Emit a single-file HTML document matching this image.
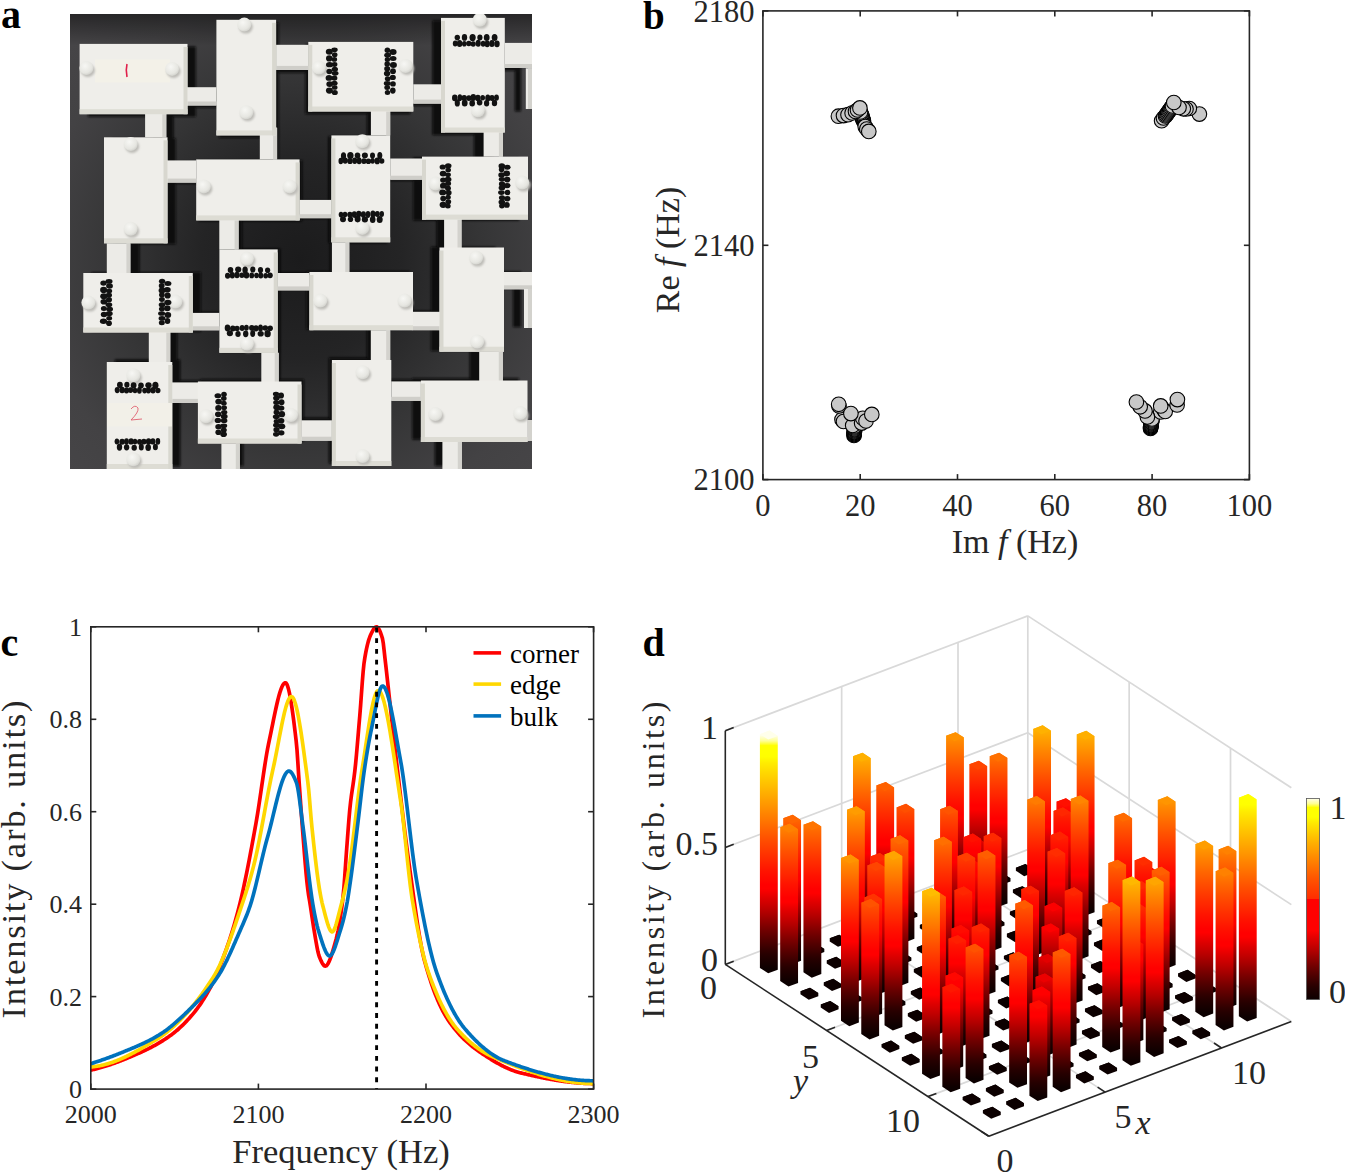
<!DOCTYPE html>
<html><head><meta charset="utf-8"><title>Figure</title>
<style>html,body{margin:0;padding:0;background:#fff;} body{width:1345px;height:1173px;overflow:hidden;font-family:"Liberation Serif",serif;} svg{display:block;}</style>
</head><body>
<svg width="1345" height="1173" viewBox="0 0 1345 1173" font-family="Liberation Serif"><defs><linearGradient id="bgg" x1="0" y1="0" x2="1" y2="1"><stop offset="0" stop-color="#2c2b2d"/><stop offset="0.3" stop-color="#3d3c3e"/><stop offset="1" stop-color="#4a494b"/></linearGradient><filter id="blur3" x="-20%" y="-20%" width="140%" height="140%"><feGaussianBlur stdDeviation="0.9"/></filter><filter id="blur1" x="-20%" y="-20%" width="140%" height="140%"><feGaussianBlur stdDeviation="0.8"/></filter><radialGradient id="knob" cx="0.4" cy="0.35" r="0.7"><stop offset="0" stop-color="#f7f7f4"/><stop offset="0.7" stop-color="#e6e6e1"/><stop offset="1" stop-color="#cfcfca"/></radialGradient><clipPath id="pclip"><rect x="70" y="14" width="462" height="455"/></clipPath></defs>
<g clip-path="url(#pclip)">
<defs><radialGradient id="bgr" gradientUnits="userSpaceOnUse" cx="300" cy="260" r="330"><stop offset="0" stop-color="#1b1b1c"/><stop offset="0.3" stop-color="#242425"/><stop offset="0.55" stop-color="#353536"/><stop offset="0.8" stop-color="#434244"/><stop offset="1" stop-color="#474648"/></radialGradient><linearGradient id="topdark" x1="0" y1="0" x2="0" y2="1"><stop offset="0" stop-color="#000" stop-opacity="0.45"/><stop offset="1" stop-color="#000" stop-opacity="0"/></linearGradient></defs>
<rect x="70" y="14" width="462" height="455" fill="url(#bgr)"/>
<rect x="70" y="14" width="462" height="32" fill="url(#topdark)"/>
<g filter="url(#blur3)" fill="#0b0b0b" opacity="0.97">
<rect x="87.9" y="46.5" width="107.9" height="70.3"/>
<rect x="219.1" y="22.4" width="59.7" height="115.6"/>
<rect x="112.2" y="138.2" width="63.5" height="106.0"/>
<rect x="198.8" y="160.3" width="103.4" height="61.0"/>
<rect x="305.3" y="44.5" width="105.0" height="69.6"/>
<rect x="432.4" y="20.5" width="63.8" height="114.6"/>
<rect x="328.4" y="136.3" width="58.8" height="106.9"/>
<rect x="413.2" y="157.5" width="106.0" height="63.0"/>
<rect x="91.4" y="272.2" width="109.5" height="59.5"/>
<rect x="222.0" y="248.6" width="58.3" height="103.4"/>
<rect x="114.8" y="359.5" width="65.5" height="107.0"/>
<rect x="200.4" y="379.1" width="103.6" height="62.0"/>
<rect x="306.3" y="271.2" width="103.6" height="58.2"/>
<rect x="430.9" y="246.8" width="64.5" height="104.2"/>
<rect x="328.8" y="357.6" width="59.4" height="106.0"/>
<rect x="412.2" y="378.1" width="106.6" height="61.5"/>
<rect x="191.4" y="89.5" width="29.9" height="18.3"/>
<rect x="276.5" y="47.7" width="32.2" height="25.1"/>
<rect x="152.3" y="107.4" width="21.2" height="31.8"/>
<rect x="261.4" y="129.3" width="17.3" height="31.7"/>
<rect x="171.4" y="161.6" width="30.8" height="22.2"/>
<rect x="406.9" y="86.6" width="29.9" height="19.3"/>
<rect x="366.9" y="105.6" width="19.3" height="31.8"/>
<rect x="493.9" y="45.8" width="27.2" height="25.1"/>
<rect x="473.9" y="126.4" width="19.3" height="31.8"/>
<rect x="384.9" y="159.7" width="31.8" height="21.2"/>
<rect x="298.8" y="200.5" width="31.8" height="18.3"/>
<rect x="222.9" y="219.4" width="19.3" height="30.2"/>
<rect x="436.5" y="218.5" width="17.4" height="30.2"/>
<rect x="514.8" y="70.7" width="6.2" height="40.7"/>
<rect x="115.9" y="243.2" width="23.6" height="29.7"/>
<rect x="193.5" y="311.8" width="30.7" height="17.4"/>
<rect x="155.8" y="329.9" width="21.5" height="30.7"/>
<rect x="278.0" y="272.5" width="31.7" height="17.4"/>
<rect x="262.8" y="351.0" width="17.4" height="30.7"/>
<rect x="174.0" y="380.3" width="30.7" height="20.5"/>
<rect x="224.9" y="440.5" width="18.4" height="25.5"/>
<rect x="329.9" y="242.2" width="17.4" height="29.7"/>
<rect x="406.3" y="310.7" width="30.7" height="18.4"/>
<rect x="366.8" y="328.8" width="19.4" height="30.8"/>
<rect x="492.9" y="271.5" width="28.2" height="17.3"/>
<rect x="469.6" y="349.9" width="23.6" height="30.7"/>
<rect x="300.5" y="417.6" width="30.6" height="20.4"/>
<rect x="386.0" y="379.3" width="29.6" height="19.4"/>
<rect x="434.8" y="438.7" width="19.4" height="27.3"/>
<rect x="516.3" y="417.3" width="4.7" height="21.0"/>
<rect x="513.0" y="288.1" width="8.0" height="39.0"/>
</g>
<rect x="186.5" y="87.2" width="29.9" height="18.3" fill="#ecebe7"/>
<rect x="186.5" y="101.5" width="29.9" height="4" fill="#cfcec9"/>
<rect x="276.1" y="44.8" width="32.2" height="25.1" fill="#ecebe7"/>
<rect x="276.1" y="65.9" width="32.2" height="4" fill="#cfcec9"/>
<rect x="145.1" y="105.5" width="21.2" height="31.8" fill="#ecebe7"/>
<rect x="162.3" y="105.5" width="4" height="31.8" fill="#d3d2cd"/>
<rect x="259.8" y="127.7" width="17.3" height="31.7" fill="#ecebe7"/>
<rect x="273.1" y="127.7" width="4" height="31.7" fill="#d3d2cd"/>
<rect x="165.4" y="160.4" width="30.8" height="22.2" fill="#ecebe7"/>
<rect x="165.4" y="178.6" width="30.8" height="4" fill="#cfcec9"/>
<rect x="413.3" y="84.3" width="29.9" height="19.3" fill="#ecebe7"/>
<rect x="413.3" y="99.6" width="29.9" height="4" fill="#cfcec9"/>
<rect x="370.9" y="103.6" width="19.3" height="31.8" fill="#ecebe7"/>
<rect x="386.2" y="103.6" width="4" height="31.8" fill="#d3d2cd"/>
<rect x="504.8" y="42.9" width="27.2" height="25.1" fill="#ecebe7"/>
<rect x="504.8" y="64.0" width="27.2" height="4" fill="#cfcec9"/>
<rect x="483.6" y="124.8" width="19.3" height="31.8" fill="#ecebe7"/>
<rect x="498.9" y="124.8" width="4" height="31.8" fill="#d3d2cd"/>
<rect x="390.2" y="158.5" width="31.8" height="21.2" fill="#ecebe7"/>
<rect x="390.2" y="175.7" width="31.8" height="4" fill="#cfcec9"/>
<rect x="299.6" y="199.9" width="31.8" height="18.3" fill="#ecebe7"/>
<rect x="299.6" y="214.2" width="31.8" height="4" fill="#cfcec9"/>
<rect x="219.3" y="219.2" width="19.3" height="30.2" fill="#ecebe7"/>
<rect x="234.6" y="219.2" width="4" height="30.2" fill="#d3d2cd"/>
<rect x="444.1" y="218.2" width="17.4" height="30.2" fill="#ecebe7"/>
<rect x="457.5" y="218.2" width="4" height="30.2" fill="#d3d2cd"/>
<rect x="525.8" y="68.3" width="6.2" height="40.7" fill="#ecebe7"/>
<rect x="528.0" y="68.3" width="4" height="40.7" fill="#d3d2cd"/>
<rect x="106.8" y="243.3" width="23.6" height="29.7" fill="#ecebe7"/>
<rect x="126.4" y="243.3" width="4" height="29.7" fill="#d3d2cd"/>
<rect x="188.7" y="312.9" width="30.7" height="17.4" fill="#ecebe7"/>
<rect x="188.7" y="326.3" width="30.7" height="4" fill="#cfcec9"/>
<rect x="148.8" y="331.3" width="21.5" height="30.7" fill="#ecebe7"/>
<rect x="166.3" y="331.3" width="4" height="30.7" fill="#d3d2cd"/>
<rect x="277.7" y="273.0" width="31.7" height="17.4" fill="#ecebe7"/>
<rect x="277.7" y="286.4" width="31.7" height="4" fill="#cfcec9"/>
<rect x="261.3" y="352.8" width="17.4" height="30.7" fill="#ecebe7"/>
<rect x="274.7" y="352.8" width="4" height="30.7" fill="#d3d2cd"/>
<rect x="168.2" y="382.4" width="30.7" height="20.5" fill="#ecebe7"/>
<rect x="168.2" y="398.9" width="30.7" height="4" fill="#cfcec9"/>
<rect x="221.4" y="443.5" width="18.4" height="25.5" fill="#ecebe7"/>
<rect x="235.8" y="443.5" width="4" height="25.5" fill="#d3d2cd"/>
<rect x="331.9" y="242.3" width="17.4" height="29.7" fill="#ecebe7"/>
<rect x="345.3" y="242.3" width="4" height="29.7" fill="#d3d2cd"/>
<rect x="412.7" y="311.8" width="30.7" height="18.4" fill="#ecebe7"/>
<rect x="412.7" y="326.2" width="30.7" height="4" fill="#cfcec9"/>
<rect x="370.8" y="330.2" width="19.4" height="30.8" fill="#ecebe7"/>
<rect x="386.2" y="330.2" width="4" height="30.8" fill="#d3d2cd"/>
<rect x="503.8" y="272.0" width="28.2" height="17.3" fill="#ecebe7"/>
<rect x="503.8" y="285.3" width="28.2" height="4" fill="#cfcec9"/>
<rect x="479.2" y="351.7" width="23.6" height="30.7" fill="#ecebe7"/>
<rect x="498.8" y="351.7" width="4" height="30.7" fill="#d3d2cd"/>
<rect x="301.3" y="420.3" width="30.6" height="20.4" fill="#ecebe7"/>
<rect x="301.3" y="436.7" width="30.6" height="4" fill="#cfcec9"/>
<rect x="391.3" y="381.4" width="29.6" height="19.4" fill="#ecebe7"/>
<rect x="391.3" y="396.8" width="29.6" height="4" fill="#cfcec9"/>
<rect x="442.4" y="441.7" width="19.4" height="27.3" fill="#ecebe7"/>
<rect x="457.8" y="441.7" width="4" height="27.3" fill="#d3d2cd"/>
<rect x="527.3" y="420.0" width="4.7" height="21.0" fill="#ecebe7"/>
<rect x="528.0" y="420.0" width="4" height="21.0" fill="#d3d2cd"/>
<rect x="524.0" y="289.0" width="8.0" height="39.0" fill="#ecebe7"/>
<rect x="528.0" y="289.0" width="4" height="39.0" fill="#d3d2cd"/>
<rect x="79.6" y="43.9" width="107.9" height="70.3" fill="#efeeea"/>
<rect x="79.6" y="109.2" width="107.9" height="5" fill="#dddcd4"/>
<rect x="183.5" y="46.9" width="4" height="67.3" fill="#d8d7cf"/>
<rect x="216.4" y="19.8" width="59.7" height="115.6" fill="#efeeea"/>
<rect x="216.4" y="130.4" width="59.7" height="5" fill="#dddcd4"/>
<rect x="272.1" y="22.8" width="4" height="112.6" fill="#d8d7cf"/>
<rect x="104.0" y="137.3" width="63.5" height="106.0" fill="#efeeea"/>
<rect x="104.0" y="238.3" width="63.5" height="5" fill="#dddcd4"/>
<rect x="163.5" y="140.3" width="4" height="103.0" fill="#d8d7cf"/>
<rect x="196.2" y="159.4" width="103.4" height="61.0" fill="#efeeea"/>
<rect x="196.2" y="215.4" width="103.4" height="5" fill="#dddcd4"/>
<rect x="295.6" y="162.4" width="4" height="58.0" fill="#d8d7cf"/>
<rect x="308.3" y="41.9" width="105.0" height="69.6" fill="#efeeea"/>
<rect x="308.3" y="106.5" width="105.0" height="5" fill="#dddcd4"/>
<rect x="308.3" y="44.9" width="4" height="66.6" fill="#d8d7cf"/>
<rect x="441.0" y="17.9" width="63.8" height="114.6" fill="#efeeea"/>
<rect x="441.0" y="127.5" width="63.8" height="5" fill="#dddcd4"/>
<rect x="441.0" y="20.9" width="4" height="111.6" fill="#d8d7cf"/>
<rect x="331.4" y="135.4" width="58.8" height="106.9" fill="#efeeea"/>
<rect x="331.4" y="237.3" width="58.8" height="5" fill="#dddcd4"/>
<rect x="331.4" y="138.4" width="4" height="103.9" fill="#d8d7cf"/>
<rect x="422.0" y="156.6" width="106.0" height="63.0" fill="#efeeea"/>
<rect x="422.0" y="214.6" width="106.0" height="5" fill="#dddcd4"/>
<rect x="422.0" y="159.6" width="4" height="60.0" fill="#d8d7cf"/>
<rect x="83.3" y="273.0" width="109.5" height="59.5" fill="#efeeea"/>
<rect x="83.3" y="327.5" width="109.5" height="5" fill="#dddcd4"/>
<rect x="188.8" y="276.0" width="4" height="56.5" fill="#d8d7cf"/>
<rect x="219.4" y="249.4" width="58.3" height="103.4" fill="#efeeea"/>
<rect x="219.4" y="347.8" width="58.3" height="5" fill="#dddcd4"/>
<rect x="273.7" y="252.4" width="4" height="100.4" fill="#d8d7cf"/>
<rect x="106.8" y="362.0" width="65.5" height="107.0" fill="#efeeea"/>
<rect x="106.8" y="464.0" width="65.5" height="5" fill="#dddcd4"/>
<rect x="168.3" y="365.0" width="4" height="104.0" fill="#d8d7cf"/>
<rect x="197.9" y="381.5" width="103.6" height="62.0" fill="#efeeea"/>
<rect x="197.9" y="438.5" width="103.6" height="5" fill="#dddcd4"/>
<rect x="297.5" y="384.5" width="4" height="59.0" fill="#d8d7cf"/>
<rect x="309.4" y="272.0" width="103.6" height="58.2" fill="#efeeea"/>
<rect x="309.4" y="325.2" width="103.6" height="5" fill="#dddcd4"/>
<rect x="309.4" y="275.0" width="4" height="55.2" fill="#d8d7cf"/>
<rect x="439.5" y="247.5" width="64.5" height="104.2" fill="#efeeea"/>
<rect x="439.5" y="346.7" width="64.5" height="5" fill="#dddcd4"/>
<rect x="439.5" y="250.5" width="4" height="101.2" fill="#d8d7cf"/>
<rect x="331.9" y="360.0" width="59.4" height="106.0" fill="#efeeea"/>
<rect x="331.9" y="461.0" width="59.4" height="5" fill="#dddcd4"/>
<rect x="331.9" y="363.0" width="4" height="103.0" fill="#d8d7cf"/>
<rect x="420.9" y="380.5" width="106.6" height="61.5" fill="#efeeea"/>
<rect x="420.9" y="437.0" width="106.6" height="5" fill="#dddcd4"/>
<rect x="420.9" y="383.5" width="4" height="58.5" fill="#d8d7cf"/>
<rect x="95" y="59.3" width="75" height="23" fill="#f3f1e8"/>
<path d="M127,64 Q125.5,70 127,77" stroke="#e0204a" stroke-width="1.6" fill="none"/>
<rect x="107" y="403" width="65" height="23.5" fill="#f2f0e8"/>
<path d="M131,409 Q135,404 138,408 Q139,412 131,420 L142,419" stroke="#e06070" stroke-width="0.9" fill="none"/>
<ellipse cx="87.9" cy="70.5" rx="7" ry="6.5" fill="#bdbcb7" filter="url(#blur1)"/>
<circle cx="86.4" cy="68.0" r="7" fill="url(#knob)"/>
<ellipse cx="173.6" cy="71.4" rx="7" ry="6.5" fill="#bdbcb7" filter="url(#blur1)"/>
<circle cx="172.1" cy="68.9" r="7" fill="url(#knob)"/>
<ellipse cx="245.8" cy="27.1" rx="7" ry="6.5" fill="#bdbcb7" filter="url(#blur1)"/>
<circle cx="244.3" cy="24.6" r="7" fill="url(#knob)"/>
<ellipse cx="247.8" cy="114.7" rx="7" ry="6.5" fill="#bdbcb7" filter="url(#blur1)"/>
<circle cx="246.3" cy="112.2" r="7" fill="url(#knob)"/>
<ellipse cx="132.2" cy="146.5" rx="7" ry="6.5" fill="#bdbcb7" filter="url(#blur1)"/>
<circle cx="130.7" cy="144.0" r="7" fill="url(#knob)"/>
<ellipse cx="132.2" cy="231.3" rx="7" ry="6.5" fill="#bdbcb7" filter="url(#blur1)"/>
<circle cx="130.7" cy="228.8" r="7" fill="url(#knob)"/>
<ellipse cx="205.4" cy="188.9" rx="7" ry="6.5" fill="#bdbcb7" filter="url(#blur1)"/>
<circle cx="203.9" cy="186.4" r="7" fill="url(#knob)"/>
<ellipse cx="291.1" cy="188.9" rx="7" ry="6.5" fill="#bdbcb7" filter="url(#blur1)"/>
<circle cx="289.6" cy="186.4" r="7" fill="url(#knob)"/>
<ellipse cx="320.4" cy="70.1" rx="7" ry="6.5" fill="#bdbcb7" filter="url(#blur1)"/>
<circle cx="318.9" cy="67.6" r="7" fill="url(#knob)"/>
<ellipse cx="407.1" cy="68.5" rx="7" ry="6.5" fill="#bdbcb7" filter="url(#blur1)"/>
<circle cx="405.6" cy="66.0" r="7" fill="url(#knob)"/>
<ellipse cx="481.3" cy="22.3" rx="7" ry="6.5" fill="#bdbcb7" filter="url(#blur1)"/>
<circle cx="479.8" cy="19.8" r="7" fill="url(#knob)"/>
<ellipse cx="479.4" cy="112.8" rx="7" ry="6.5" fill="#bdbcb7" filter="url(#blur1)"/>
<circle cx="477.9" cy="110.3" r="7" fill="url(#knob)"/>
<ellipse cx="363.8" cy="143.7" rx="7" ry="6.5" fill="#bdbcb7" filter="url(#blur1)"/>
<circle cx="362.3" cy="141.2" r="7" fill="url(#knob)"/>
<ellipse cx="363.8" cy="230.4" rx="7" ry="6.5" fill="#bdbcb7" filter="url(#blur1)"/>
<circle cx="362.3" cy="227.9" r="7" fill="url(#knob)"/>
<ellipse cx="437.0" cy="186.1" rx="7" ry="6.5" fill="#bdbcb7" filter="url(#blur1)"/>
<circle cx="435.5" cy="183.6" r="7" fill="url(#knob)"/>
<ellipse cx="523.7" cy="185.1" rx="7" ry="6.5" fill="#bdbcb7" filter="url(#blur1)"/>
<circle cx="522.2" cy="182.6" r="7" fill="url(#knob)"/>
<ellipse cx="89.9" cy="305.1" rx="7" ry="6.5" fill="#bdbcb7" filter="url(#blur1)"/>
<circle cx="88.4" cy="302.6" r="7" fill="url(#knob)"/>
<ellipse cx="176.9" cy="304.1" rx="7" ry="6.5" fill="#bdbcb7" filter="url(#blur1)"/>
<circle cx="175.4" cy="301.6" r="7" fill="url(#knob)"/>
<ellipse cx="248.5" cy="261.1" rx="7" ry="6.5" fill="#bdbcb7" filter="url(#blur1)"/>
<circle cx="247.0" cy="258.6" r="7" fill="url(#knob)"/>
<ellipse cx="248.5" cy="346.1" rx="7" ry="6.5" fill="#bdbcb7" filter="url(#blur1)"/>
<circle cx="247.0" cy="343.6" r="7" fill="url(#knob)"/>
<ellipse cx="134.9" cy="377.8" rx="7" ry="6.5" fill="#bdbcb7" filter="url(#blur1)"/>
<circle cx="133.4" cy="375.3" r="7" fill="url(#knob)"/>
<ellipse cx="134.9" cy="461.7" rx="7" ry="6.5" fill="#bdbcb7" filter="url(#blur1)"/>
<circle cx="133.4" cy="459.2" r="7" fill="url(#knob)"/>
<ellipse cx="207.6" cy="418.7" rx="7" ry="6.5" fill="#bdbcb7" filter="url(#blur1)"/>
<circle cx="206.1" cy="416.2" r="7" fill="url(#knob)"/>
<ellipse cx="292.5" cy="417.6" rx="7" ry="6.5" fill="#bdbcb7" filter="url(#blur1)"/>
<circle cx="291.0" cy="415.1" r="7" fill="url(#knob)"/>
<ellipse cx="321.8" cy="303.1" rx="7" ry="6.5" fill="#bdbcb7" filter="url(#blur1)"/>
<circle cx="320.3" cy="300.6" r="7" fill="url(#knob)"/>
<ellipse cx="406.1" cy="303.1" rx="7" ry="6.5" fill="#bdbcb7" filter="url(#blur1)"/>
<circle cx="404.6" cy="300.6" r="7" fill="url(#knob)"/>
<ellipse cx="477.7" cy="260.1" rx="7" ry="6.5" fill="#bdbcb7" filter="url(#blur1)"/>
<circle cx="476.2" cy="257.6" r="7" fill="url(#knob)"/>
<ellipse cx="478.7" cy="344.0" rx="7" ry="6.5" fill="#bdbcb7" filter="url(#blur1)"/>
<circle cx="477.2" cy="341.5" r="7" fill="url(#knob)"/>
<ellipse cx="364.1" cy="374.7" rx="7" ry="6.5" fill="#bdbcb7" filter="url(#blur1)"/>
<circle cx="362.6" cy="372.2" r="7" fill="url(#knob)"/>
<ellipse cx="364.1" cy="458.6" rx="7" ry="6.5" fill="#bdbcb7" filter="url(#blur1)"/>
<circle cx="362.6" cy="456.1" r="7" fill="url(#knob)"/>
<ellipse cx="436.8" cy="416.6" rx="7" ry="6.5" fill="#bdbcb7" filter="url(#blur1)"/>
<circle cx="435.3" cy="414.1" r="7" fill="url(#knob)"/>
<ellipse cx="521.7" cy="415.6" rx="7" ry="6.5" fill="#bdbcb7" filter="url(#blur1)"/>
<circle cx="520.2" cy="413.1" r="7" fill="url(#knob)"/>
<ellipse cx="334.5" cy="49.8" rx="3.2" ry="2.3" fill="#121212"/>
<ellipse cx="334.7" cy="54.7" rx="2.8" ry="2.5" fill="#121212"/>
<ellipse cx="334.3" cy="59.4" rx="2.8" ry="2.3" fill="#121212"/>
<ellipse cx="334.6" cy="64.5" rx="2.8" ry="2.4" fill="#121212"/>
<ellipse cx="334.8" cy="69.3" rx="3.2" ry="2.5" fill="#121212"/>
<ellipse cx="335.1" cy="73.3" rx="3.4" ry="2.4" fill="#121212"/>
<ellipse cx="334.4" cy="78.1" rx="3.0" ry="2.7" fill="#121212"/>
<ellipse cx="334.4" cy="83.2" rx="3.2" ry="2.5" fill="#121212"/>
<ellipse cx="334.7" cy="87.5" rx="2.8" ry="2.3" fill="#121212"/>
<ellipse cx="334.8" cy="92.5" rx="3.0" ry="2.6" fill="#121212"/>
<ellipse cx="329.3" cy="51.8" rx="3.5" ry="3.0" fill="#121212"/>
<ellipse cx="329.2" cy="58.4" rx="3.2" ry="3.1" fill="#121212"/>
<ellipse cx="329.6" cy="64.7" rx="3.6" ry="2.6" fill="#121212"/>
<ellipse cx="329.3" cy="71.5" rx="2.9" ry="2.8" fill="#121212"/>
<ellipse cx="329.0" cy="77.9" rx="3.4" ry="2.9" fill="#121212"/>
<ellipse cx="329.7" cy="84.1" rx="3.4" ry="2.9" fill="#121212"/>
<ellipse cx="329.4" cy="90.6" rx="3.5" ry="3.1" fill="#121212"/>
<ellipse cx="387.4" cy="50.2" rx="2.8" ry="2.7" fill="#121212"/>
<ellipse cx="387.6" cy="55.2" rx="3.4" ry="2.4" fill="#121212"/>
<ellipse cx="387.4" cy="59.6" rx="2.7" ry="2.5" fill="#121212"/>
<ellipse cx="387.2" cy="63.9" rx="2.8" ry="2.7" fill="#121212"/>
<ellipse cx="387.2" cy="68.7" rx="3.0" ry="2.8" fill="#121212"/>
<ellipse cx="387.1" cy="73.6" rx="3.2" ry="2.8" fill="#121212"/>
<ellipse cx="387.7" cy="78.7" rx="2.9" ry="2.5" fill="#121212"/>
<ellipse cx="387.3" cy="83.4" rx="3.5" ry="2.3" fill="#121212"/>
<ellipse cx="387.2" cy="87.6" rx="2.9" ry="2.5" fill="#121212"/>
<ellipse cx="387.5" cy="92.4" rx="2.7" ry="2.5" fill="#121212"/>
<ellipse cx="393.0" cy="52.0" rx="3.6" ry="3.0" fill="#121212"/>
<ellipse cx="393.1" cy="58.5" rx="3.4" ry="2.5" fill="#121212"/>
<ellipse cx="393.4" cy="65.1" rx="3.5" ry="3.0" fill="#121212"/>
<ellipse cx="393.0" cy="71.2" rx="2.9" ry="2.9" fill="#121212"/>
<ellipse cx="392.8" cy="77.4" rx="3.0" ry="2.6" fill="#121212"/>
<ellipse cx="393.0" cy="83.9" rx="2.8" ry="2.6" fill="#121212"/>
<ellipse cx="392.8" cy="90.6" rx="2.8" ry="3.1" fill="#121212"/>
<ellipse cx="455.2" cy="43.4" rx="2.4" ry="3.0" fill="#121212"/>
<ellipse cx="459.6" cy="43.4" rx="2.8" ry="3.5" fill="#121212"/>
<ellipse cx="464.3" cy="43.7" rx="2.3" ry="2.8" fill="#121212"/>
<ellipse cx="468.8" cy="43.5" rx="2.7" ry="2.8" fill="#121212"/>
<ellipse cx="473.2" cy="44.0" rx="2.6" ry="2.8" fill="#121212"/>
<ellipse cx="478.2" cy="43.3" rx="2.6" ry="3.5" fill="#121212"/>
<ellipse cx="483.1" cy="43.8" rx="2.4" ry="3.0" fill="#121212"/>
<ellipse cx="487.2" cy="43.9" rx="2.6" ry="3.3" fill="#121212"/>
<ellipse cx="491.9" cy="43.4" rx="2.7" ry="3.5" fill="#121212"/>
<ellipse cx="497.0" cy="43.9" rx="2.7" ry="3.3" fill="#121212"/>
<ellipse cx="457.3" cy="37.6" rx="2.7" ry="2.8" fill="#121212"/>
<ellipse cx="464.5" cy="37.4" rx="2.7" ry="3.4" fill="#121212"/>
<ellipse cx="472.6" cy="37.6" rx="3.1" ry="3.6" fill="#121212"/>
<ellipse cx="479.9" cy="37.5" rx="2.6" ry="3.0" fill="#121212"/>
<ellipse cx="486.7" cy="37.4" rx="2.9" ry="3.5" fill="#121212"/>
<ellipse cx="494.6" cy="37.6" rx="2.9" ry="3.5" fill="#121212"/>
<ellipse cx="454.8" cy="97.9" rx="2.8" ry="3.3" fill="#121212"/>
<ellipse cx="459.9" cy="97.7" rx="2.3" ry="3.4" fill="#121212"/>
<ellipse cx="464.2" cy="98.0" rx="2.8" ry="3.0" fill="#121212"/>
<ellipse cx="468.9" cy="98.1" rx="2.7" ry="2.9" fill="#121212"/>
<ellipse cx="473.3" cy="97.5" rx="2.8" ry="3.4" fill="#121212"/>
<ellipse cx="477.9" cy="98.0" rx="2.8" ry="3.2" fill="#121212"/>
<ellipse cx="482.7" cy="97.8" rx="2.3" ry="2.7" fill="#121212"/>
<ellipse cx="487.8" cy="97.9" rx="2.6" ry="3.5" fill="#121212"/>
<ellipse cx="492.0" cy="98.0" rx="2.7" ry="2.9" fill="#121212"/>
<ellipse cx="496.5" cy="97.6" rx="2.4" ry="3.2" fill="#121212"/>
<ellipse cx="457.3" cy="102.9" rx="2.6" ry="3.6" fill="#121212"/>
<ellipse cx="464.7" cy="103.0" rx="2.9" ry="3.6" fill="#121212"/>
<ellipse cx="472.2" cy="103.3" rx="2.8" ry="3.2" fill="#121212"/>
<ellipse cx="479.6" cy="102.6" rx="2.8" ry="3.0" fill="#121212"/>
<ellipse cx="486.6" cy="103.2" rx="2.6" ry="3.2" fill="#121212"/>
<ellipse cx="494.5" cy="103.0" rx="2.7" ry="3.2" fill="#121212"/>
<ellipse cx="340.8" cy="161.0" rx="2.3" ry="3.2" fill="#121212"/>
<ellipse cx="345.2" cy="160.6" rx="2.7" ry="3.1" fill="#121212"/>
<ellipse cx="350.0" cy="161.0" rx="2.8" ry="3.1" fill="#121212"/>
<ellipse cx="354.7" cy="160.8" rx="2.5" ry="3.3" fill="#121212"/>
<ellipse cx="359.1" cy="160.8" rx="2.5" ry="3.5" fill="#121212"/>
<ellipse cx="363.9" cy="161.1" rx="2.8" ry="2.9" fill="#121212"/>
<ellipse cx="368.4" cy="161.2" rx="2.8" ry="2.8" fill="#121212"/>
<ellipse cx="372.6" cy="160.8" rx="2.3" ry="2.9" fill="#121212"/>
<ellipse cx="377.2" cy="160.9" rx="2.7" ry="3.4" fill="#121212"/>
<ellipse cx="381.8" cy="161.0" rx="2.6" ry="2.8" fill="#121212"/>
<ellipse cx="343.5" cy="155.9" rx="2.6" ry="3.6" fill="#121212"/>
<ellipse cx="350.4" cy="155.5" rx="3.2" ry="3.5" fill="#121212"/>
<ellipse cx="357.5" cy="155.5" rx="2.8" ry="3.1" fill="#121212"/>
<ellipse cx="364.9" cy="155.4" rx="3.0" ry="2.8" fill="#121212"/>
<ellipse cx="372.5" cy="155.5" rx="2.5" ry="3.1" fill="#121212"/>
<ellipse cx="379.8" cy="155.6" rx="2.5" ry="3.6" fill="#121212"/>
<ellipse cx="341.0" cy="214.6" rx="2.3" ry="2.9" fill="#121212"/>
<ellipse cx="345.0" cy="214.5" rx="2.4" ry="2.8" fill="#121212"/>
<ellipse cx="349.9" cy="214.6" rx="2.7" ry="2.9" fill="#121212"/>
<ellipse cx="354.3" cy="214.6" rx="2.6" ry="3.3" fill="#121212"/>
<ellipse cx="358.8" cy="213.9" rx="2.7" ry="3.1" fill="#121212"/>
<ellipse cx="363.4" cy="214.6" rx="2.6" ry="3.4" fill="#121212"/>
<ellipse cx="368.0" cy="214.5" rx="2.3" ry="3.4" fill="#121212"/>
<ellipse cx="372.9" cy="214.1" rx="2.6" ry="3.5" fill="#121212"/>
<ellipse cx="377.3" cy="214.0" rx="2.6" ry="2.9" fill="#121212"/>
<ellipse cx="381.8" cy="214.0" rx="2.2" ry="2.9" fill="#121212"/>
<ellipse cx="343.0" cy="219.3" rx="3.0" ry="3.0" fill="#121212"/>
<ellipse cx="350.5" cy="219.2" rx="2.7" ry="2.8" fill="#121212"/>
<ellipse cx="357.6" cy="219.1" rx="3.0" ry="3.3" fill="#121212"/>
<ellipse cx="364.9" cy="219.5" rx="3.1" ry="2.9" fill="#121212"/>
<ellipse cx="372.7" cy="219.4" rx="2.8" ry="3.5" fill="#121212"/>
<ellipse cx="379.7" cy="219.5" rx="3.0" ry="3.6" fill="#121212"/>
<ellipse cx="448.2" cy="165.8" rx="3.3" ry="2.6" fill="#121212"/>
<ellipse cx="448.2" cy="170.0" rx="2.8" ry="2.3" fill="#121212"/>
<ellipse cx="448.0" cy="174.8" rx="2.9" ry="2.3" fill="#121212"/>
<ellipse cx="448.0" cy="179.4" rx="3.4" ry="2.6" fill="#121212"/>
<ellipse cx="448.1" cy="183.5" rx="3.0" ry="2.5" fill="#121212"/>
<ellipse cx="448.0" cy="188.2" rx="2.9" ry="2.8" fill="#121212"/>
<ellipse cx="448.7" cy="192.8" rx="2.9" ry="2.8" fill="#121212"/>
<ellipse cx="448.1" cy="197.2" rx="2.7" ry="2.5" fill="#121212"/>
<ellipse cx="448.3" cy="201.8" rx="2.9" ry="2.5" fill="#121212"/>
<ellipse cx="447.9" cy="206.1" rx="2.8" ry="2.5" fill="#121212"/>
<ellipse cx="442.7" cy="167.0" rx="3.1" ry="2.6" fill="#121212"/>
<ellipse cx="443.1" cy="173.6" rx="3.4" ry="2.9" fill="#121212"/>
<ellipse cx="443.2" cy="180.1" rx="3.1" ry="2.7" fill="#121212"/>
<ellipse cx="443.4" cy="185.7" rx="3.4" ry="2.9" fill="#121212"/>
<ellipse cx="442.7" cy="192.4" rx="3.5" ry="2.9" fill="#121212"/>
<ellipse cx="443.2" cy="198.6" rx="2.9" ry="2.8" fill="#121212"/>
<ellipse cx="443.1" cy="204.8" rx="3.5" ry="3.1" fill="#121212"/>
<ellipse cx="501.8" cy="165.9" rx="3.3" ry="2.7" fill="#121212"/>
<ellipse cx="501.6" cy="169.7" rx="2.8" ry="2.4" fill="#121212"/>
<ellipse cx="501.5" cy="174.9" rx="3.2" ry="2.6" fill="#121212"/>
<ellipse cx="501.9" cy="179.3" rx="3.1" ry="2.2" fill="#121212"/>
<ellipse cx="502.0" cy="183.9" rx="3.1" ry="2.6" fill="#121212"/>
<ellipse cx="501.9" cy="187.9" rx="3.3" ry="2.4" fill="#121212"/>
<ellipse cx="501.4" cy="192.6" rx="3.3" ry="2.3" fill="#121212"/>
<ellipse cx="502.0" cy="197.7" rx="3.1" ry="2.5" fill="#121212"/>
<ellipse cx="501.8" cy="202.0" rx="3.3" ry="2.6" fill="#121212"/>
<ellipse cx="501.9" cy="206.0" rx="2.8" ry="2.4" fill="#121212"/>
<ellipse cx="507.3" cy="167.2" rx="3.3" ry="2.5" fill="#121212"/>
<ellipse cx="506.7" cy="173.4" rx="3.4" ry="3.0" fill="#121212"/>
<ellipse cx="507.2" cy="179.6" rx="3.2" ry="2.8" fill="#121212"/>
<ellipse cx="507.0" cy="185.6" rx="3.5" ry="2.6" fill="#121212"/>
<ellipse cx="507.5" cy="192.5" rx="2.8" ry="2.8" fill="#121212"/>
<ellipse cx="507.3" cy="198.7" rx="3.2" ry="2.7" fill="#121212"/>
<ellipse cx="506.8" cy="204.9" rx="3.0" ry="2.9" fill="#121212"/>
<ellipse cx="109.0" cy="281.4" rx="3.5" ry="2.3" fill="#121212"/>
<ellipse cx="109.5" cy="286.0" rx="3.4" ry="2.7" fill="#121212"/>
<ellipse cx="109.1" cy="290.9" rx="3.1" ry="2.2" fill="#121212"/>
<ellipse cx="108.9" cy="295.2" rx="3.1" ry="2.4" fill="#121212"/>
<ellipse cx="109.0" cy="299.7" rx="3.0" ry="2.8" fill="#121212"/>
<ellipse cx="108.9" cy="304.7" rx="3.4" ry="2.3" fill="#121212"/>
<ellipse cx="109.6" cy="309.2" rx="3.4" ry="2.4" fill="#121212"/>
<ellipse cx="109.2" cy="313.6" rx="3.5" ry="2.6" fill="#121212"/>
<ellipse cx="109.2" cy="318.2" rx="2.9" ry="2.2" fill="#121212"/>
<ellipse cx="109.0" cy="323.2" rx="2.9" ry="2.8" fill="#121212"/>
<ellipse cx="103.5" cy="283.1" rx="3.2" ry="2.6" fill="#121212"/>
<ellipse cx="103.6" cy="289.9" rx="3.5" ry="3.1" fill="#121212"/>
<ellipse cx="103.8" cy="296.2" rx="3.6" ry="2.9" fill="#121212"/>
<ellipse cx="103.9" cy="301.8" rx="3.4" ry="2.8" fill="#121212"/>
<ellipse cx="103.9" cy="308.6" rx="3.0" ry="2.5" fill="#121212"/>
<ellipse cx="104.0" cy="314.5" rx="3.2" ry="2.7" fill="#121212"/>
<ellipse cx="103.5" cy="321.2" rx="3.6" ry="2.7" fill="#121212"/>
<ellipse cx="162.1" cy="281.2" rx="3.2" ry="2.5" fill="#121212"/>
<ellipse cx="161.7" cy="285.7" rx="2.9" ry="2.8" fill="#121212"/>
<ellipse cx="162.0" cy="290.4" rx="3.4" ry="2.9" fill="#121212"/>
<ellipse cx="161.9" cy="294.9" rx="2.9" ry="2.3" fill="#121212"/>
<ellipse cx="161.9" cy="299.5" rx="2.9" ry="2.4" fill="#121212"/>
<ellipse cx="162.0" cy="304.8" rx="3.3" ry="2.5" fill="#121212"/>
<ellipse cx="161.9" cy="309.1" rx="3.0" ry="2.4" fill="#121212"/>
<ellipse cx="161.6" cy="313.5" rx="3.5" ry="2.3" fill="#121212"/>
<ellipse cx="162.0" cy="318.4" rx="3.4" ry="2.4" fill="#121212"/>
<ellipse cx="161.8" cy="322.7" rx="3.0" ry="2.5" fill="#121212"/>
<ellipse cx="167.9" cy="283.5" rx="3.5" ry="2.5" fill="#121212"/>
<ellipse cx="167.2" cy="289.7" rx="3.5" ry="2.8" fill="#121212"/>
<ellipse cx="167.6" cy="295.5" rx="3.1" ry="3.1" fill="#121212"/>
<ellipse cx="167.8" cy="302.4" rx="3.6" ry="2.6" fill="#121212"/>
<ellipse cx="167.3" cy="308.2" rx="3.2" ry="3.0" fill="#121212"/>
<ellipse cx="167.9" cy="314.9" rx="3.3" ry="3.0" fill="#121212"/>
<ellipse cx="167.5" cy="321.1" rx="2.8" ry="3.0" fill="#121212"/>
<ellipse cx="227.6" cy="275.7" rx="2.6" ry="3.0" fill="#121212"/>
<ellipse cx="232.3" cy="275.2" rx="2.6" ry="3.3" fill="#121212"/>
<ellipse cx="237.0" cy="275.0" rx="2.6" ry="3.2" fill="#121212"/>
<ellipse cx="241.9" cy="275.2" rx="2.6" ry="2.7" fill="#121212"/>
<ellipse cx="246.5" cy="275.3" rx="2.8" ry="3.2" fill="#121212"/>
<ellipse cx="251.7" cy="275.4" rx="2.4" ry="2.9" fill="#121212"/>
<ellipse cx="256.5" cy="275.5" rx="2.4" ry="2.7" fill="#121212"/>
<ellipse cx="260.8" cy="275.5" rx="2.5" ry="2.9" fill="#121212"/>
<ellipse cx="265.7" cy="275.7" rx="2.4" ry="2.7" fill="#121212"/>
<ellipse cx="270.1" cy="275.3" rx="2.7" ry="2.9" fill="#121212"/>
<ellipse cx="230.5" cy="270.0" rx="2.8" ry="3.0" fill="#121212"/>
<ellipse cx="238.2" cy="269.6" rx="3.1" ry="3.0" fill="#121212"/>
<ellipse cx="245.1" cy="270.0" rx="2.7" ry="3.6" fill="#121212"/>
<ellipse cx="252.8" cy="269.5" rx="2.6" ry="3.1" fill="#121212"/>
<ellipse cx="260.5" cy="270.1" rx="2.6" ry="3.1" fill="#121212"/>
<ellipse cx="267.6" cy="270.2" rx="2.6" ry="2.8" fill="#121212"/>
<ellipse cx="227.5" cy="328.0" rx="2.8" ry="3.4" fill="#121212"/>
<ellipse cx="232.8" cy="328.5" rx="2.8" ry="3.0" fill="#121212"/>
<ellipse cx="237.0" cy="328.4" rx="2.7" ry="2.7" fill="#121212"/>
<ellipse cx="242.1" cy="328.0" rx="2.5" ry="3.0" fill="#121212"/>
<ellipse cx="246.4" cy="327.7" rx="2.4" ry="3.0" fill="#121212"/>
<ellipse cx="251.8" cy="327.8" rx="2.8" ry="2.9" fill="#121212"/>
<ellipse cx="256.0" cy="328.3" rx="2.7" ry="3.1" fill="#121212"/>
<ellipse cx="260.5" cy="328.1" rx="2.5" ry="3.5" fill="#121212"/>
<ellipse cx="265.3" cy="328.0" rx="2.8" ry="2.7" fill="#121212"/>
<ellipse cx="270.2" cy="328.3" rx="2.7" ry="2.8" fill="#121212"/>
<ellipse cx="229.9" cy="333.3" rx="3.1" ry="3.0" fill="#121212"/>
<ellipse cx="238.0" cy="334.0" rx="2.7" ry="3.0" fill="#121212"/>
<ellipse cx="245.7" cy="333.8" rx="2.7" ry="3.4" fill="#121212"/>
<ellipse cx="252.7" cy="333.5" rx="2.5" ry="3.4" fill="#121212"/>
<ellipse cx="260.7" cy="333.8" rx="3.1" ry="2.8" fill="#121212"/>
<ellipse cx="267.6" cy="333.7" rx="3.2" ry="3.6" fill="#121212"/>
<ellipse cx="117.2" cy="390.1" rx="2.5" ry="3.1" fill="#121212"/>
<ellipse cx="122.1" cy="390.0" rx="2.7" ry="3.3" fill="#121212"/>
<ellipse cx="126.5" cy="390.5" rx="2.6" ry="3.0" fill="#121212"/>
<ellipse cx="130.6" cy="390.1" rx="2.7" ry="2.8" fill="#121212"/>
<ellipse cx="135.0" cy="390.5" rx="2.4" ry="2.8" fill="#121212"/>
<ellipse cx="139.4" cy="390.3" rx="2.4" ry="3.5" fill="#121212"/>
<ellipse cx="144.6" cy="390.6" rx="2.4" ry="2.8" fill="#121212"/>
<ellipse cx="148.4" cy="390.3" rx="2.7" ry="3.1" fill="#121212"/>
<ellipse cx="153.0" cy="390.2" rx="2.6" ry="3.3" fill="#121212"/>
<ellipse cx="157.9" cy="390.5" rx="2.6" ry="2.8" fill="#121212"/>
<ellipse cx="119.9" cy="384.9" rx="2.9" ry="3.1" fill="#121212"/>
<ellipse cx="126.9" cy="384.8" rx="2.6" ry="3.0" fill="#121212"/>
<ellipse cx="133.6" cy="385.4" rx="2.9" ry="3.1" fill="#121212"/>
<ellipse cx="141.0" cy="385.5" rx="2.8" ry="3.0" fill="#121212"/>
<ellipse cx="148.5" cy="385.2" rx="3.2" ry="2.9" fill="#121212"/>
<ellipse cx="155.4" cy="385.3" rx="3.1" ry="3.6" fill="#121212"/>
<ellipse cx="116.9" cy="441.5" rx="2.3" ry="2.9" fill="#121212"/>
<ellipse cx="122.1" cy="441.8" rx="2.8" ry="3.0" fill="#121212"/>
<ellipse cx="126.5" cy="441.6" rx="2.4" ry="3.3" fill="#121212"/>
<ellipse cx="131.1" cy="441.4" rx="2.6" ry="3.2" fill="#121212"/>
<ellipse cx="135.0" cy="441.6" rx="2.3" ry="2.9" fill="#121212"/>
<ellipse cx="139.6" cy="441.8" rx="2.6" ry="2.9" fill="#121212"/>
<ellipse cx="143.9" cy="441.6" rx="2.7" ry="2.9" fill="#121212"/>
<ellipse cx="148.6" cy="441.5" rx="2.7" ry="3.2" fill="#121212"/>
<ellipse cx="152.9" cy="441.4" rx="2.5" ry="3.2" fill="#121212"/>
<ellipse cx="157.9" cy="441.4" rx="2.3" ry="3.3" fill="#121212"/>
<ellipse cx="119.5" cy="447.1" rx="2.7" ry="3.6" fill="#121212"/>
<ellipse cx="126.6" cy="447.3" rx="2.7" ry="3.1" fill="#121212"/>
<ellipse cx="134.2" cy="447.7" rx="2.7" ry="3.0" fill="#121212"/>
<ellipse cx="141.3" cy="447.0" rx="2.5" ry="3.5" fill="#121212"/>
<ellipse cx="148.2" cy="447.5" rx="2.8" ry="3.5" fill="#121212"/>
<ellipse cx="155.4" cy="447.0" rx="2.5" ry="3.3" fill="#121212"/>
<ellipse cx="224.0" cy="394.3" rx="2.8" ry="2.6" fill="#121212"/>
<ellipse cx="223.8" cy="398.5" rx="2.8" ry="2.4" fill="#121212"/>
<ellipse cx="223.9" cy="403.3" rx="2.8" ry="2.5" fill="#121212"/>
<ellipse cx="224.1" cy="407.8" rx="2.9" ry="2.3" fill="#121212"/>
<ellipse cx="224.2" cy="412.3" rx="3.1" ry="2.2" fill="#121212"/>
<ellipse cx="224.2" cy="416.4" rx="3.4" ry="2.6" fill="#121212"/>
<ellipse cx="224.1" cy="420.7" rx="3.3" ry="2.4" fill="#121212"/>
<ellipse cx="223.8" cy="425.7" rx="3.4" ry="2.3" fill="#121212"/>
<ellipse cx="223.7" cy="429.9" rx="3.1" ry="2.5" fill="#121212"/>
<ellipse cx="223.6" cy="434.2" rx="3.3" ry="2.8" fill="#121212"/>
<ellipse cx="217.9" cy="395.8" rx="3.4" ry="2.5" fill="#121212"/>
<ellipse cx="218.6" cy="401.6" rx="3.3" ry="2.9" fill="#121212"/>
<ellipse cx="218.4" cy="407.9" rx="3.2" ry="2.9" fill="#121212"/>
<ellipse cx="218.2" cy="414.3" rx="3.2" ry="2.8" fill="#121212"/>
<ellipse cx="217.9" cy="420.4" rx="3.2" ry="2.6" fill="#121212"/>
<ellipse cx="218.5" cy="426.7" rx="3.2" ry="2.6" fill="#121212"/>
<ellipse cx="218.3" cy="432.3" rx="2.9" ry="2.8" fill="#121212"/>
<ellipse cx="276.0" cy="393.9" rx="3.1" ry="2.2" fill="#121212"/>
<ellipse cx="276.4" cy="398.1" rx="3.3" ry="2.7" fill="#121212"/>
<ellipse cx="276.3" cy="402.6" rx="3.1" ry="2.5" fill="#121212"/>
<ellipse cx="276.7" cy="407.2" rx="3.4" ry="2.9" fill="#121212"/>
<ellipse cx="276.5" cy="412.2" rx="2.9" ry="2.8" fill="#121212"/>
<ellipse cx="276.3" cy="416.8" rx="3.5" ry="2.3" fill="#121212"/>
<ellipse cx="276.5" cy="421.3" rx="2.8" ry="2.4" fill="#121212"/>
<ellipse cx="276.5" cy="425.2" rx="3.4" ry="2.4" fill="#121212"/>
<ellipse cx="276.5" cy="429.7" rx="3.1" ry="2.8" fill="#121212"/>
<ellipse cx="276.1" cy="434.3" rx="3.1" ry="2.4" fill="#121212"/>
<ellipse cx="281.1" cy="395.5" rx="2.9" ry="3.1" fill="#121212"/>
<ellipse cx="281.6" cy="402.2" rx="2.9" ry="3.0" fill="#121212"/>
<ellipse cx="281.1" cy="408.1" rx="3.3" ry="2.7" fill="#121212"/>
<ellipse cx="281.8" cy="414.2" rx="3.3" ry="3.1" fill="#121212"/>
<ellipse cx="281.1" cy="420.7" rx="3.3" ry="2.8" fill="#121212"/>
<ellipse cx="281.7" cy="426.3" rx="3.6" ry="2.9" fill="#121212"/>
<ellipse cx="281.3" cy="432.8" rx="3.2" ry="2.6" fill="#121212"/>
</g>
<text x="1.0" y="28.3" font-size="40" text-anchor="start" font-weight="bold" font-style="normal" fill="#000" >a</text>
<text x="643.0" y="29.0" font-size="39" text-anchor="start" font-weight="bold" font-style="normal" fill="#000" >b</text>
<circle cx="863.5" cy="121.0" r="7.3" fill="#c8c8c8" stroke="#000" stroke-width="1.1"/>
<circle cx="863.1" cy="119.7" r="7.3" fill="#c8c8c8" stroke="#000" stroke-width="1.1"/>
<circle cx="862.6" cy="118.4" r="7.3" fill="#c8c8c8" stroke="#000" stroke-width="1.1"/>
<circle cx="862.2" cy="117.1" r="7.3" fill="#c8c8c8" stroke="#000" stroke-width="1.1"/>
<circle cx="861.8" cy="115.9" r="7.3" fill="#c8c8c8" stroke="#000" stroke-width="1.1"/>
<circle cx="861.4" cy="114.6" r="7.3" fill="#c8c8c8" stroke="#000" stroke-width="1.1"/>
<circle cx="860.9" cy="113.3" r="7.3" fill="#c8c8c8" stroke="#000" stroke-width="1.1"/>
<circle cx="860.5" cy="112.0" r="7.3" fill="#c8c8c8" stroke="#000" stroke-width="1.1"/>
<circle cx="865.2" cy="126.6" r="7.3" fill="#c8c8c8" stroke="#000" stroke-width="1.1"/>
<circle cx="866.8" cy="129.0" r="7.3" fill="#c8c8c8" stroke="#000" stroke-width="1.1"/>
<circle cx="868.8" cy="131.4" r="7.3" fill="#c8c8c8" stroke="#000" stroke-width="1.1"/>
<circle cx="838.4" cy="116.2" r="7.3" fill="#c8c8c8" stroke="#000" stroke-width="1.1"/>
<circle cx="843.5" cy="115.6" r="7.3" fill="#c8c8c8" stroke="#000" stroke-width="1.1"/>
<circle cx="848.0" cy="114.7" r="7.3" fill="#c8c8c8" stroke="#000" stroke-width="1.1"/>
<circle cx="852.1" cy="113.0" r="7.3" fill="#c8c8c8" stroke="#000" stroke-width="1.1"/>
<circle cx="855.5" cy="111.5" r="7.3" fill="#c8c8c8" stroke="#000" stroke-width="1.1"/>
<circle cx="857.5" cy="110.0" r="7.3" fill="#c8c8c8" stroke="#000" stroke-width="1.1"/>
<circle cx="859.9" cy="107.9" r="7.3" fill="#c8c8c8" stroke="#000" stroke-width="1.1"/>
<circle cx="1161.6" cy="120.7" r="7.3" fill="#c8c8c8" stroke="#000" stroke-width="1.1"/>
<circle cx="1163.5" cy="118.0" r="7.3" fill="#c8c8c8" stroke="#000" stroke-width="1.1"/>
<circle cx="1165.5" cy="116.0" r="7.3" fill="#c8c8c8" stroke="#000" stroke-width="1.1"/>
<circle cx="1166.2" cy="115.0" r="7.3" fill="#c8c8c8" stroke="#000" stroke-width="1.1"/>
<circle cx="1166.9" cy="114.0" r="7.3" fill="#c8c8c8" stroke="#000" stroke-width="1.1"/>
<circle cx="1167.6" cy="113.0" r="7.3" fill="#c8c8c8" stroke="#000" stroke-width="1.1"/>
<circle cx="1168.3" cy="112.0" r="7.3" fill="#c8c8c8" stroke="#000" stroke-width="1.1"/>
<circle cx="1169.0" cy="111.0" r="7.3" fill="#c8c8c8" stroke="#000" stroke-width="1.1"/>
<circle cx="1169.7" cy="110.0" r="7.3" fill="#c8c8c8" stroke="#000" stroke-width="1.1"/>
<circle cx="1170.4" cy="109.0" r="7.3" fill="#c8c8c8" stroke="#000" stroke-width="1.1"/>
<circle cx="1171.1" cy="108.0" r="7.3" fill="#c8c8c8" stroke="#000" stroke-width="1.1"/>
<circle cx="1171.8" cy="107.0" r="7.3" fill="#c8c8c8" stroke="#000" stroke-width="1.1"/>
<circle cx="1172.5" cy="106.0" r="7.3" fill="#c8c8c8" stroke="#000" stroke-width="1.1"/>
<circle cx="1199.4" cy="114.1" r="7.3" fill="#c8c8c8" stroke="#000" stroke-width="1.1"/>
<circle cx="1189.3" cy="108.5" r="7.3" fill="#c8c8c8" stroke="#000" stroke-width="1.1"/>
<circle cx="1186.0" cy="109.0" r="7.3" fill="#c8c8c8" stroke="#000" stroke-width="1.1"/>
<circle cx="1183.3" cy="108.8" r="7.3" fill="#c8c8c8" stroke="#000" stroke-width="1.1"/>
<circle cx="1179.0" cy="107.5" r="7.3" fill="#c8c8c8" stroke="#000" stroke-width="1.1"/>
<circle cx="1173.8" cy="102.5" r="7.3" fill="#c8c8c8" stroke="#000" stroke-width="1.1"/>
<circle cx="854.0" cy="435.5" r="7.3" fill="#c8c8c8" stroke="#000" stroke-width="1.1"/>
<circle cx="854.1" cy="434.6" r="7.3" fill="#c8c8c8" stroke="#000" stroke-width="1.1"/>
<circle cx="854.2" cy="433.6" r="7.3" fill="#c8c8c8" stroke="#000" stroke-width="1.1"/>
<circle cx="854.3" cy="432.6" r="7.3" fill="#c8c8c8" stroke="#000" stroke-width="1.1"/>
<circle cx="854.4" cy="431.7" r="7.3" fill="#c8c8c8" stroke="#000" stroke-width="1.1"/>
<circle cx="854.5" cy="430.8" r="7.3" fill="#c8c8c8" stroke="#000" stroke-width="1.1"/>
<circle cx="854.6" cy="429.8" r="7.3" fill="#c8c8c8" stroke="#000" stroke-width="1.1"/>
<circle cx="854.7" cy="428.9" r="7.3" fill="#c8c8c8" stroke="#000" stroke-width="1.1"/>
<circle cx="854.8" cy="427.9" r="7.3" fill="#c8c8c8" stroke="#000" stroke-width="1.1"/>
<circle cx="854.9" cy="426.9" r="7.3" fill="#c8c8c8" stroke="#000" stroke-width="1.1"/>
<circle cx="855.0" cy="426.0" r="7.3" fill="#c8c8c8" stroke="#000" stroke-width="1.1"/>
<circle cx="842.0" cy="419.5" r="7.3" fill="#c8c8c8" stroke="#000" stroke-width="1.1"/>
<circle cx="843.5" cy="421.5" r="7.3" fill="#c8c8c8" stroke="#000" stroke-width="1.1"/>
<circle cx="852.7" cy="425.5" r="7.3" fill="#c8c8c8" stroke="#000" stroke-width="1.1"/>
<circle cx="861.6" cy="423.1" r="7.3" fill="#c8c8c8" stroke="#000" stroke-width="1.1"/>
<circle cx="862.8" cy="418.3" r="7.3" fill="#c8c8c8" stroke="#000" stroke-width="1.1"/>
<circle cx="866.0" cy="421.0" r="7.3" fill="#c8c8c8" stroke="#000" stroke-width="1.1"/>
<circle cx="839.0" cy="406.0" r="7.3" fill="#c8c8c8" stroke="#000" stroke-width="1.1"/>
<circle cx="838.7" cy="404.3" r="7.3" fill="#c8c8c8" stroke="#000" stroke-width="1.1"/>
<circle cx="850.9" cy="413.6" r="7.3" fill="#c8c8c8" stroke="#000" stroke-width="1.1"/>
<circle cx="871.8" cy="414.4" r="7.3" fill="#c8c8c8" stroke="#000" stroke-width="1.1"/>
<circle cx="1150.5" cy="428.5" r="7.3" fill="#c8c8c8" stroke="#000" stroke-width="1.1"/>
<circle cx="1150.7" cy="427.6" r="7.3" fill="#c8c8c8" stroke="#000" stroke-width="1.1"/>
<circle cx="1150.8" cy="426.6" r="7.3" fill="#c8c8c8" stroke="#000" stroke-width="1.1"/>
<circle cx="1151.0" cy="425.6" r="7.3" fill="#c8c8c8" stroke="#000" stroke-width="1.1"/>
<circle cx="1151.1" cy="424.7" r="7.3" fill="#c8c8c8" stroke="#000" stroke-width="1.1"/>
<circle cx="1151.2" cy="423.8" r="7.3" fill="#c8c8c8" stroke="#000" stroke-width="1.1"/>
<circle cx="1151.4" cy="422.8" r="7.3" fill="#c8c8c8" stroke="#000" stroke-width="1.1"/>
<circle cx="1151.5" cy="421.9" r="7.3" fill="#c8c8c8" stroke="#000" stroke-width="1.1"/>
<circle cx="1151.7" cy="420.9" r="7.3" fill="#c8c8c8" stroke="#000" stroke-width="1.1"/>
<circle cx="1151.8" cy="419.9" r="7.3" fill="#c8c8c8" stroke="#000" stroke-width="1.1"/>
<circle cx="1152.0" cy="419.0" r="7.3" fill="#c8c8c8" stroke="#000" stroke-width="1.1"/>
<circle cx="1160.7" cy="412.0" r="7.3" fill="#c8c8c8" stroke="#000" stroke-width="1.1"/>
<circle cx="1164.0" cy="410.0" r="7.3" fill="#c8c8c8" stroke="#000" stroke-width="1.1"/>
<circle cx="1147.4" cy="416.9" r="7.3" fill="#c8c8c8" stroke="#000" stroke-width="1.1"/>
<circle cx="1145.0" cy="410.9" r="7.3" fill="#c8c8c8" stroke="#000" stroke-width="1.1"/>
<circle cx="1140.2" cy="406.8" r="7.3" fill="#c8c8c8" stroke="#000" stroke-width="1.1"/>
<circle cx="1136.4" cy="402.0" r="7.3" fill="#c8c8c8" stroke="#000" stroke-width="1.1"/>
<circle cx="1165.2" cy="411.5" r="7.3" fill="#c8c8c8" stroke="#000" stroke-width="1.1"/>
<circle cx="1160.7" cy="405.9" r="7.3" fill="#c8c8c8" stroke="#000" stroke-width="1.1"/>
<circle cx="1177.1" cy="405.0" r="7.3" fill="#c8c8c8" stroke="#000" stroke-width="1.1"/>
<circle cx="1177.4" cy="399.6" r="7.3" fill="#c8c8c8" stroke="#000" stroke-width="1.1"/>
<rect x="762.9" y="10.9" width="486.5000000000001" height="468.70000000000005" fill="none" stroke="#262626" stroke-width="1.6"/>
<line x1="762.9" y1="479.6" x2="762.9" y2="474.1" stroke="#262626" stroke-width="1.6"/>
<line x1="762.9" y1="10.9" x2="762.9" y2="16.4" stroke="#262626" stroke-width="1.6"/>
<text x="762.9" y="516.0" font-size="30.5" text-anchor="middle" font-weight="normal" font-style="normal" fill="#262626" >0</text>
<line x1="860.2" y1="479.6" x2="860.2" y2="474.1" stroke="#262626" stroke-width="1.6"/>
<line x1="860.2" y1="10.9" x2="860.2" y2="16.4" stroke="#262626" stroke-width="1.6"/>
<text x="860.2" y="516.0" font-size="30.5" text-anchor="middle" font-weight="normal" font-style="normal" fill="#262626" >20</text>
<line x1="957.5" y1="479.6" x2="957.5" y2="474.1" stroke="#262626" stroke-width="1.6"/>
<line x1="957.5" y1="10.9" x2="957.5" y2="16.4" stroke="#262626" stroke-width="1.6"/>
<text x="957.5" y="516.0" font-size="30.5" text-anchor="middle" font-weight="normal" font-style="normal" fill="#262626" >40</text>
<line x1="1054.8" y1="479.6" x2="1054.8" y2="474.1" stroke="#262626" stroke-width="1.6"/>
<line x1="1054.8" y1="10.9" x2="1054.8" y2="16.4" stroke="#262626" stroke-width="1.6"/>
<text x="1054.8" y="516.0" font-size="30.5" text-anchor="middle" font-weight="normal" font-style="normal" fill="#262626" >60</text>
<line x1="1152.1" y1="479.6" x2="1152.1" y2="474.1" stroke="#262626" stroke-width="1.6"/>
<line x1="1152.1" y1="10.9" x2="1152.1" y2="16.4" stroke="#262626" stroke-width="1.6"/>
<text x="1152.1" y="516.0" font-size="30.5" text-anchor="middle" font-weight="normal" font-style="normal" fill="#262626" >80</text>
<line x1="1249.4" y1="479.6" x2="1249.4" y2="474.1" stroke="#262626" stroke-width="1.6"/>
<line x1="1249.4" y1="10.9" x2="1249.4" y2="16.4" stroke="#262626" stroke-width="1.6"/>
<text x="1249.4" y="516.0" font-size="30.5" text-anchor="middle" font-weight="normal" font-style="normal" fill="#262626" >100</text>
<line x1="762.9" y1="479.6" x2="768.4" y2="479.6" stroke="#262626" stroke-width="1.6"/>
<line x1="1249.4" y1="479.6" x2="1243.9" y2="479.6" stroke="#262626" stroke-width="1.6"/>
<text x="754.5" y="490.2" font-size="30.5" text-anchor="end" font-weight="normal" font-style="normal" fill="#262626" >2100</text>
<line x1="762.9" y1="245.3" x2="768.4" y2="245.3" stroke="#262626" stroke-width="1.6"/>
<line x1="1249.4" y1="245.3" x2="1243.9" y2="245.3" stroke="#262626" stroke-width="1.6"/>
<text x="754.5" y="255.9" font-size="30.5" text-anchor="end" font-weight="normal" font-style="normal" fill="#262626" >2140</text>
<line x1="762.9" y1="10.9" x2="768.4" y2="10.9" stroke="#262626" stroke-width="1.6"/>
<line x1="1249.4" y1="10.9" x2="1243.9" y2="10.9" stroke="#262626" stroke-width="1.6"/>
<text x="754.5" y="21.5" font-size="30.5" text-anchor="end" font-weight="normal" font-style="normal" fill="#262626" >2180</text>
<text x="1015" y="553" font-size="34" text-anchor="middle" fill="#262626">Im<tspan font-style="italic"> f</tspan> (Hz)</text>
<text transform="translate(679,250) rotate(-90)" x="0" y="0" font-size="34" text-anchor="middle" fill="#262626">Re<tspan font-style="italic"> f</tspan> (Hz)</text>
<text x="0.5" y="655.8" font-size="40" text-anchor="start" font-weight="bold" font-style="normal" fill="#000" >c</text>
<polyline points="90.80,1070.15 91.64,1069.96 92.48,1069.76 93.31,1069.57 94.15,1069.36 94.99,1069.16 95.83,1068.94 96.67,1068.73 97.50,1068.50 98.34,1068.28 99.18,1068.05 100.02,1067.81 100.86,1067.57 101.69,1067.33 102.53,1067.08 103.37,1066.83 104.21,1066.58 105.05,1066.32 105.88,1066.05 106.72,1065.78 107.56,1065.51 108.40,1065.24 109.24,1064.96 110.07,1064.67 110.91,1064.39 111.75,1064.10 112.59,1063.80 113.43,1063.51 114.26,1063.21 115.10,1062.90 115.94,1062.60 116.78,1062.29 117.62,1061.97 118.45,1061.66 119.29,1061.34 120.13,1061.02 120.97,1060.69 121.81,1060.36 122.64,1060.03 123.48,1059.70 124.32,1059.36 125.16,1059.03 126.00,1058.69 126.83,1058.34 127.67,1058.00 128.51,1057.65 129.35,1057.30 130.19,1056.95 131.02,1056.59 131.86,1056.23 132.70,1055.88 133.54,1055.52 134.38,1055.15 135.21,1054.79 136.05,1054.42 136.89,1054.05 137.73,1053.68 138.57,1053.31 139.40,1052.94 140.24,1052.57 141.08,1052.19 141.92,1051.81 142.76,1051.43 143.59,1051.04 144.43,1050.65 145.27,1050.26 146.11,1049.85 146.95,1049.45 147.78,1049.03 148.62,1048.62 149.46,1048.19 150.30,1047.77 151.14,1047.33 151.97,1046.89 152.81,1046.44 153.65,1045.99 154.49,1045.53 155.33,1045.07 156.16,1044.60 157.00,1044.12 157.84,1043.64 158.68,1043.15 159.52,1042.65 160.35,1042.14 161.19,1041.63 162.03,1041.11 162.87,1040.58 163.71,1040.05 164.54,1039.51 165.38,1038.96 166.22,1038.40 167.06,1037.84 167.90,1037.26 168.73,1036.68 169.57,1036.09 170.41,1035.50 171.25,1034.89 172.09,1034.27 172.92,1033.63 173.76,1032.98 174.60,1032.31 175.44,1031.63 176.28,1030.93 177.11,1030.22 177.95,1029.49 178.79,1028.75 179.63,1027.99 180.47,1027.22 181.30,1026.43 182.14,1025.62 182.98,1024.81 183.82,1023.97 184.66,1023.13 185.49,1022.26 186.33,1021.39 187.17,1020.50 188.01,1019.60 188.85,1018.68 189.68,1017.75 190.52,1016.80 191.36,1015.84 192.20,1014.87 193.04,1013.88 193.87,1012.86 194.71,1011.82 195.55,1010.76 196.39,1009.67 197.23,1008.56 198.06,1007.43 198.90,1006.26 199.74,1005.07 200.58,1003.86 201.42,1002.61 202.25,1001.34 203.09,1000.04 203.93,998.72 204.77,997.36 205.61,995.98 206.44,994.57 207.28,993.13 208.12,991.66 208.96,990.16 209.80,988.63 210.63,987.04 211.47,985.41 212.31,983.72 213.15,981.98 213.99,980.19 214.82,978.35 215.66,976.47 216.50,974.55 217.34,972.58 218.18,970.57 219.01,968.52 219.85,966.44 220.69,964.31 221.53,962.16 222.37,959.97 223.20,957.74 224.04,955.49 224.88,953.21 225.72,950.90 226.56,948.56 227.39,946.19 228.23,943.76 229.07,941.28 229.91,938.75 230.75,936.16 231.58,933.50 232.42,930.79 233.26,928.02 234.10,925.18 234.94,922.27 235.77,919.30 236.61,916.26 237.45,913.14 238.29,909.95 239.13,906.69 239.96,903.34 240.80,899.87 241.64,896.30 242.48,892.62 243.32,888.84 244.15,884.96 244.99,881.00 245.83,876.95 246.67,872.83 247.51,868.63 248.34,864.36 249.18,860.03 250.02,855.65 250.86,851.21 251.70,846.72 252.53,842.19 253.37,837.62 254.21,833.02 255.05,828.39 255.89,823.74 256.72,818.93 257.56,813.83 258.40,808.51 259.24,803.01 260.08,797.37 260.91,791.65 261.75,785.89 262.59,780.15 263.43,774.46 264.27,768.88 265.10,763.46 265.94,758.24 266.78,753.28 267.62,748.62 268.46,744.31 269.29,740.35 270.13,736.38 270.97,732.31 271.81,728.20 272.65,724.06 273.48,719.94 274.32,715.87 275.16,711.88 276.00,708.00 276.84,704.28 277.67,700.74 278.51,697.42 279.35,694.35 280.19,691.56 281.03,689.10 281.86,686.99 282.70,685.26 283.54,683.96 284.38,683.11 285.22,682.75 286.05,683.05 286.89,684.28 287.73,686.39 288.57,689.29 289.41,692.94 290.24,697.25 291.08,702.16 291.92,707.61 292.76,713.52 293.60,719.83 294.43,726.47 295.27,733.38 296.11,740.48 296.95,749.22 297.79,761.39 298.62,774.66 299.46,786.87 300.30,798.87 301.14,810.77 301.98,822.18 302.81,832.94 303.65,843.71 304.49,854.35 305.33,864.56 306.17,874.06 307.00,882.59 307.84,889.85 308.68,895.64 309.52,900.56 310.36,905.57 311.19,911.12 312.03,916.88 312.87,922.59 313.71,928.00 314.55,932.93 315.38,937.88 316.22,942.79 317.06,947.42 317.90,951.54 318.74,954.90 319.57,957.29 320.41,959.28 321.25,961.15 322.09,962.82 322.93,964.24 323.76,965.31 324.60,965.96 325.44,966.12 326.28,965.78 327.12,964.99 327.95,963.80 328.79,962.24 329.63,960.36 330.47,958.19 331.31,955.78 332.14,953.17 332.98,950.41 333.82,947.52 334.66,944.56 335.50,941.57 336.33,938.54 337.17,935.05 338.01,931.04 338.85,926.53 339.69,921.57 340.52,916.19 341.36,910.43 342.20,904.29 343.04,896.84 343.88,887.95 344.71,877.08 345.55,864.90 346.39,852.77 347.23,841.57 348.07,830.34 348.90,819.58 349.74,809.99 350.58,802.12 351.42,795.56 352.26,789.74 353.09,784.16 353.93,778.28 354.77,771.59 355.61,763.73 356.45,754.91 357.28,745.41 358.12,735.51 358.96,725.47 359.80,715.56 360.64,704.98 361.47,693.43 362.31,681.95 363.15,671.60 363.99,663.43 364.83,657.89 365.66,653.12 366.50,648.86 367.34,645.11 368.18,641.85 369.02,639.07 369.85,636.75 370.69,634.86 371.53,633.07 372.37,631.37 373.21,629.84 374.04,628.55 374.88,627.56 375.72,626.96 376.56,626.81 377.40,627.19 378.23,628.07 379.07,629.41 379.91,631.16 380.75,633.27 381.59,635.68 382.42,638.36 383.26,643.01 384.10,650.19 384.94,658.07 385.78,665.29 386.61,672.64 387.45,680.20 388.29,687.89 389.13,695.65 389.97,703.39 390.80,711.04 391.64,718.55 392.48,726.03 393.32,733.50 394.16,740.94 394.99,748.34 395.83,755.68 396.67,762.94 397.51,770.11 398.35,777.24 399.18,784.40 400.02,791.55 400.86,798.69 401.70,805.79 402.54,812.83 403.37,819.80 404.21,826.68 405.05,833.45 405.89,840.10 406.73,846.59 407.56,852.92 408.40,859.06 409.24,865.09 410.08,871.17 410.92,877.29 411.75,883.42 412.59,889.53 413.43,895.61 414.27,901.62 415.11,907.55 415.94,913.36 416.78,919.04 417.62,924.56 418.46,929.89 419.30,935.01 420.13,939.90 420.97,944.53 421.81,948.87 422.65,952.91 423.49,956.61 424.32,959.96 425.16,963.02 426.00,966.00 426.84,968.91 427.68,971.74 428.51,974.50 429.35,977.18 430.19,979.79 431.03,982.33 431.87,984.79 432.70,987.19 433.54,989.52 434.38,991.78 435.22,993.97 436.06,996.10 436.89,998.16 437.73,1000.16 438.57,1002.09 439.41,1003.97 440.25,1005.77 441.08,1007.52 441.92,1009.21 442.76,1010.84 443.60,1012.41 444.44,1013.93 445.27,1015.39 446.11,1016.79 446.95,1018.14 447.79,1019.44 448.63,1020.68 449.46,1021.88 450.30,1023.06 451.14,1024.22 451.98,1025.34 452.82,1026.45 453.65,1027.53 454.49,1028.59 455.33,1029.62 456.17,1030.64 457.01,1031.63 457.84,1032.60 458.68,1033.54 459.52,1034.47 460.36,1035.38 461.20,1036.27 462.03,1037.14 462.87,1037.99 463.71,1038.83 464.55,1039.64 465.39,1040.44 466.22,1041.22 467.06,1041.99 467.90,1042.74 468.74,1043.48 469.58,1044.20 470.41,1044.91 471.25,1045.60 472.09,1046.28 472.93,1046.95 473.77,1047.60 474.60,1048.25 475.44,1048.88 476.28,1049.50 477.12,1050.11 477.96,1050.71 478.79,1051.31 479.63,1051.89 480.47,1052.46 481.31,1053.03 482.15,1053.60 482.98,1054.16 483.82,1054.72 484.66,1055.27 485.50,1055.83 486.34,1056.37 487.17,1056.92 488.01,1057.46 488.85,1057.99 489.69,1058.52 490.53,1059.04 491.36,1059.56 492.20,1060.08 493.04,1060.58 493.88,1061.09 494.72,1061.58 495.55,1062.07 496.39,1062.56 497.23,1063.03 498.07,1063.50 498.91,1063.97 499.74,1064.42 500.58,1064.87 501.42,1065.31 502.26,1065.75 503.10,1066.17 503.93,1066.59 504.77,1067.00 505.61,1067.40 506.45,1067.79 507.29,1068.17 508.12,1068.54 508.96,1068.90 509.80,1069.26 510.64,1069.60 511.48,1069.93 512.31,1070.26 513.15,1070.57 513.99,1070.87 514.83,1071.16 515.67,1071.44 516.50,1071.71 517.34,1071.97 518.18,1072.21 519.02,1072.45 519.86,1072.67 520.69,1072.88 521.53,1073.08 522.37,1073.28 523.21,1073.48 524.05,1073.68 524.88,1073.87 525.72,1074.07 526.56,1074.26 527.40,1074.46 528.24,1074.65 529.07,1074.84 529.91,1075.03 530.75,1075.22 531.59,1075.41 532.43,1075.60 533.26,1075.79 534.10,1075.97 534.94,1076.15 535.78,1076.33 536.62,1076.52 537.45,1076.69 538.29,1076.87 539.13,1077.05 539.97,1077.22 540.81,1077.40 541.64,1077.57 542.48,1077.74 543.32,1077.90 544.16,1078.07 545.00,1078.23 545.83,1078.40 546.67,1078.56 547.51,1078.72 548.35,1078.87 549.19,1079.03 550.02,1079.18 550.86,1079.33 551.70,1079.48 552.54,1079.63 553.38,1079.77 554.21,1079.92 555.05,1080.06 555.89,1080.20 556.73,1080.33 557.57,1080.47 558.40,1080.60 559.24,1080.73 560.08,1080.85 560.92,1080.98 561.76,1081.10 562.59,1081.22 563.43,1081.34 564.27,1081.45 565.11,1081.56 565.95,1081.67 566.78,1081.78 567.62,1081.88 568.46,1081.98 569.30,1082.08 570.14,1082.17 570.97,1082.27 571.81,1082.36 572.65,1082.44 573.49,1082.53 574.33,1082.61 575.16,1082.68 576.00,1082.76 576.84,1082.83 577.68,1082.90 578.52,1082.96 579.35,1083.03 580.19,1083.08 581.03,1083.14 581.87,1083.19 582.71,1083.24 583.54,1083.29 584.38,1083.33 585.22,1083.37 586.06,1083.40 586.90,1083.43 587.73,1083.46 588.57,1083.48 589.41,1083.51 590.25,1083.52 591.09,1083.54 591.92,1083.54 592.76,1083.55 593.60,1083.55" fill="none" stroke="#ff0000" stroke-width="3.7" stroke-linejoin="round"/>
<polyline points="90.80,1066.91 91.64,1066.85 92.48,1066.79 93.31,1066.71 94.15,1066.62 94.99,1066.52 95.83,1066.41 96.67,1066.29 97.50,1066.16 98.34,1066.02 99.18,1065.87 100.02,1065.71 100.86,1065.54 101.69,1065.36 102.53,1065.17 103.37,1064.98 104.21,1064.77 105.05,1064.55 105.88,1064.32 106.72,1064.09 107.56,1063.85 108.40,1063.59 109.24,1063.33 110.07,1063.07 110.91,1062.79 111.75,1062.51 112.59,1062.21 113.43,1061.91 114.26,1061.61 115.10,1061.29 115.94,1060.97 116.78,1060.64 117.62,1060.30 118.45,1059.96 119.29,1059.61 120.13,1059.26 120.97,1058.89 121.81,1058.52 122.64,1058.15 123.48,1057.77 124.32,1057.38 125.16,1056.99 126.00,1056.59 126.83,1056.19 127.67,1055.78 128.51,1055.37 129.35,1054.95 130.19,1054.52 131.02,1054.09 131.86,1053.66 132.70,1053.22 133.54,1052.78 134.38,1052.34 135.21,1051.89 136.05,1051.43 136.89,1050.98 137.73,1050.52 138.57,1050.05 139.40,1049.58 140.24,1049.11 141.08,1048.64 141.92,1048.16 142.76,1047.68 143.59,1047.20 144.43,1046.72 145.27,1046.23 146.11,1045.74 146.95,1045.25 147.78,1044.76 148.62,1044.26 149.46,1043.76 150.30,1043.27 151.14,1042.77 151.97,1042.27 152.81,1041.77 153.65,1041.26 154.49,1040.76 155.33,1040.25 156.16,1039.74 157.00,1039.21 157.84,1038.67 158.68,1038.12 159.52,1037.56 160.35,1036.99 161.19,1036.41 162.03,1035.82 162.87,1035.21 163.71,1034.59 164.54,1033.97 165.38,1033.33 166.22,1032.68 167.06,1032.01 167.90,1031.34 168.73,1030.66 169.57,1029.96 170.41,1029.25 171.25,1028.53 172.09,1027.80 172.92,1027.06 173.76,1026.31 174.60,1025.54 175.44,1024.76 176.28,1023.97 177.11,1023.17 177.95,1022.36 178.79,1021.54 179.63,1020.70 180.47,1019.86 181.30,1019.00 182.14,1018.13 182.98,1017.24 183.82,1016.35 184.66,1015.44 185.49,1014.52 186.33,1013.59 187.17,1012.65 188.01,1011.70 188.85,1010.73 189.68,1009.75 190.52,1008.76 191.36,1007.76 192.20,1006.74 193.04,1005.72 193.87,1004.68 194.71,1003.63 195.55,1002.56 196.39,1001.49 197.23,1000.40 198.06,999.30 198.90,998.19 199.74,997.06 200.58,995.92 201.42,994.78 202.25,993.61 203.09,992.44 203.93,991.25 204.77,990.05 205.61,988.84 206.44,987.62 207.28,986.38 208.12,985.13 208.96,983.87 209.80,982.59 210.63,981.31 211.47,980.01 212.31,978.69 213.15,977.37 213.99,976.03 214.82,974.64 215.66,973.18 216.50,971.65 217.34,970.06 218.18,968.40 219.01,966.69 219.85,964.92 220.69,963.09 221.53,961.20 222.37,959.27 223.20,957.29 224.04,955.26 224.88,953.18 225.72,951.06 226.56,948.90 227.39,946.71 228.23,944.47 229.07,942.21 229.91,939.91 230.75,937.58 231.58,935.22 232.42,932.84 233.26,930.43 234.10,928.01 234.94,925.56 235.77,923.10 236.61,920.62 237.45,918.14 238.29,915.64 239.13,913.13 239.96,910.62 240.80,908.11 241.64,905.59 242.48,903.07 243.32,900.56 244.15,898.05 244.99,895.50 245.83,892.92 246.67,890.28 247.51,887.60 248.34,884.86 249.18,882.06 250.02,879.18 250.86,876.23 251.70,873.20 252.53,870.08 253.37,866.86 254.21,863.54 255.05,860.04 255.89,856.37 256.72,852.54 257.56,848.57 258.40,844.47 259.24,840.26 260.08,835.95 260.91,831.56 261.75,827.11 262.59,822.61 263.43,818.08 264.27,813.54 265.10,808.99 265.94,804.46 266.78,799.96 267.62,795.50 268.46,791.12 269.29,786.81 270.13,782.59 270.97,778.49 271.81,774.51 272.65,770.68 273.48,766.93 274.32,763.01 275.16,758.92 276.00,754.70 276.84,750.37 277.67,745.99 278.51,741.57 279.35,737.17 280.19,732.81 281.03,728.53 281.86,724.37 282.70,720.36 283.54,716.54 284.38,712.95 285.22,709.62 286.05,706.59 286.89,703.89 287.73,701.56 288.57,699.63 289.41,698.15 290.24,697.14 291.08,696.65 291.92,696.73 292.76,697.46 293.60,698.81 294.43,700.75 295.27,703.25 296.11,706.26 296.95,709.75 297.79,713.68 298.62,718.02 299.46,722.73 300.30,727.77 301.14,733.11 301.98,738.71 302.81,744.53 303.65,750.54 304.49,756.70 305.33,762.98 306.17,769.33 307.00,775.73 307.84,782.13 308.68,789.79 309.52,799.28 310.36,809.53 311.19,819.48 312.03,828.11 312.87,836.06 313.71,843.86 314.55,851.45 315.38,858.80 316.22,865.84 317.06,872.52 317.90,878.78 318.74,884.57 319.57,889.85 320.41,894.64 321.25,899.00 322.09,902.87 322.93,906.20 323.76,909.41 324.60,912.68 325.44,915.92 326.28,919.06 327.12,922.02 327.95,924.73 328.79,927.12 329.63,929.11 330.47,930.62 331.31,931.58 332.14,931.92 332.98,931.51 333.82,930.36 334.66,928.58 335.50,926.28 336.33,923.55 337.17,920.51 338.01,917.27 338.85,913.93 339.69,910.60 340.52,907.39 341.36,904.37 342.20,901.28 343.04,898.04 343.88,894.63 344.71,891.04 345.55,887.26 346.39,883.26 347.23,879.04 348.07,874.32 348.90,869.14 349.74,863.68 350.58,858.00 351.42,851.94 352.26,845.57 353.09,838.96 353.93,832.15 354.77,825.23 355.61,818.25 356.45,811.27 357.28,804.38 358.12,797.61 358.96,791.06 359.80,784.76 360.64,778.80 361.47,773.24 362.31,768.07 363.15,762.83 363.99,757.44 364.83,751.94 365.66,746.39 366.50,740.83 367.34,735.32 368.18,729.91 369.02,724.64 369.85,719.56 370.69,714.74 371.53,710.20 372.37,706.02 373.21,702.23 374.04,698.88 374.88,696.03 375.72,693.73 376.56,692.02 377.40,690.96 378.23,690.60 379.07,690.86 379.91,691.62 380.75,692.86 381.59,694.55 382.42,696.68 383.26,699.20 384.10,702.11 384.94,705.37 385.78,708.97 386.61,712.87 387.45,717.05 388.29,721.49 389.13,726.16 389.97,731.04 390.80,736.10 391.64,741.33 392.48,746.69 393.32,752.15 394.16,757.71 394.99,763.33 395.83,768.98 396.67,774.64 397.51,780.29 398.35,785.91 399.18,791.46 400.02,796.93 400.86,802.36 401.70,808.36 402.54,814.97 403.37,822.09 404.21,829.61 405.05,837.40 405.89,845.36 406.73,853.37 407.56,861.33 408.40,869.11 409.24,876.60 410.08,883.70 410.92,890.28 411.75,896.24 412.59,901.48 413.43,906.38 414.27,911.16 415.11,915.83 415.94,920.38 416.78,924.80 417.62,929.10 418.46,933.27 419.30,937.32 420.13,941.23 420.97,945.01 421.81,948.65 422.65,952.15 423.49,955.51 424.32,958.73 425.16,961.81 426.00,964.73 426.84,967.51 427.68,970.13 428.51,972.60 429.35,974.97 430.19,977.29 431.03,979.57 431.87,981.81 432.70,984.00 433.54,986.15 434.38,988.26 435.22,990.32 436.06,992.33 436.89,994.31 437.73,996.24 438.57,998.13 439.41,999.97 440.25,1001.77 441.08,1003.53 441.92,1005.25 442.76,1006.92 443.60,1008.55 444.44,1010.14 445.27,1011.68 446.11,1013.19 446.95,1014.65 447.79,1016.06 448.63,1017.44 449.46,1018.78 450.30,1020.07 451.14,1021.32 451.98,1022.53 452.82,1023.70 453.65,1024.82 454.49,1025.91 455.33,1026.95 456.17,1027.96 457.01,1028.92 457.84,1029.87 458.68,1030.80 459.52,1031.71 460.36,1032.62 461.20,1033.50 462.03,1034.38 462.87,1035.24 463.71,1036.08 464.55,1036.91 465.39,1037.73 466.22,1038.53 467.06,1039.32 467.90,1040.09 468.74,1040.85 469.58,1041.60 470.41,1042.33 471.25,1043.05 472.09,1043.76 472.93,1044.45 473.77,1045.12 474.60,1045.78 475.44,1046.43 476.28,1047.07 477.12,1047.69 477.96,1048.30 478.79,1048.89 479.63,1049.47 480.47,1050.03 481.31,1050.59 482.15,1051.12 482.98,1051.65 483.82,1052.16 484.66,1052.66 485.50,1053.14 486.34,1053.61 487.17,1054.07 488.01,1054.51 488.85,1054.94 489.69,1055.35 490.53,1055.76 491.36,1056.14 492.20,1056.52 493.04,1056.88 493.88,1057.24 494.72,1057.60 495.55,1057.96 496.39,1058.32 497.23,1058.67 498.07,1059.03 498.91,1059.38 499.74,1059.73 500.58,1060.08 501.42,1060.43 502.26,1060.78 503.10,1061.13 503.93,1061.48 504.77,1061.82 505.61,1062.17 506.45,1062.51 507.29,1062.85 508.12,1063.19 508.96,1063.53 509.80,1063.86 510.64,1064.20 511.48,1064.53 512.31,1064.86 513.15,1065.19 513.99,1065.52 514.83,1065.84 515.67,1066.17 516.50,1066.49 517.34,1066.81 518.18,1067.13 519.02,1067.45 519.86,1067.76 520.69,1068.07 521.53,1068.38 522.37,1068.69 523.21,1069.00 524.05,1069.30 524.88,1069.60 525.72,1069.90 526.56,1070.20 527.40,1070.50 528.24,1070.79 529.07,1071.08 529.91,1071.37 530.75,1071.65 531.59,1071.94 532.43,1072.22 533.26,1072.50 534.10,1072.77 534.94,1073.04 535.78,1073.31 536.62,1073.58 537.45,1073.85 538.29,1074.11 539.13,1074.37 539.97,1074.62 540.81,1074.88 541.64,1075.13 542.48,1075.38 543.32,1075.62 544.16,1075.86 545.00,1076.10 545.83,1076.34 546.67,1076.57 547.51,1076.80 548.35,1077.03 549.19,1077.25 550.02,1077.47 550.86,1077.68 551.70,1077.90 552.54,1078.11 553.38,1078.31 554.21,1078.52 555.05,1078.72 555.89,1078.91 556.73,1079.11 557.57,1079.29 558.40,1079.48 559.24,1079.66 560.08,1079.84 560.92,1080.01 561.76,1080.19 562.59,1080.35 563.43,1080.52 564.27,1080.67 565.11,1080.83 565.95,1080.98 566.78,1081.13 567.62,1081.27 568.46,1081.41 569.30,1081.55 570.14,1081.68 570.97,1081.81 571.81,1081.93 572.65,1082.05 573.49,1082.16 574.33,1082.27 575.16,1082.38 576.00,1082.48 576.84,1082.58 577.68,1082.67 578.52,1082.76 579.35,1082.84 580.19,1082.92 581.03,1083.00 581.87,1083.07 582.71,1083.13 583.54,1083.19 584.38,1083.25 585.22,1083.30 586.06,1083.35 586.90,1083.39 587.73,1083.43 588.57,1083.46 589.41,1083.49 590.25,1083.51 591.09,1083.53 591.92,1083.54 592.76,1083.55 593.60,1083.55" fill="none" stroke="#ffd700" stroke-width="3.7" stroke-linejoin="round"/>
<polyline points="90.80,1063.67 91.64,1063.41 92.48,1063.15 93.31,1062.89 94.15,1062.62 94.99,1062.35 95.83,1062.08 96.67,1061.80 97.50,1061.52 98.34,1061.25 99.18,1060.96 100.02,1060.68 100.86,1060.39 101.69,1060.10 102.53,1059.81 103.37,1059.52 104.21,1059.22 105.05,1058.93 105.88,1058.63 106.72,1058.32 107.56,1058.02 108.40,1057.71 109.24,1057.40 110.07,1057.09 110.91,1056.78 111.75,1056.46 112.59,1056.15 113.43,1055.83 114.26,1055.51 115.10,1055.18 115.94,1054.86 116.78,1054.53 117.62,1054.20 118.45,1053.87 119.29,1053.54 120.13,1053.20 120.97,1052.86 121.81,1052.53 122.64,1052.18 123.48,1051.84 124.32,1051.50 125.16,1051.16 126.00,1050.82 126.83,1050.47 127.67,1050.13 128.51,1049.79 129.35,1049.44 130.19,1049.10 131.02,1048.75 131.86,1048.40 132.70,1048.05 133.54,1047.69 134.38,1047.34 135.21,1046.98 136.05,1046.62 136.89,1046.26 137.73,1045.89 138.57,1045.52 139.40,1045.15 140.24,1044.78 141.08,1044.40 141.92,1044.01 142.76,1043.62 143.59,1043.23 144.43,1042.84 145.27,1042.43 146.11,1042.03 146.95,1041.62 147.78,1041.20 148.62,1040.78 149.46,1040.35 150.30,1039.92 151.14,1039.48 151.97,1039.03 152.81,1038.58 153.65,1038.12 154.49,1037.65 155.33,1037.18 156.16,1036.70 157.00,1036.21 157.84,1035.72 158.68,1035.21 159.52,1034.70 160.35,1034.18 161.19,1033.64 162.03,1033.08 162.87,1032.52 163.71,1031.94 164.54,1031.35 165.38,1030.74 166.22,1030.13 167.06,1029.50 167.90,1028.86 168.73,1028.21 169.57,1027.55 170.41,1026.88 171.25,1026.20 172.09,1025.52 172.92,1024.82 173.76,1024.11 174.60,1023.39 175.44,1022.67 176.28,1021.93 177.11,1021.19 177.95,1020.44 178.79,1019.69 179.63,1018.92 180.47,1018.16 181.30,1017.38 182.14,1016.60 182.98,1015.81 183.82,1015.02 184.66,1014.22 185.49,1013.42 186.33,1012.61 187.17,1011.80 188.01,1010.99 188.85,1010.17 189.68,1009.35 190.52,1008.53 191.36,1007.70 192.20,1006.87 193.04,1006.04 193.87,1005.21 194.71,1004.37 195.55,1003.52 196.39,1002.67 197.23,1001.81 198.06,1000.94 198.90,1000.07 199.74,999.18 200.58,998.29 201.42,997.39 202.25,996.47 203.09,995.55 203.93,994.61 204.77,993.66 205.61,992.69 206.44,991.71 207.28,990.71 208.12,989.70 208.96,988.67 209.80,987.63 210.63,986.56 211.47,985.48 212.31,984.38 213.15,983.25 213.99,982.11 214.82,980.94 215.66,979.75 216.50,978.54 217.34,977.31 218.18,976.04 219.01,974.74 219.85,973.38 220.69,971.96 221.53,970.50 222.37,968.99 223.20,967.44 224.04,965.84 224.88,964.21 225.72,962.54 226.56,960.84 227.39,959.10 228.23,957.33 229.07,955.54 229.91,953.72 230.75,951.88 231.58,950.02 232.42,948.15 233.26,946.26 234.10,944.36 234.94,942.44 235.77,940.53 236.61,938.60 237.45,936.68 238.29,934.75 239.13,932.83 239.96,930.91 240.80,929.01 241.64,927.10 242.48,925.20 243.32,923.28 244.15,921.33 244.99,919.34 245.83,917.31 246.67,915.21 247.51,913.05 248.34,910.80 249.18,908.47 250.02,906.03 250.86,903.44 251.70,900.69 252.53,897.77 253.37,894.72 254.21,891.54 255.05,888.25 255.89,884.87 256.72,881.42 257.56,877.90 258.40,874.35 259.24,870.77 260.08,867.17 260.91,863.58 261.75,860.02 262.59,856.49 263.43,853.02 264.27,849.61 265.10,846.30 265.94,843.08 266.78,839.99 267.62,837.02 268.46,834.00 269.29,830.86 270.13,827.60 270.97,824.26 271.81,820.85 272.65,817.40 273.48,813.93 274.32,810.45 275.16,806.98 276.00,803.56 276.84,800.20 277.67,796.91 278.51,793.73 279.35,790.67 280.19,787.76 281.03,785.00 281.86,782.44 282.70,780.07 283.54,777.94 284.38,776.05 285.22,774.43 286.05,773.11 286.89,772.09 287.73,771.40 288.57,771.07 289.41,771.11 290.24,771.51 291.08,772.25 291.92,773.28 292.76,774.58 293.60,776.11 294.43,777.83 295.27,779.71 296.11,781.72 296.95,784.28 297.79,788.18 298.62,793.19 299.46,799.03 300.30,805.43 301.14,812.11 301.98,818.82 302.81,825.28 303.65,831.57 304.49,838.25 305.33,845.25 306.17,852.43 307.00,859.70 307.84,866.94 308.68,874.04 309.52,880.89 310.36,887.38 311.19,893.48 312.03,899.33 312.87,904.61 313.71,909.27 314.55,913.73 315.38,917.96 316.22,921.91 317.06,925.51 317.90,928.73 318.74,931.52 319.57,934.19 320.41,936.87 321.25,939.53 322.09,942.12 322.93,944.60 323.76,946.94 324.60,949.10 325.44,951.03 326.28,952.70 327.12,954.06 327.95,955.09 328.79,955.73 329.63,955.96 330.47,955.70 331.31,954.95 332.14,953.77 332.98,952.21 333.82,950.33 334.66,948.17 335.50,945.80 336.33,943.26 337.17,940.61 338.01,937.91 338.85,935.20 339.69,932.54 340.52,929.96 341.36,927.24 342.20,924.30 343.04,921.16 343.88,917.80 344.71,914.23 345.55,910.43 346.39,906.40 347.23,901.99 348.07,896.96 348.90,891.49 349.74,885.75 350.58,879.91 351.42,873.95 352.26,867.74 353.09,861.33 353.93,854.76 354.77,848.08 355.61,841.32 356.45,834.54 357.28,827.77 358.12,821.03 358.96,814.03 359.80,806.84 360.64,799.57 361.47,792.36 362.31,785.35 363.15,778.66 363.99,772.44 364.83,766.73 365.66,761.24 366.50,755.95 367.34,750.85 368.18,745.96 369.02,741.27 369.85,736.80 370.69,732.54 371.53,728.51 372.37,724.46 373.21,720.22 374.04,715.89 374.88,711.53 375.72,707.25 376.56,703.13 377.40,699.25 378.23,695.70 379.07,692.58 379.91,689.96 380.75,687.93 381.59,686.58 382.42,685.99 383.26,686.15 384.10,686.84 384.94,688.03 385.78,689.69 386.61,691.77 387.45,694.26 388.29,697.12 389.13,700.31 389.97,703.80 390.80,707.57 391.64,711.58 392.48,715.79 393.32,720.18 394.16,724.70 394.99,729.34 395.83,734.06 396.67,738.82 397.51,743.60 398.35,748.36 399.18,753.06 400.02,757.68 400.86,762.24 401.70,767.18 402.54,772.57 403.37,778.35 404.21,784.47 405.05,790.88 405.89,797.53 406.73,804.36 407.56,811.32 408.40,818.36 409.24,825.43 410.08,832.47 410.92,839.44 411.75,846.27 412.59,852.91 413.43,859.32 414.27,865.45 415.11,871.23 415.94,876.61 416.78,881.56 417.62,886.33 418.46,891.05 419.30,895.72 420.13,900.34 420.97,904.89 421.81,909.38 422.65,913.80 423.49,918.14 424.32,922.40 425.16,926.57 426.00,930.65 426.84,934.64 427.68,938.52 428.51,942.30 429.35,945.96 430.19,949.51 431.03,952.93 431.87,956.23 432.70,959.40 433.54,962.43 434.38,965.32 435.22,968.06 436.06,970.64 436.89,973.08 437.73,975.43 438.57,977.74 439.41,980.00 440.25,982.22 441.08,984.40 441.92,986.54 442.76,988.63 443.60,990.68 444.44,992.68 445.27,994.65 446.11,996.57 446.95,998.45 447.79,1000.29 448.63,1002.08 449.46,1003.83 450.30,1005.55 451.14,1007.21 451.98,1008.84 452.82,1010.43 453.65,1011.97 454.49,1013.48 455.33,1014.94 456.17,1016.36 457.01,1017.74 457.84,1019.08 458.68,1020.38 459.52,1021.64 460.36,1022.86 461.20,1024.03 462.03,1025.17 462.87,1026.27 463.71,1027.32 464.55,1028.34 465.39,1029.33 466.22,1030.30 467.06,1031.26 467.90,1032.22 468.74,1033.16 469.58,1034.09 470.41,1035.00 471.25,1035.91 472.09,1036.80 472.93,1037.68 473.77,1038.55 474.60,1039.41 475.44,1040.25 476.28,1041.08 477.12,1041.90 477.96,1042.71 478.79,1043.50 479.63,1044.28 480.47,1045.04 481.31,1045.80 482.15,1046.54 482.98,1047.26 483.82,1047.97 484.66,1048.67 485.50,1049.35 486.34,1050.02 487.17,1050.68 488.01,1051.32 488.85,1051.94 489.69,1052.56 490.53,1053.15 491.36,1053.73 492.20,1054.30 493.04,1054.85 493.88,1055.39 494.72,1055.91 495.55,1056.41 496.39,1056.90 497.23,1057.37 498.07,1057.83 498.91,1058.27 499.74,1058.70 500.58,1059.11 501.42,1059.50 502.26,1059.87 503.10,1060.23 503.93,1060.57 504.77,1060.90 505.61,1061.22 506.45,1061.53 507.29,1061.84 508.12,1062.15 508.96,1062.46 509.80,1062.77 510.64,1063.08 511.48,1063.39 512.31,1063.69 513.15,1063.99 513.99,1064.29 514.83,1064.59 515.67,1064.89 516.50,1065.18 517.34,1065.48 518.18,1065.77 519.02,1066.06 519.86,1066.35 520.69,1066.64 521.53,1066.92 522.37,1067.20 523.21,1067.48 524.05,1067.76 524.88,1068.04 525.72,1068.31 526.56,1068.59 527.40,1068.86 528.24,1069.12 529.07,1069.39 529.91,1069.65 530.75,1069.91 531.59,1070.17 532.43,1070.43 533.26,1070.69 534.10,1070.94 534.94,1071.19 535.78,1071.43 536.62,1071.68 537.45,1071.92 538.29,1072.16 539.13,1072.40 539.97,1072.63 540.81,1072.86 541.64,1073.09 542.48,1073.32 543.32,1073.54 544.16,1073.76 545.00,1073.98 545.83,1074.20 546.67,1074.41 547.51,1074.62 548.35,1074.83 549.19,1075.03 550.02,1075.23 550.86,1075.43 551.70,1075.62 552.54,1075.81 553.38,1076.00 554.21,1076.19 555.05,1076.37 555.89,1076.55 556.73,1076.73 557.57,1076.90 558.40,1077.07 559.24,1077.23 560.08,1077.40 560.92,1077.55 561.76,1077.71 562.59,1077.86 563.43,1078.01 564.27,1078.16 565.11,1078.30 565.95,1078.44 566.78,1078.57 567.62,1078.70 568.46,1078.83 569.30,1078.95 570.14,1079.07 570.97,1079.19 571.81,1079.30 572.65,1079.41 573.49,1079.51 574.33,1079.61 575.16,1079.71 576.00,1079.80 576.84,1079.89 577.68,1079.98 578.52,1080.06 579.35,1080.13 580.19,1080.21 581.03,1080.27 581.87,1080.34 582.71,1080.40 583.54,1080.45 584.38,1080.50 585.22,1080.55 586.06,1080.59 586.90,1080.63 587.73,1080.67 588.57,1080.70 589.41,1080.72 590.25,1080.74 591.09,1080.76 591.92,1080.77 592.76,1080.78 593.60,1080.78" fill="none" stroke="#0072bd" stroke-width="3.7" stroke-linejoin="round"/>
<line x1="376.6" y1="626.8" x2="376.6" y2="1089.1" stroke="#000" stroke-width="2.9" stroke-dasharray="4.9,5.81" stroke-dashoffset="10.01"/>
<rect x="90.8" y="626.8" width="502.8" height="462.29999999999995" fill="none" stroke="#262626" stroke-width="1.6"/>
<line x1="90.8" y1="1089.1" x2="90.8" y2="1083.6" stroke="#262626" stroke-width="1.6"/>
<line x1="90.8" y1="626.8" x2="90.8" y2="632.3" stroke="#262626" stroke-width="1.6"/>
<text x="90.8" y="1123.3" font-size="26" text-anchor="middle" font-weight="normal" font-style="normal" fill="#262626" >2000</text>
<line x1="258.4" y1="1089.1" x2="258.4" y2="1083.6" stroke="#262626" stroke-width="1.6"/>
<line x1="258.4" y1="626.8" x2="258.4" y2="632.3" stroke="#262626" stroke-width="1.6"/>
<text x="258.4" y="1123.3" font-size="26" text-anchor="middle" font-weight="normal" font-style="normal" fill="#262626" >2100</text>
<line x1="426.0" y1="1089.1" x2="426.0" y2="1083.6" stroke="#262626" stroke-width="1.6"/>
<line x1="426.0" y1="626.8" x2="426.0" y2="632.3" stroke="#262626" stroke-width="1.6"/>
<text x="426.0" y="1123.3" font-size="26" text-anchor="middle" font-weight="normal" font-style="normal" fill="#262626" >2200</text>
<line x1="593.6" y1="1089.1" x2="593.6" y2="1083.6" stroke="#262626" stroke-width="1.6"/>
<line x1="593.6" y1="626.8" x2="593.6" y2="632.3" stroke="#262626" stroke-width="1.6"/>
<text x="593.6" y="1123.3" font-size="26" text-anchor="middle" font-weight="normal" font-style="normal" fill="#262626" >2300</text>
<line x1="90.8" y1="1089.1" x2="96.3" y2="1089.1" stroke="#262626" stroke-width="1.6"/>
<line x1="593.6" y1="1089.1" x2="588.1" y2="1089.1" stroke="#262626" stroke-width="1.6"/>
<text x="82.0" y="1098.1" font-size="26" text-anchor="end" font-weight="normal" font-style="normal" fill="#262626" >0</text>
<line x1="90.8" y1="996.6" x2="96.3" y2="996.6" stroke="#262626" stroke-width="1.6"/>
<line x1="593.6" y1="996.6" x2="588.1" y2="996.6" stroke="#262626" stroke-width="1.6"/>
<text x="82.0" y="1005.6" font-size="26" text-anchor="end" font-weight="normal" font-style="normal" fill="#262626" >0.2</text>
<line x1="90.8" y1="904.2" x2="96.3" y2="904.2" stroke="#262626" stroke-width="1.6"/>
<line x1="593.6" y1="904.2" x2="588.1" y2="904.2" stroke="#262626" stroke-width="1.6"/>
<text x="82.0" y="913.2" font-size="26" text-anchor="end" font-weight="normal" font-style="normal" fill="#262626" >0.4</text>
<line x1="90.8" y1="811.7" x2="96.3" y2="811.7" stroke="#262626" stroke-width="1.6"/>
<line x1="593.6" y1="811.7" x2="588.1" y2="811.7" stroke="#262626" stroke-width="1.6"/>
<text x="82.0" y="820.7" font-size="26" text-anchor="end" font-weight="normal" font-style="normal" fill="#262626" >0.6</text>
<line x1="90.8" y1="719.3" x2="96.3" y2="719.3" stroke="#262626" stroke-width="1.6"/>
<line x1="593.6" y1="719.3" x2="588.1" y2="719.3" stroke="#262626" stroke-width="1.6"/>
<text x="82.0" y="728.3" font-size="26" text-anchor="end" font-weight="normal" font-style="normal" fill="#262626" >0.8</text>
<line x1="90.8" y1="626.8" x2="96.3" y2="626.8" stroke="#262626" stroke-width="1.6"/>
<line x1="593.6" y1="626.8" x2="588.1" y2="626.8" stroke="#262626" stroke-width="1.6"/>
<text x="82.0" y="635.8" font-size="26" text-anchor="end" font-weight="normal" font-style="normal" fill="#262626" >1</text>
<text x="341.0" y="1163.0" font-size="34.5" text-anchor="middle" font-weight="normal" font-style="normal" fill="#262626" >Frequency (Hz)</text>
<text transform="translate(24.8,1018.5) rotate(-90)" x="0" y="0" font-size="34.5" textLength="318" lengthAdjust="spacing" fill="#262626">Intensity (arb. units)</text>
<line x1="473.5" y1="652.9" x2="501.1" y2="652.9" stroke="#ff0000" stroke-width="3.6"/>
<text x="510.0" y="663.2" font-size="27" text-anchor="start" font-weight="normal" font-style="normal" fill="#000" >corner</text>
<line x1="473.5" y1="684.1" x2="501.1" y2="684.1" stroke="#ffd700" stroke-width="3.6"/>
<text x="510.0" y="694.4" font-size="27" text-anchor="start" font-weight="normal" font-style="normal" fill="#000" >edge</text>
<line x1="473.5" y1="715.9" x2="501.1" y2="715.9" stroke="#0072bd" stroke-width="3.6"/>
<text x="510.0" y="726.2" font-size="27" text-anchor="start" font-weight="normal" font-style="normal" fill="#000" >bulk</text>
<line x1="725.30" y1="847.55" x2="1027.81" y2="732.76" stroke="#d9d9d9" stroke-width="1.7"/>
<line x1="1027.81" y1="732.76" x2="1291.32" y2="904.62" stroke="#d9d9d9" stroke-width="1.7"/>
<line x1="725.30" y1="730.70" x2="1027.81" y2="615.91" stroke="#d9d9d9" stroke-width="1.7"/>
<line x1="1027.81" y1="615.91" x2="1291.32" y2="787.77" stroke="#d9d9d9" stroke-width="1.7"/>
<line x1="725.30" y1="964.40" x2="1027.81" y2="849.61" stroke="#d9d9d9" stroke-width="1.7"/>
<line x1="1027.81" y1="849.61" x2="1291.32" y2="1021.47" stroke="#d9d9d9" stroke-width="1.7"/>
<line x1="1027.81" y1="849.61" x2="1027.81" y2="615.91" stroke="#d9d9d9" stroke-width="1.7"/>
<line x1="841.65" y1="920.25" x2="841.65" y2="686.55" stroke="#d9d9d9" stroke-width="1.7"/>
<line x1="1129.16" y1="915.71" x2="1129.16" y2="682.01" stroke="#d9d9d9" stroke-width="1.7"/>
<line x1="841.65" y1="920.25" x2="1105.16" y2="1092.11" stroke="#d9d9d9" stroke-width="1.7"/>
<line x1="826.65" y1="1030.50" x2="1129.16" y2="915.71" stroke="#d9d9d9" stroke-width="1.7"/>
<line x1="958.00" y1="876.10" x2="958.00" y2="642.40" stroke="#d9d9d9" stroke-width="1.7"/>
<line x1="1230.51" y1="981.81" x2="1230.51" y2="748.11" stroke="#d9d9d9" stroke-width="1.7"/>
<line x1="958.00" y1="876.10" x2="1221.51" y2="1047.96" stroke="#d9d9d9" stroke-width="1.7"/>
<line x1="928.00" y1="1096.60" x2="1230.51" y2="981.81" stroke="#d9d9d9" stroke-width="1.7"/>
<defs>
<linearGradient id="g10_1" gradientUnits="userSpaceOnUse" x1="0" y1="889.32" x2="0" y2="655.62"><stop offset="0.0000" stop-color="#0c0000"/><stop offset="0.0200" stop-color="#150000"/><stop offset="0.0400" stop-color="#1d0000"/><stop offset="0.0600" stop-color="#260000"/><stop offset="0.0800" stop-color="#320000"/><stop offset="0.1000" stop-color="#410000"/><stop offset="0.1200" stop-color="#4f0000"/><stop offset="0.1400" stop-color="#5e0000"/><stop offset="0.1600" stop-color="#6d0000"/><stop offset="0.1800" stop-color="#7d0000"/><stop offset="0.2000" stop-color="#8e0000"/><stop offset="0.2200" stop-color="#9f0000"/><stop offset="0.2400" stop-color="#b00000"/><stop offset="0.2600" stop-color="#c00000"/><stop offset="0.2800" stop-color="#cf0000"/><stop offset="0.3000" stop-color="#dd0000"/><stop offset="0.3200" stop-color="#ed0000"/><stop offset="0.3400" stop-color="#fd0000"/><stop offset="0.3430" stop-color="#ff0000"/><stop offset="0.3600" stop-color="#ff0000"/><stop offset="0.3800" stop-color="#ff0700"/><stop offset="0.4000" stop-color="#ff0d00"/><stop offset="0.4200" stop-color="#ff1400"/><stop offset="0.4400" stop-color="#ff1d00"/><stop offset="0.4600" stop-color="#ff2600"/><stop offset="0.4800" stop-color="#ff2e00"/><stop offset="0.4999" stop-color="#ff3700"/><stop offset="0.5000" stop-color="#ff3700"/><stop offset="0.5001" stop-color="#ff3700"/><stop offset="0.5200" stop-color="#ff4000"/><stop offset="0.5400" stop-color="#ff4900"/><stop offset="0.5600" stop-color="#ff5200"/><stop offset="0.5800" stop-color="#ff5c00"/><stop offset="0.6000" stop-color="#ff6500"/><stop offset="0.6200" stop-color="#ff6f00"/><stop offset="0.6400" stop-color="#ff7900"/><stop offset="0.6600" stop-color="#ff8200"/><stop offset="0.6800" stop-color="#ff8c00"/><stop offset="0.7000" stop-color="#ff9600"/><stop offset="0.7200" stop-color="#ff9f00"/><stop offset="0.7400" stop-color="#ffa900"/><stop offset="0.7600" stop-color="#ffb200"/><stop offset="0.7800" stop-color="#ffbc00"/><stop offset="0.8000" stop-color="#ffc500"/><stop offset="0.8200" stop-color="#ffcf00"/><stop offset="0.8400" stop-color="#ffd800"/><stop offset="0.8600" stop-color="#ffe200"/><stop offset="0.8800" stop-color="#ffec00"/><stop offset="0.9000" stop-color="#fff900"/><stop offset="0.9080" stop-color="#fffe00"/><stop offset="0.9200" stop-color="#ffff00"/><stop offset="0.9400" stop-color="#ffff00"/><stop offset="0.9550" stop-color="#ffff00"/><stop offset="0.9600" stop-color="#ffff26"/><stop offset="0.9750" stop-color="#ffff96"/><stop offset="0.9800" stop-color="#ffffa7"/><stop offset="1.0000" stop-color="#ffffeb"/></linearGradient>
<linearGradient id="g12_3" gradientUnits="userSpaceOnUse" x1="0" y1="898.10" x2="0" y2="664.40"><stop offset="0.0000" stop-color="#0c0000"/><stop offset="0.0200" stop-color="#150000"/><stop offset="0.0400" stop-color="#1d0000"/><stop offset="0.0600" stop-color="#260000"/><stop offset="0.0800" stop-color="#320000"/><stop offset="0.1000" stop-color="#410000"/><stop offset="0.1200" stop-color="#4f0000"/><stop offset="0.1400" stop-color="#5e0000"/><stop offset="0.1600" stop-color="#6d0000"/><stop offset="0.1800" stop-color="#7d0000"/><stop offset="0.2000" stop-color="#8e0000"/><stop offset="0.2200" stop-color="#9f0000"/><stop offset="0.2400" stop-color="#b00000"/><stop offset="0.2600" stop-color="#c00000"/><stop offset="0.2800" stop-color="#cf0000"/><stop offset="0.3000" stop-color="#dd0000"/><stop offset="0.3200" stop-color="#ed0000"/><stop offset="0.3400" stop-color="#fd0000"/><stop offset="0.3430" stop-color="#ff0000"/><stop offset="0.3600" stop-color="#ff0000"/><stop offset="0.3800" stop-color="#ff0700"/><stop offset="0.4000" stop-color="#ff0d00"/><stop offset="0.4200" stop-color="#ff1400"/><stop offset="0.4400" stop-color="#ff1d00"/><stop offset="0.4600" stop-color="#ff2600"/><stop offset="0.4800" stop-color="#ff2e00"/><stop offset="0.4999" stop-color="#ff3700"/><stop offset="0.5000" stop-color="#ff3700"/><stop offset="0.5001" stop-color="#ff3700"/><stop offset="0.5200" stop-color="#ff4000"/><stop offset="0.5400" stop-color="#ff4900"/><stop offset="0.5600" stop-color="#ff5200"/><stop offset="0.5800" stop-color="#ff5c00"/><stop offset="0.6000" stop-color="#ff6500"/><stop offset="0.6200" stop-color="#ff6f00"/><stop offset="0.6400" stop-color="#ff7900"/><stop offset="0.6600" stop-color="#ff8200"/><stop offset="0.6800" stop-color="#ff8c00"/><stop offset="0.7000" stop-color="#ff9600"/><stop offset="0.7200" stop-color="#ff9f00"/><stop offset="0.7400" stop-color="#ffa900"/><stop offset="0.7600" stop-color="#ffb200"/><stop offset="0.7800" stop-color="#ffbc00"/><stop offset="0.8000" stop-color="#ffc500"/><stop offset="0.8200" stop-color="#ffcf00"/><stop offset="0.8400" stop-color="#ffd800"/><stop offset="0.8600" stop-color="#ffe200"/><stop offset="0.8800" stop-color="#ffec00"/><stop offset="0.9000" stop-color="#fff900"/><stop offset="0.9080" stop-color="#fffe00"/><stop offset="0.9200" stop-color="#ffff00"/><stop offset="0.9400" stop-color="#ffff00"/><stop offset="0.9550" stop-color="#ffff00"/><stop offset="0.9600" stop-color="#ffff26"/><stop offset="0.9750" stop-color="#ffff96"/><stop offset="0.9800" stop-color="#ffffa7"/><stop offset="1.0000" stop-color="#ffffeb"/></linearGradient>
<linearGradient id="g9_1" gradientUnits="userSpaceOnUse" x1="0" y1="898.15" x2="0" y2="664.45"><stop offset="0.0000" stop-color="#0c0000"/><stop offset="0.0200" stop-color="#150000"/><stop offset="0.0400" stop-color="#1d0000"/><stop offset="0.0600" stop-color="#260000"/><stop offset="0.0800" stop-color="#320000"/><stop offset="0.1000" stop-color="#410000"/><stop offset="0.1200" stop-color="#4f0000"/><stop offset="0.1400" stop-color="#5e0000"/><stop offset="0.1600" stop-color="#6d0000"/><stop offset="0.1800" stop-color="#7d0000"/><stop offset="0.2000" stop-color="#8e0000"/><stop offset="0.2200" stop-color="#9f0000"/><stop offset="0.2400" stop-color="#b00000"/><stop offset="0.2600" stop-color="#c00000"/><stop offset="0.2800" stop-color="#cf0000"/><stop offset="0.3000" stop-color="#dd0000"/><stop offset="0.3200" stop-color="#ed0000"/><stop offset="0.3400" stop-color="#fd0000"/><stop offset="0.3430" stop-color="#ff0000"/><stop offset="0.3600" stop-color="#ff0000"/><stop offset="0.3800" stop-color="#ff0700"/><stop offset="0.4000" stop-color="#ff0d00"/><stop offset="0.4200" stop-color="#ff1400"/><stop offset="0.4400" stop-color="#ff1d00"/><stop offset="0.4600" stop-color="#ff2600"/><stop offset="0.4800" stop-color="#ff2e00"/><stop offset="0.4999" stop-color="#ff3700"/><stop offset="0.5000" stop-color="#ff3700"/><stop offset="0.5001" stop-color="#ff3700"/><stop offset="0.5200" stop-color="#ff4000"/><stop offset="0.5400" stop-color="#ff4900"/><stop offset="0.5600" stop-color="#ff5200"/><stop offset="0.5800" stop-color="#ff5c00"/><stop offset="0.6000" stop-color="#ff6500"/><stop offset="0.6200" stop-color="#ff6f00"/><stop offset="0.6400" stop-color="#ff7900"/><stop offset="0.6600" stop-color="#ff8200"/><stop offset="0.6800" stop-color="#ff8c00"/><stop offset="0.7000" stop-color="#ff9600"/><stop offset="0.7200" stop-color="#ff9f00"/><stop offset="0.7400" stop-color="#ffa900"/><stop offset="0.7600" stop-color="#ffb200"/><stop offset="0.7800" stop-color="#ffbc00"/><stop offset="0.8000" stop-color="#ffc500"/><stop offset="0.8200" stop-color="#ffcf00"/><stop offset="0.8400" stop-color="#ffd800"/><stop offset="0.8600" stop-color="#ffe200"/><stop offset="0.8800" stop-color="#ffec00"/><stop offset="0.9000" stop-color="#fff900"/><stop offset="0.9080" stop-color="#fffe00"/><stop offset="0.9200" stop-color="#ffff00"/><stop offset="0.9400" stop-color="#ffff00"/><stop offset="0.9550" stop-color="#ffff00"/><stop offset="0.9600" stop-color="#ffff26"/><stop offset="0.9750" stop-color="#ffff96"/><stop offset="0.9800" stop-color="#ffffa7"/><stop offset="1.0000" stop-color="#ffffeb"/></linearGradient>
<linearGradient id="g10_2" gradientUnits="userSpaceOnUse" x1="0" y1="902.54" x2="0" y2="668.84"><stop offset="0.0000" stop-color="#0c0000"/><stop offset="0.0200" stop-color="#150000"/><stop offset="0.0400" stop-color="#1d0000"/><stop offset="0.0600" stop-color="#260000"/><stop offset="0.0800" stop-color="#320000"/><stop offset="0.1000" stop-color="#410000"/><stop offset="0.1200" stop-color="#4f0000"/><stop offset="0.1400" stop-color="#5e0000"/><stop offset="0.1600" stop-color="#6d0000"/><stop offset="0.1800" stop-color="#7d0000"/><stop offset="0.2000" stop-color="#8e0000"/><stop offset="0.2200" stop-color="#9f0000"/><stop offset="0.2400" stop-color="#b00000"/><stop offset="0.2600" stop-color="#c00000"/><stop offset="0.2800" stop-color="#cf0000"/><stop offset="0.3000" stop-color="#dd0000"/><stop offset="0.3200" stop-color="#ed0000"/><stop offset="0.3400" stop-color="#fd0000"/><stop offset="0.3430" stop-color="#ff0000"/><stop offset="0.3600" stop-color="#ff0000"/><stop offset="0.3800" stop-color="#ff0700"/><stop offset="0.4000" stop-color="#ff0d00"/><stop offset="0.4200" stop-color="#ff1400"/><stop offset="0.4400" stop-color="#ff1d00"/><stop offset="0.4600" stop-color="#ff2600"/><stop offset="0.4800" stop-color="#ff2e00"/><stop offset="0.4999" stop-color="#ff3700"/><stop offset="0.5000" stop-color="#ff3700"/><stop offset="0.5001" stop-color="#ff3700"/><stop offset="0.5200" stop-color="#ff4000"/><stop offset="0.5400" stop-color="#ff4900"/><stop offset="0.5600" stop-color="#ff5200"/><stop offset="0.5800" stop-color="#ff5c00"/><stop offset="0.6000" stop-color="#ff6500"/><stop offset="0.6200" stop-color="#ff6f00"/><stop offset="0.6400" stop-color="#ff7900"/><stop offset="0.6600" stop-color="#ff8200"/><stop offset="0.6800" stop-color="#ff8c00"/><stop offset="0.7000" stop-color="#ff9600"/><stop offset="0.7200" stop-color="#ff9f00"/><stop offset="0.7400" stop-color="#ffa900"/><stop offset="0.7600" stop-color="#ffb200"/><stop offset="0.7800" stop-color="#ffbc00"/><stop offset="0.8000" stop-color="#ffc500"/><stop offset="0.8200" stop-color="#ffcf00"/><stop offset="0.8400" stop-color="#ffd800"/><stop offset="0.8600" stop-color="#ffe200"/><stop offset="0.8800" stop-color="#ffec00"/><stop offset="0.9000" stop-color="#fff900"/><stop offset="0.9080" stop-color="#fffe00"/><stop offset="0.9200" stop-color="#ffff00"/><stop offset="0.9400" stop-color="#ffff00"/><stop offset="0.9550" stop-color="#ffff00"/><stop offset="0.9600" stop-color="#ffff26"/><stop offset="0.9750" stop-color="#ffff96"/><stop offset="0.9800" stop-color="#ffffa7"/><stop offset="1.0000" stop-color="#ffffeb"/></linearGradient>
<linearGradient id="g11_3" gradientUnits="userSpaceOnUse" x1="0" y1="906.93" x2="0" y2="673.23"><stop offset="0.0000" stop-color="#0c0000"/><stop offset="0.0200" stop-color="#150000"/><stop offset="0.0400" stop-color="#1d0000"/><stop offset="0.0600" stop-color="#260000"/><stop offset="0.0800" stop-color="#320000"/><stop offset="0.1000" stop-color="#410000"/><stop offset="0.1200" stop-color="#4f0000"/><stop offset="0.1400" stop-color="#5e0000"/><stop offset="0.1600" stop-color="#6d0000"/><stop offset="0.1800" stop-color="#7d0000"/><stop offset="0.2000" stop-color="#8e0000"/><stop offset="0.2200" stop-color="#9f0000"/><stop offset="0.2400" stop-color="#b00000"/><stop offset="0.2600" stop-color="#c00000"/><stop offset="0.2800" stop-color="#cf0000"/><stop offset="0.3000" stop-color="#dd0000"/><stop offset="0.3200" stop-color="#ed0000"/><stop offset="0.3400" stop-color="#fd0000"/><stop offset="0.3430" stop-color="#ff0000"/><stop offset="0.3600" stop-color="#ff0000"/><stop offset="0.3800" stop-color="#ff0700"/><stop offset="0.4000" stop-color="#ff0d00"/><stop offset="0.4200" stop-color="#ff1400"/><stop offset="0.4400" stop-color="#ff1d00"/><stop offset="0.4600" stop-color="#ff2600"/><stop offset="0.4800" stop-color="#ff2e00"/><stop offset="0.4999" stop-color="#ff3700"/><stop offset="0.5000" stop-color="#ff3700"/><stop offset="0.5001" stop-color="#ff3700"/><stop offset="0.5200" stop-color="#ff4000"/><stop offset="0.5400" stop-color="#ff4900"/><stop offset="0.5600" stop-color="#ff5200"/><stop offset="0.5800" stop-color="#ff5c00"/><stop offset="0.6000" stop-color="#ff6500"/><stop offset="0.6200" stop-color="#ff6f00"/><stop offset="0.6400" stop-color="#ff7900"/><stop offset="0.6600" stop-color="#ff8200"/><stop offset="0.6800" stop-color="#ff8c00"/><stop offset="0.7000" stop-color="#ff9600"/><stop offset="0.7200" stop-color="#ff9f00"/><stop offset="0.7400" stop-color="#ffa900"/><stop offset="0.7600" stop-color="#ffb200"/><stop offset="0.7800" stop-color="#ffbc00"/><stop offset="0.8000" stop-color="#ffc500"/><stop offset="0.8200" stop-color="#ffcf00"/><stop offset="0.8400" stop-color="#ffd800"/><stop offset="0.8600" stop-color="#ffe200"/><stop offset="0.8800" stop-color="#ffec00"/><stop offset="0.9000" stop-color="#fff900"/><stop offset="0.9080" stop-color="#fffe00"/><stop offset="0.9200" stop-color="#ffff00"/><stop offset="0.9400" stop-color="#ffff00"/><stop offset="0.9550" stop-color="#ffff00"/><stop offset="0.9600" stop-color="#ffff26"/><stop offset="0.9750" stop-color="#ffff96"/><stop offset="0.9800" stop-color="#ffffa7"/><stop offset="1.0000" stop-color="#ffffeb"/></linearGradient>
<linearGradient id="g12_4" gradientUnits="userSpaceOnUse" x1="0" y1="911.32" x2="0" y2="677.62"><stop offset="0.0000" stop-color="#0c0000"/><stop offset="0.0200" stop-color="#150000"/><stop offset="0.0400" stop-color="#1d0000"/><stop offset="0.0600" stop-color="#260000"/><stop offset="0.0800" stop-color="#320000"/><stop offset="0.1000" stop-color="#410000"/><stop offset="0.1200" stop-color="#4f0000"/><stop offset="0.1400" stop-color="#5e0000"/><stop offset="0.1600" stop-color="#6d0000"/><stop offset="0.1800" stop-color="#7d0000"/><stop offset="0.2000" stop-color="#8e0000"/><stop offset="0.2200" stop-color="#9f0000"/><stop offset="0.2400" stop-color="#b00000"/><stop offset="0.2600" stop-color="#c00000"/><stop offset="0.2800" stop-color="#cf0000"/><stop offset="0.3000" stop-color="#dd0000"/><stop offset="0.3200" stop-color="#ed0000"/><stop offset="0.3400" stop-color="#fd0000"/><stop offset="0.3430" stop-color="#ff0000"/><stop offset="0.3600" stop-color="#ff0000"/><stop offset="0.3800" stop-color="#ff0700"/><stop offset="0.4000" stop-color="#ff0d00"/><stop offset="0.4200" stop-color="#ff1400"/><stop offset="0.4400" stop-color="#ff1d00"/><stop offset="0.4600" stop-color="#ff2600"/><stop offset="0.4800" stop-color="#ff2e00"/><stop offset="0.4999" stop-color="#ff3700"/><stop offset="0.5000" stop-color="#ff3700"/><stop offset="0.5001" stop-color="#ff3700"/><stop offset="0.5200" stop-color="#ff4000"/><stop offset="0.5400" stop-color="#ff4900"/><stop offset="0.5600" stop-color="#ff5200"/><stop offset="0.5800" stop-color="#ff5c00"/><stop offset="0.6000" stop-color="#ff6500"/><stop offset="0.6200" stop-color="#ff6f00"/><stop offset="0.6400" stop-color="#ff7900"/><stop offset="0.6600" stop-color="#ff8200"/><stop offset="0.6800" stop-color="#ff8c00"/><stop offset="0.7000" stop-color="#ff9600"/><stop offset="0.7200" stop-color="#ff9f00"/><stop offset="0.7400" stop-color="#ffa900"/><stop offset="0.7600" stop-color="#ffb200"/><stop offset="0.7800" stop-color="#ffbc00"/><stop offset="0.8000" stop-color="#ffc500"/><stop offset="0.8200" stop-color="#ffcf00"/><stop offset="0.8400" stop-color="#ffd800"/><stop offset="0.8600" stop-color="#ffe200"/><stop offset="0.8800" stop-color="#ffec00"/><stop offset="0.9000" stop-color="#fff900"/><stop offset="0.9080" stop-color="#fffe00"/><stop offset="0.9200" stop-color="#ffff00"/><stop offset="0.9400" stop-color="#ffff00"/><stop offset="0.9550" stop-color="#ffff00"/><stop offset="0.9600" stop-color="#ffff26"/><stop offset="0.9750" stop-color="#ffff96"/><stop offset="0.9800" stop-color="#ffffa7"/><stop offset="1.0000" stop-color="#ffffeb"/></linearGradient>
<linearGradient id="g9_2" gradientUnits="userSpaceOnUse" x1="0" y1="911.37" x2="0" y2="677.67"><stop offset="0.0000" stop-color="#0c0000"/><stop offset="0.0200" stop-color="#150000"/><stop offset="0.0400" stop-color="#1d0000"/><stop offset="0.0600" stop-color="#260000"/><stop offset="0.0800" stop-color="#320000"/><stop offset="0.1000" stop-color="#410000"/><stop offset="0.1200" stop-color="#4f0000"/><stop offset="0.1400" stop-color="#5e0000"/><stop offset="0.1600" stop-color="#6d0000"/><stop offset="0.1800" stop-color="#7d0000"/><stop offset="0.2000" stop-color="#8e0000"/><stop offset="0.2200" stop-color="#9f0000"/><stop offset="0.2400" stop-color="#b00000"/><stop offset="0.2600" stop-color="#c00000"/><stop offset="0.2800" stop-color="#cf0000"/><stop offset="0.3000" stop-color="#dd0000"/><stop offset="0.3200" stop-color="#ed0000"/><stop offset="0.3400" stop-color="#fd0000"/><stop offset="0.3430" stop-color="#ff0000"/><stop offset="0.3600" stop-color="#ff0000"/><stop offset="0.3800" stop-color="#ff0700"/><stop offset="0.4000" stop-color="#ff0d00"/><stop offset="0.4200" stop-color="#ff1400"/><stop offset="0.4400" stop-color="#ff1d00"/><stop offset="0.4600" stop-color="#ff2600"/><stop offset="0.4800" stop-color="#ff2e00"/><stop offset="0.4999" stop-color="#ff3700"/><stop offset="0.5000" stop-color="#ff3700"/><stop offset="0.5001" stop-color="#ff3700"/><stop offset="0.5200" stop-color="#ff4000"/><stop offset="0.5400" stop-color="#ff4900"/><stop offset="0.5600" stop-color="#ff5200"/><stop offset="0.5800" stop-color="#ff5c00"/><stop offset="0.6000" stop-color="#ff6500"/><stop offset="0.6200" stop-color="#ff6f00"/><stop offset="0.6400" stop-color="#ff7900"/><stop offset="0.6600" stop-color="#ff8200"/><stop offset="0.6800" stop-color="#ff8c00"/><stop offset="0.7000" stop-color="#ff9600"/><stop offset="0.7200" stop-color="#ff9f00"/><stop offset="0.7400" stop-color="#ffa900"/><stop offset="0.7600" stop-color="#ffb200"/><stop offset="0.7800" stop-color="#ffbc00"/><stop offset="0.8000" stop-color="#ffc500"/><stop offset="0.8200" stop-color="#ffcf00"/><stop offset="0.8400" stop-color="#ffd800"/><stop offset="0.8600" stop-color="#ffe200"/><stop offset="0.8800" stop-color="#ffec00"/><stop offset="0.9000" stop-color="#fff900"/><stop offset="0.9080" stop-color="#fffe00"/><stop offset="0.9200" stop-color="#ffff00"/><stop offset="0.9400" stop-color="#ffff00"/><stop offset="0.9550" stop-color="#ffff00"/><stop offset="0.9600" stop-color="#ffff26"/><stop offset="0.9750" stop-color="#ffff96"/><stop offset="0.9800" stop-color="#ffffa7"/><stop offset="1.0000" stop-color="#ffffeb"/></linearGradient>
<linearGradient id="g11_4" gradientUnits="userSpaceOnUse" x1="0" y1="920.15" x2="0" y2="686.45"><stop offset="0.0000" stop-color="#0c0000"/><stop offset="0.0200" stop-color="#150000"/><stop offset="0.0400" stop-color="#1d0000"/><stop offset="0.0600" stop-color="#260000"/><stop offset="0.0800" stop-color="#320000"/><stop offset="0.1000" stop-color="#410000"/><stop offset="0.1200" stop-color="#4f0000"/><stop offset="0.1400" stop-color="#5e0000"/><stop offset="0.1600" stop-color="#6d0000"/><stop offset="0.1800" stop-color="#7d0000"/><stop offset="0.2000" stop-color="#8e0000"/><stop offset="0.2200" stop-color="#9f0000"/><stop offset="0.2400" stop-color="#b00000"/><stop offset="0.2600" stop-color="#c00000"/><stop offset="0.2800" stop-color="#cf0000"/><stop offset="0.3000" stop-color="#dd0000"/><stop offset="0.3200" stop-color="#ed0000"/><stop offset="0.3400" stop-color="#fd0000"/><stop offset="0.3430" stop-color="#ff0000"/><stop offset="0.3600" stop-color="#ff0000"/><stop offset="0.3800" stop-color="#ff0700"/><stop offset="0.4000" stop-color="#ff0d00"/><stop offset="0.4200" stop-color="#ff1400"/><stop offset="0.4400" stop-color="#ff1d00"/><stop offset="0.4600" stop-color="#ff2600"/><stop offset="0.4800" stop-color="#ff2e00"/><stop offset="0.4999" stop-color="#ff3700"/><stop offset="0.5000" stop-color="#ff3700"/><stop offset="0.5001" stop-color="#ff3700"/><stop offset="0.5200" stop-color="#ff4000"/><stop offset="0.5400" stop-color="#ff4900"/><stop offset="0.5600" stop-color="#ff5200"/><stop offset="0.5800" stop-color="#ff5c00"/><stop offset="0.6000" stop-color="#ff6500"/><stop offset="0.6200" stop-color="#ff6f00"/><stop offset="0.6400" stop-color="#ff7900"/><stop offset="0.6600" stop-color="#ff8200"/><stop offset="0.6800" stop-color="#ff8c00"/><stop offset="0.7000" stop-color="#ff9600"/><stop offset="0.7200" stop-color="#ff9f00"/><stop offset="0.7400" stop-color="#ffa900"/><stop offset="0.7600" stop-color="#ffb200"/><stop offset="0.7800" stop-color="#ffbc00"/><stop offset="0.8000" stop-color="#ffc500"/><stop offset="0.8200" stop-color="#ffcf00"/><stop offset="0.8400" stop-color="#ffd800"/><stop offset="0.8600" stop-color="#ffe200"/><stop offset="0.8800" stop-color="#ffec00"/><stop offset="0.9000" stop-color="#fff900"/><stop offset="0.9080" stop-color="#fffe00"/><stop offset="0.9200" stop-color="#ffff00"/><stop offset="0.9400" stop-color="#ffff00"/><stop offset="0.9550" stop-color="#ffff00"/><stop offset="0.9600" stop-color="#ffff26"/><stop offset="0.9750" stop-color="#ffff96"/><stop offset="0.9800" stop-color="#ffffa7"/><stop offset="1.0000" stop-color="#ffffeb"/></linearGradient>
<linearGradient id="g6_1" gradientUnits="userSpaceOnUse" x1="0" y1="924.64" x2="0" y2="690.94"><stop offset="0.0000" stop-color="#0c0000"/><stop offset="0.0200" stop-color="#150000"/><stop offset="0.0400" stop-color="#1d0000"/><stop offset="0.0600" stop-color="#260000"/><stop offset="0.0800" stop-color="#320000"/><stop offset="0.1000" stop-color="#410000"/><stop offset="0.1200" stop-color="#4f0000"/><stop offset="0.1400" stop-color="#5e0000"/><stop offset="0.1600" stop-color="#6d0000"/><stop offset="0.1800" stop-color="#7d0000"/><stop offset="0.2000" stop-color="#8e0000"/><stop offset="0.2200" stop-color="#9f0000"/><stop offset="0.2400" stop-color="#b00000"/><stop offset="0.2600" stop-color="#c00000"/><stop offset="0.2800" stop-color="#cf0000"/><stop offset="0.3000" stop-color="#dd0000"/><stop offset="0.3200" stop-color="#ed0000"/><stop offset="0.3400" stop-color="#fd0000"/><stop offset="0.3430" stop-color="#ff0000"/><stop offset="0.3600" stop-color="#ff0000"/><stop offset="0.3800" stop-color="#ff0700"/><stop offset="0.4000" stop-color="#ff0d00"/><stop offset="0.4200" stop-color="#ff1400"/><stop offset="0.4400" stop-color="#ff1d00"/><stop offset="0.4600" stop-color="#ff2600"/><stop offset="0.4800" stop-color="#ff2e00"/><stop offset="0.4999" stop-color="#ff3700"/><stop offset="0.5000" stop-color="#ff3700"/><stop offset="0.5001" stop-color="#ff3700"/><stop offset="0.5200" stop-color="#ff4000"/><stop offset="0.5400" stop-color="#ff4900"/><stop offset="0.5600" stop-color="#ff5200"/><stop offset="0.5800" stop-color="#ff5c00"/><stop offset="0.6000" stop-color="#ff6500"/><stop offset="0.6200" stop-color="#ff6f00"/><stop offset="0.6400" stop-color="#ff7900"/><stop offset="0.6600" stop-color="#ff8200"/><stop offset="0.6800" stop-color="#ff8c00"/><stop offset="0.7000" stop-color="#ff9600"/><stop offset="0.7200" stop-color="#ff9f00"/><stop offset="0.7400" stop-color="#ffa900"/><stop offset="0.7600" stop-color="#ffb200"/><stop offset="0.7800" stop-color="#ffbc00"/><stop offset="0.8000" stop-color="#ffc500"/><stop offset="0.8200" stop-color="#ffcf00"/><stop offset="0.8400" stop-color="#ffd800"/><stop offset="0.8600" stop-color="#ffe200"/><stop offset="0.8800" stop-color="#ffec00"/><stop offset="0.9000" stop-color="#fff900"/><stop offset="0.9080" stop-color="#fffe00"/><stop offset="0.9200" stop-color="#ffff00"/><stop offset="0.9400" stop-color="#ffff00"/><stop offset="0.9550" stop-color="#ffff00"/><stop offset="0.9600" stop-color="#ffff26"/><stop offset="0.9750" stop-color="#ffff96"/><stop offset="0.9800" stop-color="#ffffa7"/><stop offset="1.0000" stop-color="#ffffeb"/></linearGradient>
<linearGradient id="g8_3" gradientUnits="userSpaceOnUse" x1="0" y1="933.42" x2="0" y2="699.72"><stop offset="0.0000" stop-color="#0c0000"/><stop offset="0.0200" stop-color="#150000"/><stop offset="0.0400" stop-color="#1d0000"/><stop offset="0.0600" stop-color="#260000"/><stop offset="0.0800" stop-color="#320000"/><stop offset="0.1000" stop-color="#410000"/><stop offset="0.1200" stop-color="#4f0000"/><stop offset="0.1400" stop-color="#5e0000"/><stop offset="0.1600" stop-color="#6d0000"/><stop offset="0.1800" stop-color="#7d0000"/><stop offset="0.2000" stop-color="#8e0000"/><stop offset="0.2200" stop-color="#9f0000"/><stop offset="0.2400" stop-color="#b00000"/><stop offset="0.2600" stop-color="#c00000"/><stop offset="0.2800" stop-color="#cf0000"/><stop offset="0.3000" stop-color="#dd0000"/><stop offset="0.3200" stop-color="#ed0000"/><stop offset="0.3400" stop-color="#fd0000"/><stop offset="0.3430" stop-color="#ff0000"/><stop offset="0.3600" stop-color="#ff0000"/><stop offset="0.3800" stop-color="#ff0700"/><stop offset="0.4000" stop-color="#ff0d00"/><stop offset="0.4200" stop-color="#ff1400"/><stop offset="0.4400" stop-color="#ff1d00"/><stop offset="0.4600" stop-color="#ff2600"/><stop offset="0.4800" stop-color="#ff2e00"/><stop offset="0.4999" stop-color="#ff3700"/><stop offset="0.5000" stop-color="#ff3700"/><stop offset="0.5001" stop-color="#ff3700"/><stop offset="0.5200" stop-color="#ff4000"/><stop offset="0.5400" stop-color="#ff4900"/><stop offset="0.5600" stop-color="#ff5200"/><stop offset="0.5800" stop-color="#ff5c00"/><stop offset="0.6000" stop-color="#ff6500"/><stop offset="0.6200" stop-color="#ff6f00"/><stop offset="0.6400" stop-color="#ff7900"/><stop offset="0.6600" stop-color="#ff8200"/><stop offset="0.6800" stop-color="#ff8c00"/><stop offset="0.7000" stop-color="#ff9600"/><stop offset="0.7200" stop-color="#ff9f00"/><stop offset="0.7400" stop-color="#ffa900"/><stop offset="0.7600" stop-color="#ffb200"/><stop offset="0.7800" stop-color="#ffbc00"/><stop offset="0.8000" stop-color="#ffc500"/><stop offset="0.8200" stop-color="#ffcf00"/><stop offset="0.8400" stop-color="#ffd800"/><stop offset="0.8600" stop-color="#ffe200"/><stop offset="0.8800" stop-color="#ffec00"/><stop offset="0.9000" stop-color="#fff900"/><stop offset="0.9080" stop-color="#fffe00"/><stop offset="0.9200" stop-color="#ffff00"/><stop offset="0.9400" stop-color="#ffff00"/><stop offset="0.9550" stop-color="#ffff00"/><stop offset="0.9600" stop-color="#ffff26"/><stop offset="0.9750" stop-color="#ffff96"/><stop offset="0.9800" stop-color="#ffffa7"/><stop offset="1.0000" stop-color="#ffffeb"/></linearGradient>
<linearGradient id="g5_1" gradientUnits="userSpaceOnUse" x1="0" y1="933.47" x2="0" y2="699.77"><stop offset="0.0000" stop-color="#0c0000"/><stop offset="0.0200" stop-color="#150000"/><stop offset="0.0400" stop-color="#1d0000"/><stop offset="0.0600" stop-color="#260000"/><stop offset="0.0800" stop-color="#320000"/><stop offset="0.1000" stop-color="#410000"/><stop offset="0.1200" stop-color="#4f0000"/><stop offset="0.1400" stop-color="#5e0000"/><stop offset="0.1600" stop-color="#6d0000"/><stop offset="0.1800" stop-color="#7d0000"/><stop offset="0.2000" stop-color="#8e0000"/><stop offset="0.2200" stop-color="#9f0000"/><stop offset="0.2400" stop-color="#b00000"/><stop offset="0.2600" stop-color="#c00000"/><stop offset="0.2800" stop-color="#cf0000"/><stop offset="0.3000" stop-color="#dd0000"/><stop offset="0.3200" stop-color="#ed0000"/><stop offset="0.3400" stop-color="#fd0000"/><stop offset="0.3430" stop-color="#ff0000"/><stop offset="0.3600" stop-color="#ff0000"/><stop offset="0.3800" stop-color="#ff0700"/><stop offset="0.4000" stop-color="#ff0d00"/><stop offset="0.4200" stop-color="#ff1400"/><stop offset="0.4400" stop-color="#ff1d00"/><stop offset="0.4600" stop-color="#ff2600"/><stop offset="0.4800" stop-color="#ff2e00"/><stop offset="0.4999" stop-color="#ff3700"/><stop offset="0.5000" stop-color="#ff3700"/><stop offset="0.5001" stop-color="#ff3700"/><stop offset="0.5200" stop-color="#ff4000"/><stop offset="0.5400" stop-color="#ff4900"/><stop offset="0.5600" stop-color="#ff5200"/><stop offset="0.5800" stop-color="#ff5c00"/><stop offset="0.6000" stop-color="#ff6500"/><stop offset="0.6200" stop-color="#ff6f00"/><stop offset="0.6400" stop-color="#ff7900"/><stop offset="0.6600" stop-color="#ff8200"/><stop offset="0.6800" stop-color="#ff8c00"/><stop offset="0.7000" stop-color="#ff9600"/><stop offset="0.7200" stop-color="#ff9f00"/><stop offset="0.7400" stop-color="#ffa900"/><stop offset="0.7600" stop-color="#ffb200"/><stop offset="0.7800" stop-color="#ffbc00"/><stop offset="0.8000" stop-color="#ffc500"/><stop offset="0.8200" stop-color="#ffcf00"/><stop offset="0.8400" stop-color="#ffd800"/><stop offset="0.8600" stop-color="#ffe200"/><stop offset="0.8800" stop-color="#ffec00"/><stop offset="0.9000" stop-color="#fff900"/><stop offset="0.9080" stop-color="#fffe00"/><stop offset="0.9200" stop-color="#ffff00"/><stop offset="0.9400" stop-color="#ffff00"/><stop offset="0.9550" stop-color="#ffff00"/><stop offset="0.9600" stop-color="#ffff26"/><stop offset="0.9750" stop-color="#ffff96"/><stop offset="0.9800" stop-color="#ffffa7"/><stop offset="1.0000" stop-color="#ffffeb"/></linearGradient>
<linearGradient id="g6_2" gradientUnits="userSpaceOnUse" x1="0" y1="937.86" x2="0" y2="704.16"><stop offset="0.0000" stop-color="#0c0000"/><stop offset="0.0200" stop-color="#150000"/><stop offset="0.0400" stop-color="#1d0000"/><stop offset="0.0600" stop-color="#260000"/><stop offset="0.0800" stop-color="#320000"/><stop offset="0.1000" stop-color="#410000"/><stop offset="0.1200" stop-color="#4f0000"/><stop offset="0.1400" stop-color="#5e0000"/><stop offset="0.1600" stop-color="#6d0000"/><stop offset="0.1800" stop-color="#7d0000"/><stop offset="0.2000" stop-color="#8e0000"/><stop offset="0.2200" stop-color="#9f0000"/><stop offset="0.2400" stop-color="#b00000"/><stop offset="0.2600" stop-color="#c00000"/><stop offset="0.2800" stop-color="#cf0000"/><stop offset="0.3000" stop-color="#dd0000"/><stop offset="0.3200" stop-color="#ed0000"/><stop offset="0.3400" stop-color="#fd0000"/><stop offset="0.3430" stop-color="#ff0000"/><stop offset="0.3600" stop-color="#ff0000"/><stop offset="0.3800" stop-color="#ff0700"/><stop offset="0.4000" stop-color="#ff0d00"/><stop offset="0.4200" stop-color="#ff1400"/><stop offset="0.4400" stop-color="#ff1d00"/><stop offset="0.4600" stop-color="#ff2600"/><stop offset="0.4800" stop-color="#ff2e00"/><stop offset="0.4999" stop-color="#ff3700"/><stop offset="0.5000" stop-color="#ff3700"/><stop offset="0.5001" stop-color="#ff3700"/><stop offset="0.5200" stop-color="#ff4000"/><stop offset="0.5400" stop-color="#ff4900"/><stop offset="0.5600" stop-color="#ff5200"/><stop offset="0.5800" stop-color="#ff5c00"/><stop offset="0.6000" stop-color="#ff6500"/><stop offset="0.6200" stop-color="#ff6f00"/><stop offset="0.6400" stop-color="#ff7900"/><stop offset="0.6600" stop-color="#ff8200"/><stop offset="0.6800" stop-color="#ff8c00"/><stop offset="0.7000" stop-color="#ff9600"/><stop offset="0.7200" stop-color="#ff9f00"/><stop offset="0.7400" stop-color="#ffa900"/><stop offset="0.7600" stop-color="#ffb200"/><stop offset="0.7800" stop-color="#ffbc00"/><stop offset="0.8000" stop-color="#ffc500"/><stop offset="0.8200" stop-color="#ffcf00"/><stop offset="0.8400" stop-color="#ffd800"/><stop offset="0.8600" stop-color="#ffe200"/><stop offset="0.8800" stop-color="#ffec00"/><stop offset="0.9000" stop-color="#fff900"/><stop offset="0.9080" stop-color="#fffe00"/><stop offset="0.9200" stop-color="#ffff00"/><stop offset="0.9400" stop-color="#ffff00"/><stop offset="0.9550" stop-color="#ffff00"/><stop offset="0.9600" stop-color="#ffff26"/><stop offset="0.9750" stop-color="#ffff96"/><stop offset="0.9800" stop-color="#ffffa7"/><stop offset="1.0000" stop-color="#ffffeb"/></linearGradient>
<linearGradient id="g10_5" gradientUnits="userSpaceOnUse" x1="0" y1="942.20" x2="0" y2="708.50"><stop offset="0.0000" stop-color="#0c0000"/><stop offset="0.0200" stop-color="#150000"/><stop offset="0.0400" stop-color="#1d0000"/><stop offset="0.0600" stop-color="#260000"/><stop offset="0.0800" stop-color="#320000"/><stop offset="0.1000" stop-color="#410000"/><stop offset="0.1200" stop-color="#4f0000"/><stop offset="0.1400" stop-color="#5e0000"/><stop offset="0.1600" stop-color="#6d0000"/><stop offset="0.1800" stop-color="#7d0000"/><stop offset="0.2000" stop-color="#8e0000"/><stop offset="0.2200" stop-color="#9f0000"/><stop offset="0.2400" stop-color="#b00000"/><stop offset="0.2600" stop-color="#c00000"/><stop offset="0.2800" stop-color="#cf0000"/><stop offset="0.3000" stop-color="#dd0000"/><stop offset="0.3200" stop-color="#ed0000"/><stop offset="0.3400" stop-color="#fd0000"/><stop offset="0.3430" stop-color="#ff0000"/><stop offset="0.3600" stop-color="#ff0000"/><stop offset="0.3800" stop-color="#ff0700"/><stop offset="0.4000" stop-color="#ff0d00"/><stop offset="0.4200" stop-color="#ff1400"/><stop offset="0.4400" stop-color="#ff1d00"/><stop offset="0.4600" stop-color="#ff2600"/><stop offset="0.4800" stop-color="#ff2e00"/><stop offset="0.4999" stop-color="#ff3700"/><stop offset="0.5000" stop-color="#ff3700"/><stop offset="0.5001" stop-color="#ff3700"/><stop offset="0.5200" stop-color="#ff4000"/><stop offset="0.5400" stop-color="#ff4900"/><stop offset="0.5600" stop-color="#ff5200"/><stop offset="0.5800" stop-color="#ff5c00"/><stop offset="0.6000" stop-color="#ff6500"/><stop offset="0.6200" stop-color="#ff6f00"/><stop offset="0.6400" stop-color="#ff7900"/><stop offset="0.6600" stop-color="#ff8200"/><stop offset="0.6800" stop-color="#ff8c00"/><stop offset="0.7000" stop-color="#ff9600"/><stop offset="0.7200" stop-color="#ff9f00"/><stop offset="0.7400" stop-color="#ffa900"/><stop offset="0.7600" stop-color="#ffb200"/><stop offset="0.7800" stop-color="#ffbc00"/><stop offset="0.8000" stop-color="#ffc500"/><stop offset="0.8200" stop-color="#ffcf00"/><stop offset="0.8400" stop-color="#ffd800"/><stop offset="0.8600" stop-color="#ffe200"/><stop offset="0.8800" stop-color="#ffec00"/><stop offset="0.9000" stop-color="#fff900"/><stop offset="0.9080" stop-color="#fffe00"/><stop offset="0.9200" stop-color="#ffff00"/><stop offset="0.9400" stop-color="#ffff00"/><stop offset="0.9550" stop-color="#ffff00"/><stop offset="0.9600" stop-color="#ffff26"/><stop offset="0.9750" stop-color="#ffff96"/><stop offset="0.9800" stop-color="#ffffa7"/><stop offset="1.0000" stop-color="#ffffeb"/></linearGradient>
<linearGradient id="g7_3" gradientUnits="userSpaceOnUse" x1="0" y1="942.25" x2="0" y2="708.55"><stop offset="0.0000" stop-color="#0c0000"/><stop offset="0.0200" stop-color="#150000"/><stop offset="0.0400" stop-color="#1d0000"/><stop offset="0.0600" stop-color="#260000"/><stop offset="0.0800" stop-color="#320000"/><stop offset="0.1000" stop-color="#410000"/><stop offset="0.1200" stop-color="#4f0000"/><stop offset="0.1400" stop-color="#5e0000"/><stop offset="0.1600" stop-color="#6d0000"/><stop offset="0.1800" stop-color="#7d0000"/><stop offset="0.2000" stop-color="#8e0000"/><stop offset="0.2200" stop-color="#9f0000"/><stop offset="0.2400" stop-color="#b00000"/><stop offset="0.2600" stop-color="#c00000"/><stop offset="0.2800" stop-color="#cf0000"/><stop offset="0.3000" stop-color="#dd0000"/><stop offset="0.3200" stop-color="#ed0000"/><stop offset="0.3400" stop-color="#fd0000"/><stop offset="0.3430" stop-color="#ff0000"/><stop offset="0.3600" stop-color="#ff0000"/><stop offset="0.3800" stop-color="#ff0700"/><stop offset="0.4000" stop-color="#ff0d00"/><stop offset="0.4200" stop-color="#ff1400"/><stop offset="0.4400" stop-color="#ff1d00"/><stop offset="0.4600" stop-color="#ff2600"/><stop offset="0.4800" stop-color="#ff2e00"/><stop offset="0.4999" stop-color="#ff3700"/><stop offset="0.5000" stop-color="#ff3700"/><stop offset="0.5001" stop-color="#ff3700"/><stop offset="0.5200" stop-color="#ff4000"/><stop offset="0.5400" stop-color="#ff4900"/><stop offset="0.5600" stop-color="#ff5200"/><stop offset="0.5800" stop-color="#ff5c00"/><stop offset="0.6000" stop-color="#ff6500"/><stop offset="0.6200" stop-color="#ff6f00"/><stop offset="0.6400" stop-color="#ff7900"/><stop offset="0.6600" stop-color="#ff8200"/><stop offset="0.6800" stop-color="#ff8c00"/><stop offset="0.7000" stop-color="#ff9600"/><stop offset="0.7200" stop-color="#ff9f00"/><stop offset="0.7400" stop-color="#ffa900"/><stop offset="0.7600" stop-color="#ffb200"/><stop offset="0.7800" stop-color="#ffbc00"/><stop offset="0.8000" stop-color="#ffc500"/><stop offset="0.8200" stop-color="#ffcf00"/><stop offset="0.8400" stop-color="#ffd800"/><stop offset="0.8600" stop-color="#ffe200"/><stop offset="0.8800" stop-color="#ffec00"/><stop offset="0.9000" stop-color="#fff900"/><stop offset="0.9080" stop-color="#fffe00"/><stop offset="0.9200" stop-color="#ffff00"/><stop offset="0.9400" stop-color="#ffff00"/><stop offset="0.9550" stop-color="#ffff00"/><stop offset="0.9600" stop-color="#ffff26"/><stop offset="0.9750" stop-color="#ffff96"/><stop offset="0.9800" stop-color="#ffffa7"/><stop offset="1.0000" stop-color="#ffffeb"/></linearGradient>
<linearGradient id="g8_4" gradientUnits="userSpaceOnUse" x1="0" y1="946.64" x2="0" y2="712.94"><stop offset="0.0000" stop-color="#0c0000"/><stop offset="0.0200" stop-color="#150000"/><stop offset="0.0400" stop-color="#1d0000"/><stop offset="0.0600" stop-color="#260000"/><stop offset="0.0800" stop-color="#320000"/><stop offset="0.1000" stop-color="#410000"/><stop offset="0.1200" stop-color="#4f0000"/><stop offset="0.1400" stop-color="#5e0000"/><stop offset="0.1600" stop-color="#6d0000"/><stop offset="0.1800" stop-color="#7d0000"/><stop offset="0.2000" stop-color="#8e0000"/><stop offset="0.2200" stop-color="#9f0000"/><stop offset="0.2400" stop-color="#b00000"/><stop offset="0.2600" stop-color="#c00000"/><stop offset="0.2800" stop-color="#cf0000"/><stop offset="0.3000" stop-color="#dd0000"/><stop offset="0.3200" stop-color="#ed0000"/><stop offset="0.3400" stop-color="#fd0000"/><stop offset="0.3430" stop-color="#ff0000"/><stop offset="0.3600" stop-color="#ff0000"/><stop offset="0.3800" stop-color="#ff0700"/><stop offset="0.4000" stop-color="#ff0d00"/><stop offset="0.4200" stop-color="#ff1400"/><stop offset="0.4400" stop-color="#ff1d00"/><stop offset="0.4600" stop-color="#ff2600"/><stop offset="0.4800" stop-color="#ff2e00"/><stop offset="0.4999" stop-color="#ff3700"/><stop offset="0.5000" stop-color="#ff3700"/><stop offset="0.5001" stop-color="#ff3700"/><stop offset="0.5200" stop-color="#ff4000"/><stop offset="0.5400" stop-color="#ff4900"/><stop offset="0.5600" stop-color="#ff5200"/><stop offset="0.5800" stop-color="#ff5c00"/><stop offset="0.6000" stop-color="#ff6500"/><stop offset="0.6200" stop-color="#ff6f00"/><stop offset="0.6400" stop-color="#ff7900"/><stop offset="0.6600" stop-color="#ff8200"/><stop offset="0.6800" stop-color="#ff8c00"/><stop offset="0.7000" stop-color="#ff9600"/><stop offset="0.7200" stop-color="#ff9f00"/><stop offset="0.7400" stop-color="#ffa900"/><stop offset="0.7600" stop-color="#ffb200"/><stop offset="0.7800" stop-color="#ffbc00"/><stop offset="0.8000" stop-color="#ffc500"/><stop offset="0.8200" stop-color="#ffcf00"/><stop offset="0.8400" stop-color="#ffd800"/><stop offset="0.8600" stop-color="#ffe200"/><stop offset="0.8800" stop-color="#ffec00"/><stop offset="0.9000" stop-color="#fff900"/><stop offset="0.9080" stop-color="#fffe00"/><stop offset="0.9200" stop-color="#ffff00"/><stop offset="0.9400" stop-color="#ffff00"/><stop offset="0.9550" stop-color="#ffff00"/><stop offset="0.9600" stop-color="#ffff26"/><stop offset="0.9750" stop-color="#ffff96"/><stop offset="0.9800" stop-color="#ffffa7"/><stop offset="1.0000" stop-color="#ffffeb"/></linearGradient>
<linearGradient id="g5_2" gradientUnits="userSpaceOnUse" x1="0" y1="946.69" x2="0" y2="712.99"><stop offset="0.0000" stop-color="#0c0000"/><stop offset="0.0200" stop-color="#150000"/><stop offset="0.0400" stop-color="#1d0000"/><stop offset="0.0600" stop-color="#260000"/><stop offset="0.0800" stop-color="#320000"/><stop offset="0.1000" stop-color="#410000"/><stop offset="0.1200" stop-color="#4f0000"/><stop offset="0.1400" stop-color="#5e0000"/><stop offset="0.1600" stop-color="#6d0000"/><stop offset="0.1800" stop-color="#7d0000"/><stop offset="0.2000" stop-color="#8e0000"/><stop offset="0.2200" stop-color="#9f0000"/><stop offset="0.2400" stop-color="#b00000"/><stop offset="0.2600" stop-color="#c00000"/><stop offset="0.2800" stop-color="#cf0000"/><stop offset="0.3000" stop-color="#dd0000"/><stop offset="0.3200" stop-color="#ed0000"/><stop offset="0.3400" stop-color="#fd0000"/><stop offset="0.3430" stop-color="#ff0000"/><stop offset="0.3600" stop-color="#ff0000"/><stop offset="0.3800" stop-color="#ff0700"/><stop offset="0.4000" stop-color="#ff0d00"/><stop offset="0.4200" stop-color="#ff1400"/><stop offset="0.4400" stop-color="#ff1d00"/><stop offset="0.4600" stop-color="#ff2600"/><stop offset="0.4800" stop-color="#ff2e00"/><stop offset="0.4999" stop-color="#ff3700"/><stop offset="0.5000" stop-color="#ff3700"/><stop offset="0.5001" stop-color="#ff3700"/><stop offset="0.5200" stop-color="#ff4000"/><stop offset="0.5400" stop-color="#ff4900"/><stop offset="0.5600" stop-color="#ff5200"/><stop offset="0.5800" stop-color="#ff5c00"/><stop offset="0.6000" stop-color="#ff6500"/><stop offset="0.6200" stop-color="#ff6f00"/><stop offset="0.6400" stop-color="#ff7900"/><stop offset="0.6600" stop-color="#ff8200"/><stop offset="0.6800" stop-color="#ff8c00"/><stop offset="0.7000" stop-color="#ff9600"/><stop offset="0.7200" stop-color="#ff9f00"/><stop offset="0.7400" stop-color="#ffa900"/><stop offset="0.7600" stop-color="#ffb200"/><stop offset="0.7800" stop-color="#ffbc00"/><stop offset="0.8000" stop-color="#ffc500"/><stop offset="0.8200" stop-color="#ffcf00"/><stop offset="0.8400" stop-color="#ffd800"/><stop offset="0.8600" stop-color="#ffe200"/><stop offset="0.8800" stop-color="#ffec00"/><stop offset="0.9000" stop-color="#fff900"/><stop offset="0.9080" stop-color="#fffe00"/><stop offset="0.9200" stop-color="#ffff00"/><stop offset="0.9400" stop-color="#ffff00"/><stop offset="0.9550" stop-color="#ffff00"/><stop offset="0.9600" stop-color="#ffff26"/><stop offset="0.9750" stop-color="#ffff96"/><stop offset="0.9800" stop-color="#ffffa7"/><stop offset="1.0000" stop-color="#ffffeb"/></linearGradient>
<linearGradient id="g12_7" gradientUnits="userSpaceOnUse" x1="0" y1="950.98" x2="0" y2="717.28"><stop offset="0.0000" stop-color="#0c0000"/><stop offset="0.0200" stop-color="#150000"/><stop offset="0.0400" stop-color="#1d0000"/><stop offset="0.0600" stop-color="#260000"/><stop offset="0.0800" stop-color="#320000"/><stop offset="0.1000" stop-color="#410000"/><stop offset="0.1200" stop-color="#4f0000"/><stop offset="0.1400" stop-color="#5e0000"/><stop offset="0.1600" stop-color="#6d0000"/><stop offset="0.1800" stop-color="#7d0000"/><stop offset="0.2000" stop-color="#8e0000"/><stop offset="0.2200" stop-color="#9f0000"/><stop offset="0.2400" stop-color="#b00000"/><stop offset="0.2600" stop-color="#c00000"/><stop offset="0.2800" stop-color="#cf0000"/><stop offset="0.3000" stop-color="#dd0000"/><stop offset="0.3200" stop-color="#ed0000"/><stop offset="0.3400" stop-color="#fd0000"/><stop offset="0.3430" stop-color="#ff0000"/><stop offset="0.3600" stop-color="#ff0000"/><stop offset="0.3800" stop-color="#ff0700"/><stop offset="0.4000" stop-color="#ff0d00"/><stop offset="0.4200" stop-color="#ff1400"/><stop offset="0.4400" stop-color="#ff1d00"/><stop offset="0.4600" stop-color="#ff2600"/><stop offset="0.4800" stop-color="#ff2e00"/><stop offset="0.4999" stop-color="#ff3700"/><stop offset="0.5000" stop-color="#ff3700"/><stop offset="0.5001" stop-color="#ff3700"/><stop offset="0.5200" stop-color="#ff4000"/><stop offset="0.5400" stop-color="#ff4900"/><stop offset="0.5600" stop-color="#ff5200"/><stop offset="0.5800" stop-color="#ff5c00"/><stop offset="0.6000" stop-color="#ff6500"/><stop offset="0.6200" stop-color="#ff6f00"/><stop offset="0.6400" stop-color="#ff7900"/><stop offset="0.6600" stop-color="#ff8200"/><stop offset="0.6800" stop-color="#ff8c00"/><stop offset="0.7000" stop-color="#ff9600"/><stop offset="0.7200" stop-color="#ff9f00"/><stop offset="0.7400" stop-color="#ffa900"/><stop offset="0.7600" stop-color="#ffb200"/><stop offset="0.7800" stop-color="#ffbc00"/><stop offset="0.8000" stop-color="#ffc500"/><stop offset="0.8200" stop-color="#ffcf00"/><stop offset="0.8400" stop-color="#ffd800"/><stop offset="0.8600" stop-color="#ffe200"/><stop offset="0.8800" stop-color="#ffec00"/><stop offset="0.9000" stop-color="#fff900"/><stop offset="0.9080" stop-color="#fffe00"/><stop offset="0.9200" stop-color="#ffff00"/><stop offset="0.9400" stop-color="#ffff00"/><stop offset="0.9550" stop-color="#ffff00"/><stop offset="0.9600" stop-color="#ffff26"/><stop offset="0.9750" stop-color="#ffff96"/><stop offset="0.9800" stop-color="#ffffa7"/><stop offset="1.0000" stop-color="#ffffeb"/></linearGradient>
<linearGradient id="g9_5" gradientUnits="userSpaceOnUse" x1="0" y1="951.03" x2="0" y2="717.33"><stop offset="0.0000" stop-color="#0c0000"/><stop offset="0.0200" stop-color="#150000"/><stop offset="0.0400" stop-color="#1d0000"/><stop offset="0.0600" stop-color="#260000"/><stop offset="0.0800" stop-color="#320000"/><stop offset="0.1000" stop-color="#410000"/><stop offset="0.1200" stop-color="#4f0000"/><stop offset="0.1400" stop-color="#5e0000"/><stop offset="0.1600" stop-color="#6d0000"/><stop offset="0.1800" stop-color="#7d0000"/><stop offset="0.2000" stop-color="#8e0000"/><stop offset="0.2200" stop-color="#9f0000"/><stop offset="0.2400" stop-color="#b00000"/><stop offset="0.2600" stop-color="#c00000"/><stop offset="0.2800" stop-color="#cf0000"/><stop offset="0.3000" stop-color="#dd0000"/><stop offset="0.3200" stop-color="#ed0000"/><stop offset="0.3400" stop-color="#fd0000"/><stop offset="0.3430" stop-color="#ff0000"/><stop offset="0.3600" stop-color="#ff0000"/><stop offset="0.3800" stop-color="#ff0700"/><stop offset="0.4000" stop-color="#ff0d00"/><stop offset="0.4200" stop-color="#ff1400"/><stop offset="0.4400" stop-color="#ff1d00"/><stop offset="0.4600" stop-color="#ff2600"/><stop offset="0.4800" stop-color="#ff2e00"/><stop offset="0.4999" stop-color="#ff3700"/><stop offset="0.5000" stop-color="#ff3700"/><stop offset="0.5001" stop-color="#ff3700"/><stop offset="0.5200" stop-color="#ff4000"/><stop offset="0.5400" stop-color="#ff4900"/><stop offset="0.5600" stop-color="#ff5200"/><stop offset="0.5800" stop-color="#ff5c00"/><stop offset="0.6000" stop-color="#ff6500"/><stop offset="0.6200" stop-color="#ff6f00"/><stop offset="0.6400" stop-color="#ff7900"/><stop offset="0.6600" stop-color="#ff8200"/><stop offset="0.6800" stop-color="#ff8c00"/><stop offset="0.7000" stop-color="#ff9600"/><stop offset="0.7200" stop-color="#ff9f00"/><stop offset="0.7400" stop-color="#ffa900"/><stop offset="0.7600" stop-color="#ffb200"/><stop offset="0.7800" stop-color="#ffbc00"/><stop offset="0.8000" stop-color="#ffc500"/><stop offset="0.8200" stop-color="#ffcf00"/><stop offset="0.8400" stop-color="#ffd800"/><stop offset="0.8600" stop-color="#ffe200"/><stop offset="0.8800" stop-color="#ffec00"/><stop offset="0.9000" stop-color="#fff900"/><stop offset="0.9080" stop-color="#fffe00"/><stop offset="0.9200" stop-color="#ffff00"/><stop offset="0.9400" stop-color="#ffff00"/><stop offset="0.9550" stop-color="#ffff00"/><stop offset="0.9600" stop-color="#ffff26"/><stop offset="0.9750" stop-color="#ffff96"/><stop offset="0.9800" stop-color="#ffffa7"/><stop offset="1.0000" stop-color="#ffffeb"/></linearGradient>
<linearGradient id="g10_6" gradientUnits="userSpaceOnUse" x1="0" y1="955.42" x2="0" y2="721.72"><stop offset="0.0000" stop-color="#0c0000"/><stop offset="0.0200" stop-color="#150000"/><stop offset="0.0400" stop-color="#1d0000"/><stop offset="0.0600" stop-color="#260000"/><stop offset="0.0800" stop-color="#320000"/><stop offset="0.1000" stop-color="#410000"/><stop offset="0.1200" stop-color="#4f0000"/><stop offset="0.1400" stop-color="#5e0000"/><stop offset="0.1600" stop-color="#6d0000"/><stop offset="0.1800" stop-color="#7d0000"/><stop offset="0.2000" stop-color="#8e0000"/><stop offset="0.2200" stop-color="#9f0000"/><stop offset="0.2400" stop-color="#b00000"/><stop offset="0.2600" stop-color="#c00000"/><stop offset="0.2800" stop-color="#cf0000"/><stop offset="0.3000" stop-color="#dd0000"/><stop offset="0.3200" stop-color="#ed0000"/><stop offset="0.3400" stop-color="#fd0000"/><stop offset="0.3430" stop-color="#ff0000"/><stop offset="0.3600" stop-color="#ff0000"/><stop offset="0.3800" stop-color="#ff0700"/><stop offset="0.4000" stop-color="#ff0d00"/><stop offset="0.4200" stop-color="#ff1400"/><stop offset="0.4400" stop-color="#ff1d00"/><stop offset="0.4600" stop-color="#ff2600"/><stop offset="0.4800" stop-color="#ff2e00"/><stop offset="0.4999" stop-color="#ff3700"/><stop offset="0.5000" stop-color="#ff3700"/><stop offset="0.5001" stop-color="#ff3700"/><stop offset="0.5200" stop-color="#ff4000"/><stop offset="0.5400" stop-color="#ff4900"/><stop offset="0.5600" stop-color="#ff5200"/><stop offset="0.5800" stop-color="#ff5c00"/><stop offset="0.6000" stop-color="#ff6500"/><stop offset="0.6200" stop-color="#ff6f00"/><stop offset="0.6400" stop-color="#ff7900"/><stop offset="0.6600" stop-color="#ff8200"/><stop offset="0.6800" stop-color="#ff8c00"/><stop offset="0.7000" stop-color="#ff9600"/><stop offset="0.7200" stop-color="#ff9f00"/><stop offset="0.7400" stop-color="#ffa900"/><stop offset="0.7600" stop-color="#ffb200"/><stop offset="0.7800" stop-color="#ffbc00"/><stop offset="0.8000" stop-color="#ffc500"/><stop offset="0.8200" stop-color="#ffcf00"/><stop offset="0.8400" stop-color="#ffd800"/><stop offset="0.8600" stop-color="#ffe200"/><stop offset="0.8800" stop-color="#ffec00"/><stop offset="0.9000" stop-color="#fff900"/><stop offset="0.9080" stop-color="#fffe00"/><stop offset="0.9200" stop-color="#ffff00"/><stop offset="0.9400" stop-color="#ffff00"/><stop offset="0.9550" stop-color="#ffff00"/><stop offset="0.9600" stop-color="#ffff26"/><stop offset="0.9750" stop-color="#ffff96"/><stop offset="0.9800" stop-color="#ffffa7"/><stop offset="1.0000" stop-color="#ffffeb"/></linearGradient>
<linearGradient id="g7_4" gradientUnits="userSpaceOnUse" x1="0" y1="955.47" x2="0" y2="721.77"><stop offset="0.0000" stop-color="#0c0000"/><stop offset="0.0200" stop-color="#150000"/><stop offset="0.0400" stop-color="#1d0000"/><stop offset="0.0600" stop-color="#260000"/><stop offset="0.0800" stop-color="#320000"/><stop offset="0.1000" stop-color="#410000"/><stop offset="0.1200" stop-color="#4f0000"/><stop offset="0.1400" stop-color="#5e0000"/><stop offset="0.1600" stop-color="#6d0000"/><stop offset="0.1800" stop-color="#7d0000"/><stop offset="0.2000" stop-color="#8e0000"/><stop offset="0.2200" stop-color="#9f0000"/><stop offset="0.2400" stop-color="#b00000"/><stop offset="0.2600" stop-color="#c00000"/><stop offset="0.2800" stop-color="#cf0000"/><stop offset="0.3000" stop-color="#dd0000"/><stop offset="0.3200" stop-color="#ed0000"/><stop offset="0.3400" stop-color="#fd0000"/><stop offset="0.3430" stop-color="#ff0000"/><stop offset="0.3600" stop-color="#ff0000"/><stop offset="0.3800" stop-color="#ff0700"/><stop offset="0.4000" stop-color="#ff0d00"/><stop offset="0.4200" stop-color="#ff1400"/><stop offset="0.4400" stop-color="#ff1d00"/><stop offset="0.4600" stop-color="#ff2600"/><stop offset="0.4800" stop-color="#ff2e00"/><stop offset="0.4999" stop-color="#ff3700"/><stop offset="0.5000" stop-color="#ff3700"/><stop offset="0.5001" stop-color="#ff3700"/><stop offset="0.5200" stop-color="#ff4000"/><stop offset="0.5400" stop-color="#ff4900"/><stop offset="0.5600" stop-color="#ff5200"/><stop offset="0.5800" stop-color="#ff5c00"/><stop offset="0.6000" stop-color="#ff6500"/><stop offset="0.6200" stop-color="#ff6f00"/><stop offset="0.6400" stop-color="#ff7900"/><stop offset="0.6600" stop-color="#ff8200"/><stop offset="0.6800" stop-color="#ff8c00"/><stop offset="0.7000" stop-color="#ff9600"/><stop offset="0.7200" stop-color="#ff9f00"/><stop offset="0.7400" stop-color="#ffa900"/><stop offset="0.7600" stop-color="#ffb200"/><stop offset="0.7800" stop-color="#ffbc00"/><stop offset="0.8000" stop-color="#ffc500"/><stop offset="0.8200" stop-color="#ffcf00"/><stop offset="0.8400" stop-color="#ffd800"/><stop offset="0.8600" stop-color="#ffe200"/><stop offset="0.8800" stop-color="#ffec00"/><stop offset="0.9000" stop-color="#fff900"/><stop offset="0.9080" stop-color="#fffe00"/><stop offset="0.9200" stop-color="#ffff00"/><stop offset="0.9400" stop-color="#ffff00"/><stop offset="0.9550" stop-color="#ffff00"/><stop offset="0.9600" stop-color="#ffff26"/><stop offset="0.9750" stop-color="#ffff96"/><stop offset="0.9800" stop-color="#ffffa7"/><stop offset="1.0000" stop-color="#ffffeb"/></linearGradient>
<linearGradient id="g11_7" gradientUnits="userSpaceOnUse" x1="0" y1="959.81" x2="0" y2="726.11"><stop offset="0.0000" stop-color="#0c0000"/><stop offset="0.0200" stop-color="#150000"/><stop offset="0.0400" stop-color="#1d0000"/><stop offset="0.0600" stop-color="#260000"/><stop offset="0.0800" stop-color="#320000"/><stop offset="0.1000" stop-color="#410000"/><stop offset="0.1200" stop-color="#4f0000"/><stop offset="0.1400" stop-color="#5e0000"/><stop offset="0.1600" stop-color="#6d0000"/><stop offset="0.1800" stop-color="#7d0000"/><stop offset="0.2000" stop-color="#8e0000"/><stop offset="0.2200" stop-color="#9f0000"/><stop offset="0.2400" stop-color="#b00000"/><stop offset="0.2600" stop-color="#c00000"/><stop offset="0.2800" stop-color="#cf0000"/><stop offset="0.3000" stop-color="#dd0000"/><stop offset="0.3200" stop-color="#ed0000"/><stop offset="0.3400" stop-color="#fd0000"/><stop offset="0.3430" stop-color="#ff0000"/><stop offset="0.3600" stop-color="#ff0000"/><stop offset="0.3800" stop-color="#ff0700"/><stop offset="0.4000" stop-color="#ff0d00"/><stop offset="0.4200" stop-color="#ff1400"/><stop offset="0.4400" stop-color="#ff1d00"/><stop offset="0.4600" stop-color="#ff2600"/><stop offset="0.4800" stop-color="#ff2e00"/><stop offset="0.4999" stop-color="#ff3700"/><stop offset="0.5000" stop-color="#ff3700"/><stop offset="0.5001" stop-color="#ff3700"/><stop offset="0.5200" stop-color="#ff4000"/><stop offset="0.5400" stop-color="#ff4900"/><stop offset="0.5600" stop-color="#ff5200"/><stop offset="0.5800" stop-color="#ff5c00"/><stop offset="0.6000" stop-color="#ff6500"/><stop offset="0.6200" stop-color="#ff6f00"/><stop offset="0.6400" stop-color="#ff7900"/><stop offset="0.6600" stop-color="#ff8200"/><stop offset="0.6800" stop-color="#ff8c00"/><stop offset="0.7000" stop-color="#ff9600"/><stop offset="0.7200" stop-color="#ff9f00"/><stop offset="0.7400" stop-color="#ffa900"/><stop offset="0.7600" stop-color="#ffb200"/><stop offset="0.7800" stop-color="#ffbc00"/><stop offset="0.8000" stop-color="#ffc500"/><stop offset="0.8200" stop-color="#ffcf00"/><stop offset="0.8400" stop-color="#ffd800"/><stop offset="0.8600" stop-color="#ffe200"/><stop offset="0.8800" stop-color="#ffec00"/><stop offset="0.9000" stop-color="#fff900"/><stop offset="0.9080" stop-color="#fffe00"/><stop offset="0.9200" stop-color="#ffff00"/><stop offset="0.9400" stop-color="#ffff00"/><stop offset="0.9550" stop-color="#ffff00"/><stop offset="0.9600" stop-color="#ffff26"/><stop offset="0.9750" stop-color="#ffff96"/><stop offset="0.9800" stop-color="#ffffa7"/><stop offset="1.0000" stop-color="#ffffeb"/></linearGradient>
<linearGradient id="g2_1" gradientUnits="userSpaceOnUse" x1="0" y1="959.96" x2="0" y2="726.26"><stop offset="0.0000" stop-color="#0c0000"/><stop offset="0.0200" stop-color="#150000"/><stop offset="0.0400" stop-color="#1d0000"/><stop offset="0.0600" stop-color="#260000"/><stop offset="0.0800" stop-color="#320000"/><stop offset="0.1000" stop-color="#410000"/><stop offset="0.1200" stop-color="#4f0000"/><stop offset="0.1400" stop-color="#5e0000"/><stop offset="0.1600" stop-color="#6d0000"/><stop offset="0.1800" stop-color="#7d0000"/><stop offset="0.2000" stop-color="#8e0000"/><stop offset="0.2200" stop-color="#9f0000"/><stop offset="0.2400" stop-color="#b00000"/><stop offset="0.2600" stop-color="#c00000"/><stop offset="0.2800" stop-color="#cf0000"/><stop offset="0.3000" stop-color="#dd0000"/><stop offset="0.3200" stop-color="#ed0000"/><stop offset="0.3400" stop-color="#fd0000"/><stop offset="0.3430" stop-color="#ff0000"/><stop offset="0.3600" stop-color="#ff0000"/><stop offset="0.3800" stop-color="#ff0700"/><stop offset="0.4000" stop-color="#ff0d00"/><stop offset="0.4200" stop-color="#ff1400"/><stop offset="0.4400" stop-color="#ff1d00"/><stop offset="0.4600" stop-color="#ff2600"/><stop offset="0.4800" stop-color="#ff2e00"/><stop offset="0.4999" stop-color="#ff3700"/><stop offset="0.5000" stop-color="#ff3700"/><stop offset="0.5001" stop-color="#ff3700"/><stop offset="0.5200" stop-color="#ff4000"/><stop offset="0.5400" stop-color="#ff4900"/><stop offset="0.5600" stop-color="#ff5200"/><stop offset="0.5800" stop-color="#ff5c00"/><stop offset="0.6000" stop-color="#ff6500"/><stop offset="0.6200" stop-color="#ff6f00"/><stop offset="0.6400" stop-color="#ff7900"/><stop offset="0.6600" stop-color="#ff8200"/><stop offset="0.6800" stop-color="#ff8c00"/><stop offset="0.7000" stop-color="#ff9600"/><stop offset="0.7200" stop-color="#ff9f00"/><stop offset="0.7400" stop-color="#ffa900"/><stop offset="0.7600" stop-color="#ffb200"/><stop offset="0.7800" stop-color="#ffbc00"/><stop offset="0.8000" stop-color="#ffc500"/><stop offset="0.8200" stop-color="#ffcf00"/><stop offset="0.8400" stop-color="#ffd800"/><stop offset="0.8600" stop-color="#ffe200"/><stop offset="0.8800" stop-color="#ffec00"/><stop offset="0.9000" stop-color="#fff900"/><stop offset="0.9080" stop-color="#fffe00"/><stop offset="0.9200" stop-color="#ffff00"/><stop offset="0.9400" stop-color="#ffff00"/><stop offset="0.9550" stop-color="#ffff00"/><stop offset="0.9600" stop-color="#ffff26"/><stop offset="0.9750" stop-color="#ffff96"/><stop offset="0.9800" stop-color="#ffffa7"/><stop offset="1.0000" stop-color="#ffffeb"/></linearGradient>
<linearGradient id="g12_8" gradientUnits="userSpaceOnUse" x1="0" y1="964.20" x2="0" y2="730.50"><stop offset="0.0000" stop-color="#0c0000"/><stop offset="0.0200" stop-color="#150000"/><stop offset="0.0400" stop-color="#1d0000"/><stop offset="0.0600" stop-color="#260000"/><stop offset="0.0800" stop-color="#320000"/><stop offset="0.1000" stop-color="#410000"/><stop offset="0.1200" stop-color="#4f0000"/><stop offset="0.1400" stop-color="#5e0000"/><stop offset="0.1600" stop-color="#6d0000"/><stop offset="0.1800" stop-color="#7d0000"/><stop offset="0.2000" stop-color="#8e0000"/><stop offset="0.2200" stop-color="#9f0000"/><stop offset="0.2400" stop-color="#b00000"/><stop offset="0.2600" stop-color="#c00000"/><stop offset="0.2800" stop-color="#cf0000"/><stop offset="0.3000" stop-color="#dd0000"/><stop offset="0.3200" stop-color="#ed0000"/><stop offset="0.3400" stop-color="#fd0000"/><stop offset="0.3430" stop-color="#ff0000"/><stop offset="0.3600" stop-color="#ff0000"/><stop offset="0.3800" stop-color="#ff0700"/><stop offset="0.4000" stop-color="#ff0d00"/><stop offset="0.4200" stop-color="#ff1400"/><stop offset="0.4400" stop-color="#ff1d00"/><stop offset="0.4600" stop-color="#ff2600"/><stop offset="0.4800" stop-color="#ff2e00"/><stop offset="0.4999" stop-color="#ff3700"/><stop offset="0.5000" stop-color="#ff3700"/><stop offset="0.5001" stop-color="#ff3700"/><stop offset="0.5200" stop-color="#ff4000"/><stop offset="0.5400" stop-color="#ff4900"/><stop offset="0.5600" stop-color="#ff5200"/><stop offset="0.5800" stop-color="#ff5c00"/><stop offset="0.6000" stop-color="#ff6500"/><stop offset="0.6200" stop-color="#ff6f00"/><stop offset="0.6400" stop-color="#ff7900"/><stop offset="0.6600" stop-color="#ff8200"/><stop offset="0.6800" stop-color="#ff8c00"/><stop offset="0.7000" stop-color="#ff9600"/><stop offset="0.7200" stop-color="#ff9f00"/><stop offset="0.7400" stop-color="#ffa900"/><stop offset="0.7600" stop-color="#ffb200"/><stop offset="0.7800" stop-color="#ffbc00"/><stop offset="0.8000" stop-color="#ffc500"/><stop offset="0.8200" stop-color="#ffcf00"/><stop offset="0.8400" stop-color="#ffd800"/><stop offset="0.8600" stop-color="#ffe200"/><stop offset="0.8800" stop-color="#ffec00"/><stop offset="0.9000" stop-color="#fff900"/><stop offset="0.9080" stop-color="#fffe00"/><stop offset="0.9200" stop-color="#ffff00"/><stop offset="0.9400" stop-color="#ffff00"/><stop offset="0.9550" stop-color="#ffff00"/><stop offset="0.9600" stop-color="#ffff26"/><stop offset="0.9750" stop-color="#ffff96"/><stop offset="0.9800" stop-color="#ffffa7"/><stop offset="1.0000" stop-color="#ffffeb"/></linearGradient>
<linearGradient id="g9_6" gradientUnits="userSpaceOnUse" x1="0" y1="964.25" x2="0" y2="730.55"><stop offset="0.0000" stop-color="#0c0000"/><stop offset="0.0200" stop-color="#150000"/><stop offset="0.0400" stop-color="#1d0000"/><stop offset="0.0600" stop-color="#260000"/><stop offset="0.0800" stop-color="#320000"/><stop offset="0.1000" stop-color="#410000"/><stop offset="0.1200" stop-color="#4f0000"/><stop offset="0.1400" stop-color="#5e0000"/><stop offset="0.1600" stop-color="#6d0000"/><stop offset="0.1800" stop-color="#7d0000"/><stop offset="0.2000" stop-color="#8e0000"/><stop offset="0.2200" stop-color="#9f0000"/><stop offset="0.2400" stop-color="#b00000"/><stop offset="0.2600" stop-color="#c00000"/><stop offset="0.2800" stop-color="#cf0000"/><stop offset="0.3000" stop-color="#dd0000"/><stop offset="0.3200" stop-color="#ed0000"/><stop offset="0.3400" stop-color="#fd0000"/><stop offset="0.3430" stop-color="#ff0000"/><stop offset="0.3600" stop-color="#ff0000"/><stop offset="0.3800" stop-color="#ff0700"/><stop offset="0.4000" stop-color="#ff0d00"/><stop offset="0.4200" stop-color="#ff1400"/><stop offset="0.4400" stop-color="#ff1d00"/><stop offset="0.4600" stop-color="#ff2600"/><stop offset="0.4800" stop-color="#ff2e00"/><stop offset="0.4999" stop-color="#ff3700"/><stop offset="0.5000" stop-color="#ff3700"/><stop offset="0.5001" stop-color="#ff3700"/><stop offset="0.5200" stop-color="#ff4000"/><stop offset="0.5400" stop-color="#ff4900"/><stop offset="0.5600" stop-color="#ff5200"/><stop offset="0.5800" stop-color="#ff5c00"/><stop offset="0.6000" stop-color="#ff6500"/><stop offset="0.6200" stop-color="#ff6f00"/><stop offset="0.6400" stop-color="#ff7900"/><stop offset="0.6600" stop-color="#ff8200"/><stop offset="0.6800" stop-color="#ff8c00"/><stop offset="0.7000" stop-color="#ff9600"/><stop offset="0.7200" stop-color="#ff9f00"/><stop offset="0.7400" stop-color="#ffa900"/><stop offset="0.7600" stop-color="#ffb200"/><stop offset="0.7800" stop-color="#ffbc00"/><stop offset="0.8000" stop-color="#ffc500"/><stop offset="0.8200" stop-color="#ffcf00"/><stop offset="0.8400" stop-color="#ffd800"/><stop offset="0.8600" stop-color="#ffe200"/><stop offset="0.8800" stop-color="#ffec00"/><stop offset="0.9000" stop-color="#fff900"/><stop offset="0.9080" stop-color="#fffe00"/><stop offset="0.9200" stop-color="#ffff00"/><stop offset="0.9400" stop-color="#ffff00"/><stop offset="0.9550" stop-color="#ffff00"/><stop offset="0.9600" stop-color="#ffff26"/><stop offset="0.9750" stop-color="#ffff96"/><stop offset="0.9800" stop-color="#ffffa7"/><stop offset="1.0000" stop-color="#ffffeb"/></linearGradient>
<linearGradient id="g4_3" gradientUnits="userSpaceOnUse" x1="0" y1="968.74" x2="0" y2="735.04"><stop offset="0.0000" stop-color="#0c0000"/><stop offset="0.0200" stop-color="#150000"/><stop offset="0.0400" stop-color="#1d0000"/><stop offset="0.0600" stop-color="#260000"/><stop offset="0.0800" stop-color="#320000"/><stop offset="0.1000" stop-color="#410000"/><stop offset="0.1200" stop-color="#4f0000"/><stop offset="0.1400" stop-color="#5e0000"/><stop offset="0.1600" stop-color="#6d0000"/><stop offset="0.1800" stop-color="#7d0000"/><stop offset="0.2000" stop-color="#8e0000"/><stop offset="0.2200" stop-color="#9f0000"/><stop offset="0.2400" stop-color="#b00000"/><stop offset="0.2600" stop-color="#c00000"/><stop offset="0.2800" stop-color="#cf0000"/><stop offset="0.3000" stop-color="#dd0000"/><stop offset="0.3200" stop-color="#ed0000"/><stop offset="0.3400" stop-color="#fd0000"/><stop offset="0.3430" stop-color="#ff0000"/><stop offset="0.3600" stop-color="#ff0000"/><stop offset="0.3800" stop-color="#ff0700"/><stop offset="0.4000" stop-color="#ff0d00"/><stop offset="0.4200" stop-color="#ff1400"/><stop offset="0.4400" stop-color="#ff1d00"/><stop offset="0.4600" stop-color="#ff2600"/><stop offset="0.4800" stop-color="#ff2e00"/><stop offset="0.4999" stop-color="#ff3700"/><stop offset="0.5000" stop-color="#ff3700"/><stop offset="0.5001" stop-color="#ff3700"/><stop offset="0.5200" stop-color="#ff4000"/><stop offset="0.5400" stop-color="#ff4900"/><stop offset="0.5600" stop-color="#ff5200"/><stop offset="0.5800" stop-color="#ff5c00"/><stop offset="0.6000" stop-color="#ff6500"/><stop offset="0.6200" stop-color="#ff6f00"/><stop offset="0.6400" stop-color="#ff7900"/><stop offset="0.6600" stop-color="#ff8200"/><stop offset="0.6800" stop-color="#ff8c00"/><stop offset="0.7000" stop-color="#ff9600"/><stop offset="0.7200" stop-color="#ff9f00"/><stop offset="0.7400" stop-color="#ffa900"/><stop offset="0.7600" stop-color="#ffb200"/><stop offset="0.7800" stop-color="#ffbc00"/><stop offset="0.8000" stop-color="#ffc500"/><stop offset="0.8200" stop-color="#ffcf00"/><stop offset="0.8400" stop-color="#ffd800"/><stop offset="0.8600" stop-color="#ffe200"/><stop offset="0.8800" stop-color="#ffec00"/><stop offset="0.9000" stop-color="#fff900"/><stop offset="0.9080" stop-color="#fffe00"/><stop offset="0.9200" stop-color="#ffff00"/><stop offset="0.9400" stop-color="#ffff00"/><stop offset="0.9550" stop-color="#ffff00"/><stop offset="0.9600" stop-color="#ffff26"/><stop offset="0.9750" stop-color="#ffff96"/><stop offset="0.9800" stop-color="#ffffa7"/><stop offset="1.0000" stop-color="#ffffeb"/></linearGradient>
<linearGradient id="g1_1" gradientUnits="userSpaceOnUse" x1="0" y1="968.79" x2="0" y2="735.09"><stop offset="0.0000" stop-color="#0c0000"/><stop offset="0.0200" stop-color="#150000"/><stop offset="0.0400" stop-color="#1d0000"/><stop offset="0.0600" stop-color="#260000"/><stop offset="0.0800" stop-color="#320000"/><stop offset="0.1000" stop-color="#410000"/><stop offset="0.1200" stop-color="#4f0000"/><stop offset="0.1400" stop-color="#5e0000"/><stop offset="0.1600" stop-color="#6d0000"/><stop offset="0.1800" stop-color="#7d0000"/><stop offset="0.2000" stop-color="#8e0000"/><stop offset="0.2200" stop-color="#9f0000"/><stop offset="0.2400" stop-color="#b00000"/><stop offset="0.2600" stop-color="#c00000"/><stop offset="0.2800" stop-color="#cf0000"/><stop offset="0.3000" stop-color="#dd0000"/><stop offset="0.3200" stop-color="#ed0000"/><stop offset="0.3400" stop-color="#fd0000"/><stop offset="0.3430" stop-color="#ff0000"/><stop offset="0.3600" stop-color="#ff0000"/><stop offset="0.3800" stop-color="#ff0700"/><stop offset="0.4000" stop-color="#ff0d00"/><stop offset="0.4200" stop-color="#ff1400"/><stop offset="0.4400" stop-color="#ff1d00"/><stop offset="0.4600" stop-color="#ff2600"/><stop offset="0.4800" stop-color="#ff2e00"/><stop offset="0.4999" stop-color="#ff3700"/><stop offset="0.5000" stop-color="#ff3700"/><stop offset="0.5001" stop-color="#ff3700"/><stop offset="0.5200" stop-color="#ff4000"/><stop offset="0.5400" stop-color="#ff4900"/><stop offset="0.5600" stop-color="#ff5200"/><stop offset="0.5800" stop-color="#ff5c00"/><stop offset="0.6000" stop-color="#ff6500"/><stop offset="0.6200" stop-color="#ff6f00"/><stop offset="0.6400" stop-color="#ff7900"/><stop offset="0.6600" stop-color="#ff8200"/><stop offset="0.6800" stop-color="#ff8c00"/><stop offset="0.7000" stop-color="#ff9600"/><stop offset="0.7200" stop-color="#ff9f00"/><stop offset="0.7400" stop-color="#ffa900"/><stop offset="0.7600" stop-color="#ffb200"/><stop offset="0.7800" stop-color="#ffbc00"/><stop offset="0.8000" stop-color="#ffc500"/><stop offset="0.8200" stop-color="#ffcf00"/><stop offset="0.8400" stop-color="#ffd800"/><stop offset="0.8600" stop-color="#ffe200"/><stop offset="0.8800" stop-color="#ffec00"/><stop offset="0.9000" stop-color="#fff900"/><stop offset="0.9080" stop-color="#fffe00"/><stop offset="0.9200" stop-color="#ffff00"/><stop offset="0.9400" stop-color="#ffff00"/><stop offset="0.9550" stop-color="#ffff00"/><stop offset="0.9600" stop-color="#ffff26"/><stop offset="0.9750" stop-color="#ffff96"/><stop offset="0.9800" stop-color="#ffffa7"/><stop offset="1.0000" stop-color="#ffffeb"/></linearGradient>
<linearGradient id="g11_8" gradientUnits="userSpaceOnUse" x1="0" y1="973.03" x2="0" y2="739.33"><stop offset="0.0000" stop-color="#0c0000"/><stop offset="0.0200" stop-color="#150000"/><stop offset="0.0400" stop-color="#1d0000"/><stop offset="0.0600" stop-color="#260000"/><stop offset="0.0800" stop-color="#320000"/><stop offset="0.1000" stop-color="#410000"/><stop offset="0.1200" stop-color="#4f0000"/><stop offset="0.1400" stop-color="#5e0000"/><stop offset="0.1600" stop-color="#6d0000"/><stop offset="0.1800" stop-color="#7d0000"/><stop offset="0.2000" stop-color="#8e0000"/><stop offset="0.2200" stop-color="#9f0000"/><stop offset="0.2400" stop-color="#b00000"/><stop offset="0.2600" stop-color="#c00000"/><stop offset="0.2800" stop-color="#cf0000"/><stop offset="0.3000" stop-color="#dd0000"/><stop offset="0.3200" stop-color="#ed0000"/><stop offset="0.3400" stop-color="#fd0000"/><stop offset="0.3430" stop-color="#ff0000"/><stop offset="0.3600" stop-color="#ff0000"/><stop offset="0.3800" stop-color="#ff0700"/><stop offset="0.4000" stop-color="#ff0d00"/><stop offset="0.4200" stop-color="#ff1400"/><stop offset="0.4400" stop-color="#ff1d00"/><stop offset="0.4600" stop-color="#ff2600"/><stop offset="0.4800" stop-color="#ff2e00"/><stop offset="0.4999" stop-color="#ff3700"/><stop offset="0.5000" stop-color="#ff3700"/><stop offset="0.5001" stop-color="#ff3700"/><stop offset="0.5200" stop-color="#ff4000"/><stop offset="0.5400" stop-color="#ff4900"/><stop offset="0.5600" stop-color="#ff5200"/><stop offset="0.5800" stop-color="#ff5c00"/><stop offset="0.6000" stop-color="#ff6500"/><stop offset="0.6200" stop-color="#ff6f00"/><stop offset="0.6400" stop-color="#ff7900"/><stop offset="0.6600" stop-color="#ff8200"/><stop offset="0.6800" stop-color="#ff8c00"/><stop offset="0.7000" stop-color="#ff9600"/><stop offset="0.7200" stop-color="#ff9f00"/><stop offset="0.7400" stop-color="#ffa900"/><stop offset="0.7600" stop-color="#ffb200"/><stop offset="0.7800" stop-color="#ffbc00"/><stop offset="0.8000" stop-color="#ffc500"/><stop offset="0.8200" stop-color="#ffcf00"/><stop offset="0.8400" stop-color="#ffd800"/><stop offset="0.8600" stop-color="#ffe200"/><stop offset="0.8800" stop-color="#ffec00"/><stop offset="0.9000" stop-color="#fff900"/><stop offset="0.9080" stop-color="#fffe00"/><stop offset="0.9200" stop-color="#ffff00"/><stop offset="0.9400" stop-color="#ffff00"/><stop offset="0.9550" stop-color="#ffff00"/><stop offset="0.9600" stop-color="#ffff26"/><stop offset="0.9750" stop-color="#ffff96"/><stop offset="0.9800" stop-color="#ffffa7"/><stop offset="1.0000" stop-color="#ffffeb"/></linearGradient>
<linearGradient id="g2_2" gradientUnits="userSpaceOnUse" x1="0" y1="973.18" x2="0" y2="739.48"><stop offset="0.0000" stop-color="#0c0000"/><stop offset="0.0200" stop-color="#150000"/><stop offset="0.0400" stop-color="#1d0000"/><stop offset="0.0600" stop-color="#260000"/><stop offset="0.0800" stop-color="#320000"/><stop offset="0.1000" stop-color="#410000"/><stop offset="0.1200" stop-color="#4f0000"/><stop offset="0.1400" stop-color="#5e0000"/><stop offset="0.1600" stop-color="#6d0000"/><stop offset="0.1800" stop-color="#7d0000"/><stop offset="0.2000" stop-color="#8e0000"/><stop offset="0.2200" stop-color="#9f0000"/><stop offset="0.2400" stop-color="#b00000"/><stop offset="0.2600" stop-color="#c00000"/><stop offset="0.2800" stop-color="#cf0000"/><stop offset="0.3000" stop-color="#dd0000"/><stop offset="0.3200" stop-color="#ed0000"/><stop offset="0.3400" stop-color="#fd0000"/><stop offset="0.3430" stop-color="#ff0000"/><stop offset="0.3600" stop-color="#ff0000"/><stop offset="0.3800" stop-color="#ff0700"/><stop offset="0.4000" stop-color="#ff0d00"/><stop offset="0.4200" stop-color="#ff1400"/><stop offset="0.4400" stop-color="#ff1d00"/><stop offset="0.4600" stop-color="#ff2600"/><stop offset="0.4800" stop-color="#ff2e00"/><stop offset="0.4999" stop-color="#ff3700"/><stop offset="0.5000" stop-color="#ff3700"/><stop offset="0.5001" stop-color="#ff3700"/><stop offset="0.5200" stop-color="#ff4000"/><stop offset="0.5400" stop-color="#ff4900"/><stop offset="0.5600" stop-color="#ff5200"/><stop offset="0.5800" stop-color="#ff5c00"/><stop offset="0.6000" stop-color="#ff6500"/><stop offset="0.6200" stop-color="#ff6f00"/><stop offset="0.6400" stop-color="#ff7900"/><stop offset="0.6600" stop-color="#ff8200"/><stop offset="0.6800" stop-color="#ff8c00"/><stop offset="0.7000" stop-color="#ff9600"/><stop offset="0.7200" stop-color="#ff9f00"/><stop offset="0.7400" stop-color="#ffa900"/><stop offset="0.7600" stop-color="#ffb200"/><stop offset="0.7800" stop-color="#ffbc00"/><stop offset="0.8000" stop-color="#ffc500"/><stop offset="0.8200" stop-color="#ffcf00"/><stop offset="0.8400" stop-color="#ffd800"/><stop offset="0.8600" stop-color="#ffe200"/><stop offset="0.8800" stop-color="#ffec00"/><stop offset="0.9000" stop-color="#fff900"/><stop offset="0.9080" stop-color="#fffe00"/><stop offset="0.9200" stop-color="#ffff00"/><stop offset="0.9400" stop-color="#ffff00"/><stop offset="0.9550" stop-color="#ffff00"/><stop offset="0.9600" stop-color="#ffff26"/><stop offset="0.9750" stop-color="#ffff96"/><stop offset="0.9800" stop-color="#ffffa7"/><stop offset="1.0000" stop-color="#ffffeb"/></linearGradient>
<linearGradient id="g6_5" gradientUnits="userSpaceOnUse" x1="0" y1="977.52" x2="0" y2="743.82"><stop offset="0.0000" stop-color="#0c0000"/><stop offset="0.0200" stop-color="#150000"/><stop offset="0.0400" stop-color="#1d0000"/><stop offset="0.0600" stop-color="#260000"/><stop offset="0.0800" stop-color="#320000"/><stop offset="0.1000" stop-color="#410000"/><stop offset="0.1200" stop-color="#4f0000"/><stop offset="0.1400" stop-color="#5e0000"/><stop offset="0.1600" stop-color="#6d0000"/><stop offset="0.1800" stop-color="#7d0000"/><stop offset="0.2000" stop-color="#8e0000"/><stop offset="0.2200" stop-color="#9f0000"/><stop offset="0.2400" stop-color="#b00000"/><stop offset="0.2600" stop-color="#c00000"/><stop offset="0.2800" stop-color="#cf0000"/><stop offset="0.3000" stop-color="#dd0000"/><stop offset="0.3200" stop-color="#ed0000"/><stop offset="0.3400" stop-color="#fd0000"/><stop offset="0.3430" stop-color="#ff0000"/><stop offset="0.3600" stop-color="#ff0000"/><stop offset="0.3800" stop-color="#ff0700"/><stop offset="0.4000" stop-color="#ff0d00"/><stop offset="0.4200" stop-color="#ff1400"/><stop offset="0.4400" stop-color="#ff1d00"/><stop offset="0.4600" stop-color="#ff2600"/><stop offset="0.4800" stop-color="#ff2e00"/><stop offset="0.4999" stop-color="#ff3700"/><stop offset="0.5000" stop-color="#ff3700"/><stop offset="0.5001" stop-color="#ff3700"/><stop offset="0.5200" stop-color="#ff4000"/><stop offset="0.5400" stop-color="#ff4900"/><stop offset="0.5600" stop-color="#ff5200"/><stop offset="0.5800" stop-color="#ff5c00"/><stop offset="0.6000" stop-color="#ff6500"/><stop offset="0.6200" stop-color="#ff6f00"/><stop offset="0.6400" stop-color="#ff7900"/><stop offset="0.6600" stop-color="#ff8200"/><stop offset="0.6800" stop-color="#ff8c00"/><stop offset="0.7000" stop-color="#ff9600"/><stop offset="0.7200" stop-color="#ff9f00"/><stop offset="0.7400" stop-color="#ffa900"/><stop offset="0.7600" stop-color="#ffb200"/><stop offset="0.7800" stop-color="#ffbc00"/><stop offset="0.8000" stop-color="#ffc500"/><stop offset="0.8200" stop-color="#ffcf00"/><stop offset="0.8400" stop-color="#ffd800"/><stop offset="0.8600" stop-color="#ffe200"/><stop offset="0.8800" stop-color="#ffec00"/><stop offset="0.9000" stop-color="#fff900"/><stop offset="0.9080" stop-color="#fffe00"/><stop offset="0.9200" stop-color="#ffff00"/><stop offset="0.9400" stop-color="#ffff00"/><stop offset="0.9550" stop-color="#ffff00"/><stop offset="0.9600" stop-color="#ffff26"/><stop offset="0.9750" stop-color="#ffff96"/><stop offset="0.9800" stop-color="#ffffa7"/><stop offset="1.0000" stop-color="#ffffeb"/></linearGradient>
<linearGradient id="g3_3" gradientUnits="userSpaceOnUse" x1="0" y1="977.57" x2="0" y2="743.87"><stop offset="0.0000" stop-color="#0c0000"/><stop offset="0.0200" stop-color="#150000"/><stop offset="0.0400" stop-color="#1d0000"/><stop offset="0.0600" stop-color="#260000"/><stop offset="0.0800" stop-color="#320000"/><stop offset="0.1000" stop-color="#410000"/><stop offset="0.1200" stop-color="#4f0000"/><stop offset="0.1400" stop-color="#5e0000"/><stop offset="0.1600" stop-color="#6d0000"/><stop offset="0.1800" stop-color="#7d0000"/><stop offset="0.2000" stop-color="#8e0000"/><stop offset="0.2200" stop-color="#9f0000"/><stop offset="0.2400" stop-color="#b00000"/><stop offset="0.2600" stop-color="#c00000"/><stop offset="0.2800" stop-color="#cf0000"/><stop offset="0.3000" stop-color="#dd0000"/><stop offset="0.3200" stop-color="#ed0000"/><stop offset="0.3400" stop-color="#fd0000"/><stop offset="0.3430" stop-color="#ff0000"/><stop offset="0.3600" stop-color="#ff0000"/><stop offset="0.3800" stop-color="#ff0700"/><stop offset="0.4000" stop-color="#ff0d00"/><stop offset="0.4200" stop-color="#ff1400"/><stop offset="0.4400" stop-color="#ff1d00"/><stop offset="0.4600" stop-color="#ff2600"/><stop offset="0.4800" stop-color="#ff2e00"/><stop offset="0.4999" stop-color="#ff3700"/><stop offset="0.5000" stop-color="#ff3700"/><stop offset="0.5001" stop-color="#ff3700"/><stop offset="0.5200" stop-color="#ff4000"/><stop offset="0.5400" stop-color="#ff4900"/><stop offset="0.5600" stop-color="#ff5200"/><stop offset="0.5800" stop-color="#ff5c00"/><stop offset="0.6000" stop-color="#ff6500"/><stop offset="0.6200" stop-color="#ff6f00"/><stop offset="0.6400" stop-color="#ff7900"/><stop offset="0.6600" stop-color="#ff8200"/><stop offset="0.6800" stop-color="#ff8c00"/><stop offset="0.7000" stop-color="#ff9600"/><stop offset="0.7200" stop-color="#ff9f00"/><stop offset="0.7400" stop-color="#ffa900"/><stop offset="0.7600" stop-color="#ffb200"/><stop offset="0.7800" stop-color="#ffbc00"/><stop offset="0.8000" stop-color="#ffc500"/><stop offset="0.8200" stop-color="#ffcf00"/><stop offset="0.8400" stop-color="#ffd800"/><stop offset="0.8600" stop-color="#ffe200"/><stop offset="0.8800" stop-color="#ffec00"/><stop offset="0.9000" stop-color="#fff900"/><stop offset="0.9080" stop-color="#fffe00"/><stop offset="0.9200" stop-color="#ffff00"/><stop offset="0.9400" stop-color="#ffff00"/><stop offset="0.9550" stop-color="#ffff00"/><stop offset="0.9600" stop-color="#ffff26"/><stop offset="0.9750" stop-color="#ffff96"/><stop offset="0.9800" stop-color="#ffffa7"/><stop offset="1.0000" stop-color="#ffffeb"/></linearGradient>
<linearGradient id="g4_4" gradientUnits="userSpaceOnUse" x1="0" y1="981.96" x2="0" y2="748.26"><stop offset="0.0000" stop-color="#0c0000"/><stop offset="0.0200" stop-color="#150000"/><stop offset="0.0400" stop-color="#1d0000"/><stop offset="0.0600" stop-color="#260000"/><stop offset="0.0800" stop-color="#320000"/><stop offset="0.1000" stop-color="#410000"/><stop offset="0.1200" stop-color="#4f0000"/><stop offset="0.1400" stop-color="#5e0000"/><stop offset="0.1600" stop-color="#6d0000"/><stop offset="0.1800" stop-color="#7d0000"/><stop offset="0.2000" stop-color="#8e0000"/><stop offset="0.2200" stop-color="#9f0000"/><stop offset="0.2400" stop-color="#b00000"/><stop offset="0.2600" stop-color="#c00000"/><stop offset="0.2800" stop-color="#cf0000"/><stop offset="0.3000" stop-color="#dd0000"/><stop offset="0.3200" stop-color="#ed0000"/><stop offset="0.3400" stop-color="#fd0000"/><stop offset="0.3430" stop-color="#ff0000"/><stop offset="0.3600" stop-color="#ff0000"/><stop offset="0.3800" stop-color="#ff0700"/><stop offset="0.4000" stop-color="#ff0d00"/><stop offset="0.4200" stop-color="#ff1400"/><stop offset="0.4400" stop-color="#ff1d00"/><stop offset="0.4600" stop-color="#ff2600"/><stop offset="0.4800" stop-color="#ff2e00"/><stop offset="0.4999" stop-color="#ff3700"/><stop offset="0.5000" stop-color="#ff3700"/><stop offset="0.5001" stop-color="#ff3700"/><stop offset="0.5200" stop-color="#ff4000"/><stop offset="0.5400" stop-color="#ff4900"/><stop offset="0.5600" stop-color="#ff5200"/><stop offset="0.5800" stop-color="#ff5c00"/><stop offset="0.6000" stop-color="#ff6500"/><stop offset="0.6200" stop-color="#ff6f00"/><stop offset="0.6400" stop-color="#ff7900"/><stop offset="0.6600" stop-color="#ff8200"/><stop offset="0.6800" stop-color="#ff8c00"/><stop offset="0.7000" stop-color="#ff9600"/><stop offset="0.7200" stop-color="#ff9f00"/><stop offset="0.7400" stop-color="#ffa900"/><stop offset="0.7600" stop-color="#ffb200"/><stop offset="0.7800" stop-color="#ffbc00"/><stop offset="0.8000" stop-color="#ffc500"/><stop offset="0.8200" stop-color="#ffcf00"/><stop offset="0.8400" stop-color="#ffd800"/><stop offset="0.8600" stop-color="#ffe200"/><stop offset="0.8800" stop-color="#ffec00"/><stop offset="0.9000" stop-color="#fff900"/><stop offset="0.9080" stop-color="#fffe00"/><stop offset="0.9200" stop-color="#ffff00"/><stop offset="0.9400" stop-color="#ffff00"/><stop offset="0.9550" stop-color="#ffff00"/><stop offset="0.9600" stop-color="#ffff26"/><stop offset="0.9750" stop-color="#ffff96"/><stop offset="0.9800" stop-color="#ffffa7"/><stop offset="1.0000" stop-color="#ffffeb"/></linearGradient>
<linearGradient id="g1_2" gradientUnits="userSpaceOnUse" x1="0" y1="982.01" x2="0" y2="748.31"><stop offset="0.0000" stop-color="#0c0000"/><stop offset="0.0200" stop-color="#150000"/><stop offset="0.0400" stop-color="#1d0000"/><stop offset="0.0600" stop-color="#260000"/><stop offset="0.0800" stop-color="#320000"/><stop offset="0.1000" stop-color="#410000"/><stop offset="0.1200" stop-color="#4f0000"/><stop offset="0.1400" stop-color="#5e0000"/><stop offset="0.1600" stop-color="#6d0000"/><stop offset="0.1800" stop-color="#7d0000"/><stop offset="0.2000" stop-color="#8e0000"/><stop offset="0.2200" stop-color="#9f0000"/><stop offset="0.2400" stop-color="#b00000"/><stop offset="0.2600" stop-color="#c00000"/><stop offset="0.2800" stop-color="#cf0000"/><stop offset="0.3000" stop-color="#dd0000"/><stop offset="0.3200" stop-color="#ed0000"/><stop offset="0.3400" stop-color="#fd0000"/><stop offset="0.3430" stop-color="#ff0000"/><stop offset="0.3600" stop-color="#ff0000"/><stop offset="0.3800" stop-color="#ff0700"/><stop offset="0.4000" stop-color="#ff0d00"/><stop offset="0.4200" stop-color="#ff1400"/><stop offset="0.4400" stop-color="#ff1d00"/><stop offset="0.4600" stop-color="#ff2600"/><stop offset="0.4800" stop-color="#ff2e00"/><stop offset="0.4999" stop-color="#ff3700"/><stop offset="0.5000" stop-color="#ff3700"/><stop offset="0.5001" stop-color="#ff3700"/><stop offset="0.5200" stop-color="#ff4000"/><stop offset="0.5400" stop-color="#ff4900"/><stop offset="0.5600" stop-color="#ff5200"/><stop offset="0.5800" stop-color="#ff5c00"/><stop offset="0.6000" stop-color="#ff6500"/><stop offset="0.6200" stop-color="#ff6f00"/><stop offset="0.6400" stop-color="#ff7900"/><stop offset="0.6600" stop-color="#ff8200"/><stop offset="0.6800" stop-color="#ff8c00"/><stop offset="0.7000" stop-color="#ff9600"/><stop offset="0.7200" stop-color="#ff9f00"/><stop offset="0.7400" stop-color="#ffa900"/><stop offset="0.7600" stop-color="#ffb200"/><stop offset="0.7800" stop-color="#ffbc00"/><stop offset="0.8000" stop-color="#ffc500"/><stop offset="0.8200" stop-color="#ffcf00"/><stop offset="0.8400" stop-color="#ffd800"/><stop offset="0.8600" stop-color="#ffe200"/><stop offset="0.8800" stop-color="#ffec00"/><stop offset="0.9000" stop-color="#fff900"/><stop offset="0.9080" stop-color="#fffe00"/><stop offset="0.9200" stop-color="#ffff00"/><stop offset="0.9400" stop-color="#ffff00"/><stop offset="0.9550" stop-color="#ffff00"/><stop offset="0.9600" stop-color="#ffff26"/><stop offset="0.9750" stop-color="#ffff96"/><stop offset="0.9800" stop-color="#ffffa7"/><stop offset="1.0000" stop-color="#ffffeb"/></linearGradient>
<linearGradient id="g8_7" gradientUnits="userSpaceOnUse" x1="0" y1="986.30" x2="0" y2="752.60"><stop offset="0.0000" stop-color="#0c0000"/><stop offset="0.0200" stop-color="#150000"/><stop offset="0.0400" stop-color="#1d0000"/><stop offset="0.0600" stop-color="#260000"/><stop offset="0.0800" stop-color="#320000"/><stop offset="0.1000" stop-color="#410000"/><stop offset="0.1200" stop-color="#4f0000"/><stop offset="0.1400" stop-color="#5e0000"/><stop offset="0.1600" stop-color="#6d0000"/><stop offset="0.1800" stop-color="#7d0000"/><stop offset="0.2000" stop-color="#8e0000"/><stop offset="0.2200" stop-color="#9f0000"/><stop offset="0.2400" stop-color="#b00000"/><stop offset="0.2600" stop-color="#c00000"/><stop offset="0.2800" stop-color="#cf0000"/><stop offset="0.3000" stop-color="#dd0000"/><stop offset="0.3200" stop-color="#ed0000"/><stop offset="0.3400" stop-color="#fd0000"/><stop offset="0.3430" stop-color="#ff0000"/><stop offset="0.3600" stop-color="#ff0000"/><stop offset="0.3800" stop-color="#ff0700"/><stop offset="0.4000" stop-color="#ff0d00"/><stop offset="0.4200" stop-color="#ff1400"/><stop offset="0.4400" stop-color="#ff1d00"/><stop offset="0.4600" stop-color="#ff2600"/><stop offset="0.4800" stop-color="#ff2e00"/><stop offset="0.4999" stop-color="#ff3700"/><stop offset="0.5000" stop-color="#ff3700"/><stop offset="0.5001" stop-color="#ff3700"/><stop offset="0.5200" stop-color="#ff4000"/><stop offset="0.5400" stop-color="#ff4900"/><stop offset="0.5600" stop-color="#ff5200"/><stop offset="0.5800" stop-color="#ff5c00"/><stop offset="0.6000" stop-color="#ff6500"/><stop offset="0.6200" stop-color="#ff6f00"/><stop offset="0.6400" stop-color="#ff7900"/><stop offset="0.6600" stop-color="#ff8200"/><stop offset="0.6800" stop-color="#ff8c00"/><stop offset="0.7000" stop-color="#ff9600"/><stop offset="0.7200" stop-color="#ff9f00"/><stop offset="0.7400" stop-color="#ffa900"/><stop offset="0.7600" stop-color="#ffb200"/><stop offset="0.7800" stop-color="#ffbc00"/><stop offset="0.8000" stop-color="#ffc500"/><stop offset="0.8200" stop-color="#ffcf00"/><stop offset="0.8400" stop-color="#ffd800"/><stop offset="0.8600" stop-color="#ffe200"/><stop offset="0.8800" stop-color="#ffec00"/><stop offset="0.9000" stop-color="#fff900"/><stop offset="0.9080" stop-color="#fffe00"/><stop offset="0.9200" stop-color="#ffff00"/><stop offset="0.9400" stop-color="#ffff00"/><stop offset="0.9550" stop-color="#ffff00"/><stop offset="0.9600" stop-color="#ffff26"/><stop offset="0.9750" stop-color="#ffff96"/><stop offset="0.9800" stop-color="#ffffa7"/><stop offset="1.0000" stop-color="#ffffeb"/></linearGradient>
<linearGradient id="g5_5" gradientUnits="userSpaceOnUse" x1="0" y1="986.35" x2="0" y2="752.65"><stop offset="0.0000" stop-color="#0c0000"/><stop offset="0.0200" stop-color="#150000"/><stop offset="0.0400" stop-color="#1d0000"/><stop offset="0.0600" stop-color="#260000"/><stop offset="0.0800" stop-color="#320000"/><stop offset="0.1000" stop-color="#410000"/><stop offset="0.1200" stop-color="#4f0000"/><stop offset="0.1400" stop-color="#5e0000"/><stop offset="0.1600" stop-color="#6d0000"/><stop offset="0.1800" stop-color="#7d0000"/><stop offset="0.2000" stop-color="#8e0000"/><stop offset="0.2200" stop-color="#9f0000"/><stop offset="0.2400" stop-color="#b00000"/><stop offset="0.2600" stop-color="#c00000"/><stop offset="0.2800" stop-color="#cf0000"/><stop offset="0.3000" stop-color="#dd0000"/><stop offset="0.3200" stop-color="#ed0000"/><stop offset="0.3400" stop-color="#fd0000"/><stop offset="0.3430" stop-color="#ff0000"/><stop offset="0.3600" stop-color="#ff0000"/><stop offset="0.3800" stop-color="#ff0700"/><stop offset="0.4000" stop-color="#ff0d00"/><stop offset="0.4200" stop-color="#ff1400"/><stop offset="0.4400" stop-color="#ff1d00"/><stop offset="0.4600" stop-color="#ff2600"/><stop offset="0.4800" stop-color="#ff2e00"/><stop offset="0.4999" stop-color="#ff3700"/><stop offset="0.5000" stop-color="#ff3700"/><stop offset="0.5001" stop-color="#ff3700"/><stop offset="0.5200" stop-color="#ff4000"/><stop offset="0.5400" stop-color="#ff4900"/><stop offset="0.5600" stop-color="#ff5200"/><stop offset="0.5800" stop-color="#ff5c00"/><stop offset="0.6000" stop-color="#ff6500"/><stop offset="0.6200" stop-color="#ff6f00"/><stop offset="0.6400" stop-color="#ff7900"/><stop offset="0.6600" stop-color="#ff8200"/><stop offset="0.6800" stop-color="#ff8c00"/><stop offset="0.7000" stop-color="#ff9600"/><stop offset="0.7200" stop-color="#ff9f00"/><stop offset="0.7400" stop-color="#ffa900"/><stop offset="0.7600" stop-color="#ffb200"/><stop offset="0.7800" stop-color="#ffbc00"/><stop offset="0.8000" stop-color="#ffc500"/><stop offset="0.8200" stop-color="#ffcf00"/><stop offset="0.8400" stop-color="#ffd800"/><stop offset="0.8600" stop-color="#ffe200"/><stop offset="0.8800" stop-color="#ffec00"/><stop offset="0.9000" stop-color="#fff900"/><stop offset="0.9080" stop-color="#fffe00"/><stop offset="0.9200" stop-color="#ffff00"/><stop offset="0.9400" stop-color="#ffff00"/><stop offset="0.9550" stop-color="#ffff00"/><stop offset="0.9600" stop-color="#ffff26"/><stop offset="0.9750" stop-color="#ffff96"/><stop offset="0.9800" stop-color="#ffffa7"/><stop offset="1.0000" stop-color="#ffffeb"/></linearGradient>
<linearGradient id="g6_6" gradientUnits="userSpaceOnUse" x1="0" y1="990.74" x2="0" y2="757.04"><stop offset="0.0000" stop-color="#0c0000"/><stop offset="0.0200" stop-color="#150000"/><stop offset="0.0400" stop-color="#1d0000"/><stop offset="0.0600" stop-color="#260000"/><stop offset="0.0800" stop-color="#320000"/><stop offset="0.1000" stop-color="#410000"/><stop offset="0.1200" stop-color="#4f0000"/><stop offset="0.1400" stop-color="#5e0000"/><stop offset="0.1600" stop-color="#6d0000"/><stop offset="0.1800" stop-color="#7d0000"/><stop offset="0.2000" stop-color="#8e0000"/><stop offset="0.2200" stop-color="#9f0000"/><stop offset="0.2400" stop-color="#b00000"/><stop offset="0.2600" stop-color="#c00000"/><stop offset="0.2800" stop-color="#cf0000"/><stop offset="0.3000" stop-color="#dd0000"/><stop offset="0.3200" stop-color="#ed0000"/><stop offset="0.3400" stop-color="#fd0000"/><stop offset="0.3430" stop-color="#ff0000"/><stop offset="0.3600" stop-color="#ff0000"/><stop offset="0.3800" stop-color="#ff0700"/><stop offset="0.4000" stop-color="#ff0d00"/><stop offset="0.4200" stop-color="#ff1400"/><stop offset="0.4400" stop-color="#ff1d00"/><stop offset="0.4600" stop-color="#ff2600"/><stop offset="0.4800" stop-color="#ff2e00"/><stop offset="0.4999" stop-color="#ff3700"/><stop offset="0.5000" stop-color="#ff3700"/><stop offset="0.5001" stop-color="#ff3700"/><stop offset="0.5200" stop-color="#ff4000"/><stop offset="0.5400" stop-color="#ff4900"/><stop offset="0.5600" stop-color="#ff5200"/><stop offset="0.5800" stop-color="#ff5c00"/><stop offset="0.6000" stop-color="#ff6500"/><stop offset="0.6200" stop-color="#ff6f00"/><stop offset="0.6400" stop-color="#ff7900"/><stop offset="0.6600" stop-color="#ff8200"/><stop offset="0.6800" stop-color="#ff8c00"/><stop offset="0.7000" stop-color="#ff9600"/><stop offset="0.7200" stop-color="#ff9f00"/><stop offset="0.7400" stop-color="#ffa900"/><stop offset="0.7600" stop-color="#ffb200"/><stop offset="0.7800" stop-color="#ffbc00"/><stop offset="0.8000" stop-color="#ffc500"/><stop offset="0.8200" stop-color="#ffcf00"/><stop offset="0.8400" stop-color="#ffd800"/><stop offset="0.8600" stop-color="#ffe200"/><stop offset="0.8800" stop-color="#ffec00"/><stop offset="0.9000" stop-color="#fff900"/><stop offset="0.9080" stop-color="#fffe00"/><stop offset="0.9200" stop-color="#ffff00"/><stop offset="0.9400" stop-color="#ffff00"/><stop offset="0.9550" stop-color="#ffff00"/><stop offset="0.9600" stop-color="#ffff26"/><stop offset="0.9750" stop-color="#ffff96"/><stop offset="0.9800" stop-color="#ffffa7"/><stop offset="1.0000" stop-color="#ffffeb"/></linearGradient>
<linearGradient id="g3_4" gradientUnits="userSpaceOnUse" x1="0" y1="990.79" x2="0" y2="757.09"><stop offset="0.0000" stop-color="#0c0000"/><stop offset="0.0200" stop-color="#150000"/><stop offset="0.0400" stop-color="#1d0000"/><stop offset="0.0600" stop-color="#260000"/><stop offset="0.0800" stop-color="#320000"/><stop offset="0.1000" stop-color="#410000"/><stop offset="0.1200" stop-color="#4f0000"/><stop offset="0.1400" stop-color="#5e0000"/><stop offset="0.1600" stop-color="#6d0000"/><stop offset="0.1800" stop-color="#7d0000"/><stop offset="0.2000" stop-color="#8e0000"/><stop offset="0.2200" stop-color="#9f0000"/><stop offset="0.2400" stop-color="#b00000"/><stop offset="0.2600" stop-color="#c00000"/><stop offset="0.2800" stop-color="#cf0000"/><stop offset="0.3000" stop-color="#dd0000"/><stop offset="0.3200" stop-color="#ed0000"/><stop offset="0.3400" stop-color="#fd0000"/><stop offset="0.3430" stop-color="#ff0000"/><stop offset="0.3600" stop-color="#ff0000"/><stop offset="0.3800" stop-color="#ff0700"/><stop offset="0.4000" stop-color="#ff0d00"/><stop offset="0.4200" stop-color="#ff1400"/><stop offset="0.4400" stop-color="#ff1d00"/><stop offset="0.4600" stop-color="#ff2600"/><stop offset="0.4800" stop-color="#ff2e00"/><stop offset="0.4999" stop-color="#ff3700"/><stop offset="0.5000" stop-color="#ff3700"/><stop offset="0.5001" stop-color="#ff3700"/><stop offset="0.5200" stop-color="#ff4000"/><stop offset="0.5400" stop-color="#ff4900"/><stop offset="0.5600" stop-color="#ff5200"/><stop offset="0.5800" stop-color="#ff5c00"/><stop offset="0.6000" stop-color="#ff6500"/><stop offset="0.6200" stop-color="#ff6f00"/><stop offset="0.6400" stop-color="#ff7900"/><stop offset="0.6600" stop-color="#ff8200"/><stop offset="0.6800" stop-color="#ff8c00"/><stop offset="0.7000" stop-color="#ff9600"/><stop offset="0.7200" stop-color="#ff9f00"/><stop offset="0.7400" stop-color="#ffa900"/><stop offset="0.7600" stop-color="#ffb200"/><stop offset="0.7800" stop-color="#ffbc00"/><stop offset="0.8000" stop-color="#ffc500"/><stop offset="0.8200" stop-color="#ffcf00"/><stop offset="0.8400" stop-color="#ffd800"/><stop offset="0.8600" stop-color="#ffe200"/><stop offset="0.8800" stop-color="#ffec00"/><stop offset="0.9000" stop-color="#fff900"/><stop offset="0.9080" stop-color="#fffe00"/><stop offset="0.9200" stop-color="#ffff00"/><stop offset="0.9400" stop-color="#ffff00"/><stop offset="0.9550" stop-color="#ffff00"/><stop offset="0.9600" stop-color="#ffff26"/><stop offset="0.9750" stop-color="#ffff96"/><stop offset="0.9800" stop-color="#ffffa7"/><stop offset="1.0000" stop-color="#ffffeb"/></linearGradient>
<linearGradient id="g10_9" gradientUnits="userSpaceOnUse" x1="0" y1="995.08" x2="0" y2="761.38"><stop offset="0.0000" stop-color="#0c0000"/><stop offset="0.0200" stop-color="#150000"/><stop offset="0.0400" stop-color="#1d0000"/><stop offset="0.0600" stop-color="#260000"/><stop offset="0.0800" stop-color="#320000"/><stop offset="0.1000" stop-color="#410000"/><stop offset="0.1200" stop-color="#4f0000"/><stop offset="0.1400" stop-color="#5e0000"/><stop offset="0.1600" stop-color="#6d0000"/><stop offset="0.1800" stop-color="#7d0000"/><stop offset="0.2000" stop-color="#8e0000"/><stop offset="0.2200" stop-color="#9f0000"/><stop offset="0.2400" stop-color="#b00000"/><stop offset="0.2600" stop-color="#c00000"/><stop offset="0.2800" stop-color="#cf0000"/><stop offset="0.3000" stop-color="#dd0000"/><stop offset="0.3200" stop-color="#ed0000"/><stop offset="0.3400" stop-color="#fd0000"/><stop offset="0.3430" stop-color="#ff0000"/><stop offset="0.3600" stop-color="#ff0000"/><stop offset="0.3800" stop-color="#ff0700"/><stop offset="0.4000" stop-color="#ff0d00"/><stop offset="0.4200" stop-color="#ff1400"/><stop offset="0.4400" stop-color="#ff1d00"/><stop offset="0.4600" stop-color="#ff2600"/><stop offset="0.4800" stop-color="#ff2e00"/><stop offset="0.4999" stop-color="#ff3700"/><stop offset="0.5000" stop-color="#ff3700"/><stop offset="0.5001" stop-color="#ff3700"/><stop offset="0.5200" stop-color="#ff4000"/><stop offset="0.5400" stop-color="#ff4900"/><stop offset="0.5600" stop-color="#ff5200"/><stop offset="0.5800" stop-color="#ff5c00"/><stop offset="0.6000" stop-color="#ff6500"/><stop offset="0.6200" stop-color="#ff6f00"/><stop offset="0.6400" stop-color="#ff7900"/><stop offset="0.6600" stop-color="#ff8200"/><stop offset="0.6800" stop-color="#ff8c00"/><stop offset="0.7000" stop-color="#ff9600"/><stop offset="0.7200" stop-color="#ff9f00"/><stop offset="0.7400" stop-color="#ffa900"/><stop offset="0.7600" stop-color="#ffb200"/><stop offset="0.7800" stop-color="#ffbc00"/><stop offset="0.8000" stop-color="#ffc500"/><stop offset="0.8200" stop-color="#ffcf00"/><stop offset="0.8400" stop-color="#ffd800"/><stop offset="0.8600" stop-color="#ffe200"/><stop offset="0.8800" stop-color="#ffec00"/><stop offset="0.9000" stop-color="#fff900"/><stop offset="0.9080" stop-color="#fffe00"/><stop offset="0.9200" stop-color="#ffff00"/><stop offset="0.9400" stop-color="#ffff00"/><stop offset="0.9550" stop-color="#ffff00"/><stop offset="0.9600" stop-color="#ffff26"/><stop offset="0.9750" stop-color="#ffff96"/><stop offset="0.9800" stop-color="#ffffa7"/><stop offset="1.0000" stop-color="#ffffeb"/></linearGradient>
<linearGradient id="g7_7" gradientUnits="userSpaceOnUse" x1="0" y1="995.13" x2="0" y2="761.43"><stop offset="0.0000" stop-color="#0c0000"/><stop offset="0.0200" stop-color="#150000"/><stop offset="0.0400" stop-color="#1d0000"/><stop offset="0.0600" stop-color="#260000"/><stop offset="0.0800" stop-color="#320000"/><stop offset="0.1000" stop-color="#410000"/><stop offset="0.1200" stop-color="#4f0000"/><stop offset="0.1400" stop-color="#5e0000"/><stop offset="0.1600" stop-color="#6d0000"/><stop offset="0.1800" stop-color="#7d0000"/><stop offset="0.2000" stop-color="#8e0000"/><stop offset="0.2200" stop-color="#9f0000"/><stop offset="0.2400" stop-color="#b00000"/><stop offset="0.2600" stop-color="#c00000"/><stop offset="0.2800" stop-color="#cf0000"/><stop offset="0.3000" stop-color="#dd0000"/><stop offset="0.3200" stop-color="#ed0000"/><stop offset="0.3400" stop-color="#fd0000"/><stop offset="0.3430" stop-color="#ff0000"/><stop offset="0.3600" stop-color="#ff0000"/><stop offset="0.3800" stop-color="#ff0700"/><stop offset="0.4000" stop-color="#ff0d00"/><stop offset="0.4200" stop-color="#ff1400"/><stop offset="0.4400" stop-color="#ff1d00"/><stop offset="0.4600" stop-color="#ff2600"/><stop offset="0.4800" stop-color="#ff2e00"/><stop offset="0.4999" stop-color="#ff3700"/><stop offset="0.5000" stop-color="#ff3700"/><stop offset="0.5001" stop-color="#ff3700"/><stop offset="0.5200" stop-color="#ff4000"/><stop offset="0.5400" stop-color="#ff4900"/><stop offset="0.5600" stop-color="#ff5200"/><stop offset="0.5800" stop-color="#ff5c00"/><stop offset="0.6000" stop-color="#ff6500"/><stop offset="0.6200" stop-color="#ff6f00"/><stop offset="0.6400" stop-color="#ff7900"/><stop offset="0.6600" stop-color="#ff8200"/><stop offset="0.6800" stop-color="#ff8c00"/><stop offset="0.7000" stop-color="#ff9600"/><stop offset="0.7200" stop-color="#ff9f00"/><stop offset="0.7400" stop-color="#ffa900"/><stop offset="0.7600" stop-color="#ffb200"/><stop offset="0.7800" stop-color="#ffbc00"/><stop offset="0.8000" stop-color="#ffc500"/><stop offset="0.8200" stop-color="#ffcf00"/><stop offset="0.8400" stop-color="#ffd800"/><stop offset="0.8600" stop-color="#ffe200"/><stop offset="0.8800" stop-color="#ffec00"/><stop offset="0.9000" stop-color="#fff900"/><stop offset="0.9080" stop-color="#fffe00"/><stop offset="0.9200" stop-color="#ffff00"/><stop offset="0.9400" stop-color="#ffff00"/><stop offset="0.9550" stop-color="#ffff00"/><stop offset="0.9600" stop-color="#ffff26"/><stop offset="0.9750" stop-color="#ffff96"/><stop offset="0.9800" stop-color="#ffffa7"/><stop offset="1.0000" stop-color="#ffffeb"/></linearGradient>
<linearGradient id="g8_8" gradientUnits="userSpaceOnUse" x1="0" y1="999.52" x2="0" y2="765.82"><stop offset="0.0000" stop-color="#0c0000"/><stop offset="0.0200" stop-color="#150000"/><stop offset="0.0400" stop-color="#1d0000"/><stop offset="0.0600" stop-color="#260000"/><stop offset="0.0800" stop-color="#320000"/><stop offset="0.1000" stop-color="#410000"/><stop offset="0.1200" stop-color="#4f0000"/><stop offset="0.1400" stop-color="#5e0000"/><stop offset="0.1600" stop-color="#6d0000"/><stop offset="0.1800" stop-color="#7d0000"/><stop offset="0.2000" stop-color="#8e0000"/><stop offset="0.2200" stop-color="#9f0000"/><stop offset="0.2400" stop-color="#b00000"/><stop offset="0.2600" stop-color="#c00000"/><stop offset="0.2800" stop-color="#cf0000"/><stop offset="0.3000" stop-color="#dd0000"/><stop offset="0.3200" stop-color="#ed0000"/><stop offset="0.3400" stop-color="#fd0000"/><stop offset="0.3430" stop-color="#ff0000"/><stop offset="0.3600" stop-color="#ff0000"/><stop offset="0.3800" stop-color="#ff0700"/><stop offset="0.4000" stop-color="#ff0d00"/><stop offset="0.4200" stop-color="#ff1400"/><stop offset="0.4400" stop-color="#ff1d00"/><stop offset="0.4600" stop-color="#ff2600"/><stop offset="0.4800" stop-color="#ff2e00"/><stop offset="0.4999" stop-color="#ff3700"/><stop offset="0.5000" stop-color="#ff3700"/><stop offset="0.5001" stop-color="#ff3700"/><stop offset="0.5200" stop-color="#ff4000"/><stop offset="0.5400" stop-color="#ff4900"/><stop offset="0.5600" stop-color="#ff5200"/><stop offset="0.5800" stop-color="#ff5c00"/><stop offset="0.6000" stop-color="#ff6500"/><stop offset="0.6200" stop-color="#ff6f00"/><stop offset="0.6400" stop-color="#ff7900"/><stop offset="0.6600" stop-color="#ff8200"/><stop offset="0.6800" stop-color="#ff8c00"/><stop offset="0.7000" stop-color="#ff9600"/><stop offset="0.7200" stop-color="#ff9f00"/><stop offset="0.7400" stop-color="#ffa900"/><stop offset="0.7600" stop-color="#ffb200"/><stop offset="0.7800" stop-color="#ffbc00"/><stop offset="0.8000" stop-color="#ffc500"/><stop offset="0.8200" stop-color="#ffcf00"/><stop offset="0.8400" stop-color="#ffd800"/><stop offset="0.8600" stop-color="#ffe200"/><stop offset="0.8800" stop-color="#ffec00"/><stop offset="0.9000" stop-color="#fff900"/><stop offset="0.9080" stop-color="#fffe00"/><stop offset="0.9200" stop-color="#ffff00"/><stop offset="0.9400" stop-color="#ffff00"/><stop offset="0.9550" stop-color="#ffff00"/><stop offset="0.9600" stop-color="#ffff26"/><stop offset="0.9750" stop-color="#ffff96"/><stop offset="0.9800" stop-color="#ffffa7"/><stop offset="1.0000" stop-color="#ffffeb"/></linearGradient>
<linearGradient id="g5_6" gradientUnits="userSpaceOnUse" x1="0" y1="999.57" x2="0" y2="765.87"><stop offset="0.0000" stop-color="#0c0000"/><stop offset="0.0200" stop-color="#150000"/><stop offset="0.0400" stop-color="#1d0000"/><stop offset="0.0600" stop-color="#260000"/><stop offset="0.0800" stop-color="#320000"/><stop offset="0.1000" stop-color="#410000"/><stop offset="0.1200" stop-color="#4f0000"/><stop offset="0.1400" stop-color="#5e0000"/><stop offset="0.1600" stop-color="#6d0000"/><stop offset="0.1800" stop-color="#7d0000"/><stop offset="0.2000" stop-color="#8e0000"/><stop offset="0.2200" stop-color="#9f0000"/><stop offset="0.2400" stop-color="#b00000"/><stop offset="0.2600" stop-color="#c00000"/><stop offset="0.2800" stop-color="#cf0000"/><stop offset="0.3000" stop-color="#dd0000"/><stop offset="0.3200" stop-color="#ed0000"/><stop offset="0.3400" stop-color="#fd0000"/><stop offset="0.3430" stop-color="#ff0000"/><stop offset="0.3600" stop-color="#ff0000"/><stop offset="0.3800" stop-color="#ff0700"/><stop offset="0.4000" stop-color="#ff0d00"/><stop offset="0.4200" stop-color="#ff1400"/><stop offset="0.4400" stop-color="#ff1d00"/><stop offset="0.4600" stop-color="#ff2600"/><stop offset="0.4800" stop-color="#ff2e00"/><stop offset="0.4999" stop-color="#ff3700"/><stop offset="0.5000" stop-color="#ff3700"/><stop offset="0.5001" stop-color="#ff3700"/><stop offset="0.5200" stop-color="#ff4000"/><stop offset="0.5400" stop-color="#ff4900"/><stop offset="0.5600" stop-color="#ff5200"/><stop offset="0.5800" stop-color="#ff5c00"/><stop offset="0.6000" stop-color="#ff6500"/><stop offset="0.6200" stop-color="#ff6f00"/><stop offset="0.6400" stop-color="#ff7900"/><stop offset="0.6600" stop-color="#ff8200"/><stop offset="0.6800" stop-color="#ff8c00"/><stop offset="0.7000" stop-color="#ff9600"/><stop offset="0.7200" stop-color="#ff9f00"/><stop offset="0.7400" stop-color="#ffa900"/><stop offset="0.7600" stop-color="#ffb200"/><stop offset="0.7800" stop-color="#ffbc00"/><stop offset="0.8000" stop-color="#ffc500"/><stop offset="0.8200" stop-color="#ffcf00"/><stop offset="0.8400" stop-color="#ffd800"/><stop offset="0.8600" stop-color="#ffe200"/><stop offset="0.8800" stop-color="#ffec00"/><stop offset="0.9000" stop-color="#fff900"/><stop offset="0.9080" stop-color="#fffe00"/><stop offset="0.9200" stop-color="#ffff00"/><stop offset="0.9400" stop-color="#ffff00"/><stop offset="0.9550" stop-color="#ffff00"/><stop offset="0.9600" stop-color="#ffff26"/><stop offset="0.9750" stop-color="#ffff96"/><stop offset="0.9800" stop-color="#ffffa7"/><stop offset="1.0000" stop-color="#ffffeb"/></linearGradient>
<linearGradient id="g12_11" gradientUnits="userSpaceOnUse" x1="0" y1="1003.86" x2="0" y2="770.16"><stop offset="0.0000" stop-color="#0c0000"/><stop offset="0.0200" stop-color="#150000"/><stop offset="0.0400" stop-color="#1d0000"/><stop offset="0.0600" stop-color="#260000"/><stop offset="0.0800" stop-color="#320000"/><stop offset="0.1000" stop-color="#410000"/><stop offset="0.1200" stop-color="#4f0000"/><stop offset="0.1400" stop-color="#5e0000"/><stop offset="0.1600" stop-color="#6d0000"/><stop offset="0.1800" stop-color="#7d0000"/><stop offset="0.2000" stop-color="#8e0000"/><stop offset="0.2200" stop-color="#9f0000"/><stop offset="0.2400" stop-color="#b00000"/><stop offset="0.2600" stop-color="#c00000"/><stop offset="0.2800" stop-color="#cf0000"/><stop offset="0.3000" stop-color="#dd0000"/><stop offset="0.3200" stop-color="#ed0000"/><stop offset="0.3400" stop-color="#fd0000"/><stop offset="0.3430" stop-color="#ff0000"/><stop offset="0.3600" stop-color="#ff0000"/><stop offset="0.3800" stop-color="#ff0700"/><stop offset="0.4000" stop-color="#ff0d00"/><stop offset="0.4200" stop-color="#ff1400"/><stop offset="0.4400" stop-color="#ff1d00"/><stop offset="0.4600" stop-color="#ff2600"/><stop offset="0.4800" stop-color="#ff2e00"/><stop offset="0.4999" stop-color="#ff3700"/><stop offset="0.5000" stop-color="#ff3700"/><stop offset="0.5001" stop-color="#ff3700"/><stop offset="0.5200" stop-color="#ff4000"/><stop offset="0.5400" stop-color="#ff4900"/><stop offset="0.5600" stop-color="#ff5200"/><stop offset="0.5800" stop-color="#ff5c00"/><stop offset="0.6000" stop-color="#ff6500"/><stop offset="0.6200" stop-color="#ff6f00"/><stop offset="0.6400" stop-color="#ff7900"/><stop offset="0.6600" stop-color="#ff8200"/><stop offset="0.6800" stop-color="#ff8c00"/><stop offset="0.7000" stop-color="#ff9600"/><stop offset="0.7200" stop-color="#ff9f00"/><stop offset="0.7400" stop-color="#ffa900"/><stop offset="0.7600" stop-color="#ffb200"/><stop offset="0.7800" stop-color="#ffbc00"/><stop offset="0.8000" stop-color="#ffc500"/><stop offset="0.8200" stop-color="#ffcf00"/><stop offset="0.8400" stop-color="#ffd800"/><stop offset="0.8600" stop-color="#ffe200"/><stop offset="0.8800" stop-color="#ffec00"/><stop offset="0.9000" stop-color="#fff900"/><stop offset="0.9080" stop-color="#fffe00"/><stop offset="0.9200" stop-color="#ffff00"/><stop offset="0.9400" stop-color="#ffff00"/><stop offset="0.9550" stop-color="#ffff00"/><stop offset="0.9600" stop-color="#ffff26"/><stop offset="0.9750" stop-color="#ffff96"/><stop offset="0.9800" stop-color="#ffffa7"/><stop offset="1.0000" stop-color="#ffffeb"/></linearGradient>
<linearGradient id="g9_9" gradientUnits="userSpaceOnUse" x1="0" y1="1003.91" x2="0" y2="770.21"><stop offset="0.0000" stop-color="#0c0000"/><stop offset="0.0200" stop-color="#150000"/><stop offset="0.0400" stop-color="#1d0000"/><stop offset="0.0600" stop-color="#260000"/><stop offset="0.0800" stop-color="#320000"/><stop offset="0.1000" stop-color="#410000"/><stop offset="0.1200" stop-color="#4f0000"/><stop offset="0.1400" stop-color="#5e0000"/><stop offset="0.1600" stop-color="#6d0000"/><stop offset="0.1800" stop-color="#7d0000"/><stop offset="0.2000" stop-color="#8e0000"/><stop offset="0.2200" stop-color="#9f0000"/><stop offset="0.2400" stop-color="#b00000"/><stop offset="0.2600" stop-color="#c00000"/><stop offset="0.2800" stop-color="#cf0000"/><stop offset="0.3000" stop-color="#dd0000"/><stop offset="0.3200" stop-color="#ed0000"/><stop offset="0.3400" stop-color="#fd0000"/><stop offset="0.3430" stop-color="#ff0000"/><stop offset="0.3600" stop-color="#ff0000"/><stop offset="0.3800" stop-color="#ff0700"/><stop offset="0.4000" stop-color="#ff0d00"/><stop offset="0.4200" stop-color="#ff1400"/><stop offset="0.4400" stop-color="#ff1d00"/><stop offset="0.4600" stop-color="#ff2600"/><stop offset="0.4800" stop-color="#ff2e00"/><stop offset="0.4999" stop-color="#ff3700"/><stop offset="0.5000" stop-color="#ff3700"/><stop offset="0.5001" stop-color="#ff3700"/><stop offset="0.5200" stop-color="#ff4000"/><stop offset="0.5400" stop-color="#ff4900"/><stop offset="0.5600" stop-color="#ff5200"/><stop offset="0.5800" stop-color="#ff5c00"/><stop offset="0.6000" stop-color="#ff6500"/><stop offset="0.6200" stop-color="#ff6f00"/><stop offset="0.6400" stop-color="#ff7900"/><stop offset="0.6600" stop-color="#ff8200"/><stop offset="0.6800" stop-color="#ff8c00"/><stop offset="0.7000" stop-color="#ff9600"/><stop offset="0.7200" stop-color="#ff9f00"/><stop offset="0.7400" stop-color="#ffa900"/><stop offset="0.7600" stop-color="#ffb200"/><stop offset="0.7800" stop-color="#ffbc00"/><stop offset="0.8000" stop-color="#ffc500"/><stop offset="0.8200" stop-color="#ffcf00"/><stop offset="0.8400" stop-color="#ffd800"/><stop offset="0.8600" stop-color="#ffe200"/><stop offset="0.8800" stop-color="#ffec00"/><stop offset="0.9000" stop-color="#fff900"/><stop offset="0.9080" stop-color="#fffe00"/><stop offset="0.9200" stop-color="#ffff00"/><stop offset="0.9400" stop-color="#ffff00"/><stop offset="0.9550" stop-color="#ffff00"/><stop offset="0.9600" stop-color="#ffff26"/><stop offset="0.9750" stop-color="#ffff96"/><stop offset="0.9800" stop-color="#ffffa7"/><stop offset="1.0000" stop-color="#ffffeb"/></linearGradient>
<linearGradient id="g10_10" gradientUnits="userSpaceOnUse" x1="0" y1="1008.30" x2="0" y2="774.60"><stop offset="0.0000" stop-color="#0c0000"/><stop offset="0.0200" stop-color="#150000"/><stop offset="0.0400" stop-color="#1d0000"/><stop offset="0.0600" stop-color="#260000"/><stop offset="0.0800" stop-color="#320000"/><stop offset="0.1000" stop-color="#410000"/><stop offset="0.1200" stop-color="#4f0000"/><stop offset="0.1400" stop-color="#5e0000"/><stop offset="0.1600" stop-color="#6d0000"/><stop offset="0.1800" stop-color="#7d0000"/><stop offset="0.2000" stop-color="#8e0000"/><stop offset="0.2200" stop-color="#9f0000"/><stop offset="0.2400" stop-color="#b00000"/><stop offset="0.2600" stop-color="#c00000"/><stop offset="0.2800" stop-color="#cf0000"/><stop offset="0.3000" stop-color="#dd0000"/><stop offset="0.3200" stop-color="#ed0000"/><stop offset="0.3400" stop-color="#fd0000"/><stop offset="0.3430" stop-color="#ff0000"/><stop offset="0.3600" stop-color="#ff0000"/><stop offset="0.3800" stop-color="#ff0700"/><stop offset="0.4000" stop-color="#ff0d00"/><stop offset="0.4200" stop-color="#ff1400"/><stop offset="0.4400" stop-color="#ff1d00"/><stop offset="0.4600" stop-color="#ff2600"/><stop offset="0.4800" stop-color="#ff2e00"/><stop offset="0.4999" stop-color="#ff3700"/><stop offset="0.5000" stop-color="#ff3700"/><stop offset="0.5001" stop-color="#ff3700"/><stop offset="0.5200" stop-color="#ff4000"/><stop offset="0.5400" stop-color="#ff4900"/><stop offset="0.5600" stop-color="#ff5200"/><stop offset="0.5800" stop-color="#ff5c00"/><stop offset="0.6000" stop-color="#ff6500"/><stop offset="0.6200" stop-color="#ff6f00"/><stop offset="0.6400" stop-color="#ff7900"/><stop offset="0.6600" stop-color="#ff8200"/><stop offset="0.6800" stop-color="#ff8c00"/><stop offset="0.7000" stop-color="#ff9600"/><stop offset="0.7200" stop-color="#ff9f00"/><stop offset="0.7400" stop-color="#ffa900"/><stop offset="0.7600" stop-color="#ffb200"/><stop offset="0.7800" stop-color="#ffbc00"/><stop offset="0.8000" stop-color="#ffc500"/><stop offset="0.8200" stop-color="#ffcf00"/><stop offset="0.8400" stop-color="#ffd800"/><stop offset="0.8600" stop-color="#ffe200"/><stop offset="0.8800" stop-color="#ffec00"/><stop offset="0.9000" stop-color="#fff900"/><stop offset="0.9080" stop-color="#fffe00"/><stop offset="0.9200" stop-color="#ffff00"/><stop offset="0.9400" stop-color="#ffff00"/><stop offset="0.9550" stop-color="#ffff00"/><stop offset="0.9600" stop-color="#ffff26"/><stop offset="0.9750" stop-color="#ffff96"/><stop offset="0.9800" stop-color="#ffffa7"/><stop offset="1.0000" stop-color="#ffffeb"/></linearGradient>
<linearGradient id="g7_8" gradientUnits="userSpaceOnUse" x1="0" y1="1008.35" x2="0" y2="774.65"><stop offset="0.0000" stop-color="#0c0000"/><stop offset="0.0200" stop-color="#150000"/><stop offset="0.0400" stop-color="#1d0000"/><stop offset="0.0600" stop-color="#260000"/><stop offset="0.0800" stop-color="#320000"/><stop offset="0.1000" stop-color="#410000"/><stop offset="0.1200" stop-color="#4f0000"/><stop offset="0.1400" stop-color="#5e0000"/><stop offset="0.1600" stop-color="#6d0000"/><stop offset="0.1800" stop-color="#7d0000"/><stop offset="0.2000" stop-color="#8e0000"/><stop offset="0.2200" stop-color="#9f0000"/><stop offset="0.2400" stop-color="#b00000"/><stop offset="0.2600" stop-color="#c00000"/><stop offset="0.2800" stop-color="#cf0000"/><stop offset="0.3000" stop-color="#dd0000"/><stop offset="0.3200" stop-color="#ed0000"/><stop offset="0.3400" stop-color="#fd0000"/><stop offset="0.3430" stop-color="#ff0000"/><stop offset="0.3600" stop-color="#ff0000"/><stop offset="0.3800" stop-color="#ff0700"/><stop offset="0.4000" stop-color="#ff0d00"/><stop offset="0.4200" stop-color="#ff1400"/><stop offset="0.4400" stop-color="#ff1d00"/><stop offset="0.4600" stop-color="#ff2600"/><stop offset="0.4800" stop-color="#ff2e00"/><stop offset="0.4999" stop-color="#ff3700"/><stop offset="0.5000" stop-color="#ff3700"/><stop offset="0.5001" stop-color="#ff3700"/><stop offset="0.5200" stop-color="#ff4000"/><stop offset="0.5400" stop-color="#ff4900"/><stop offset="0.5600" stop-color="#ff5200"/><stop offset="0.5800" stop-color="#ff5c00"/><stop offset="0.6000" stop-color="#ff6500"/><stop offset="0.6200" stop-color="#ff6f00"/><stop offset="0.6400" stop-color="#ff7900"/><stop offset="0.6600" stop-color="#ff8200"/><stop offset="0.6800" stop-color="#ff8c00"/><stop offset="0.7000" stop-color="#ff9600"/><stop offset="0.7200" stop-color="#ff9f00"/><stop offset="0.7400" stop-color="#ffa900"/><stop offset="0.7600" stop-color="#ffb200"/><stop offset="0.7800" stop-color="#ffbc00"/><stop offset="0.8000" stop-color="#ffc500"/><stop offset="0.8200" stop-color="#ffcf00"/><stop offset="0.8400" stop-color="#ffd800"/><stop offset="0.8600" stop-color="#ffe200"/><stop offset="0.8800" stop-color="#ffec00"/><stop offset="0.9000" stop-color="#fff900"/><stop offset="0.9080" stop-color="#fffe00"/><stop offset="0.9200" stop-color="#ffff00"/><stop offset="0.9400" stop-color="#ffff00"/><stop offset="0.9550" stop-color="#ffff00"/><stop offset="0.9600" stop-color="#ffff26"/><stop offset="0.9750" stop-color="#ffff96"/><stop offset="0.9800" stop-color="#ffffa7"/><stop offset="1.0000" stop-color="#ffffeb"/></linearGradient>
<linearGradient id="g11_11" gradientUnits="userSpaceOnUse" x1="0" y1="1012.69" x2="0" y2="778.99"><stop offset="0.0000" stop-color="#0c0000"/><stop offset="0.0200" stop-color="#150000"/><stop offset="0.0400" stop-color="#1d0000"/><stop offset="0.0600" stop-color="#260000"/><stop offset="0.0800" stop-color="#320000"/><stop offset="0.1000" stop-color="#410000"/><stop offset="0.1200" stop-color="#4f0000"/><stop offset="0.1400" stop-color="#5e0000"/><stop offset="0.1600" stop-color="#6d0000"/><stop offset="0.1800" stop-color="#7d0000"/><stop offset="0.2000" stop-color="#8e0000"/><stop offset="0.2200" stop-color="#9f0000"/><stop offset="0.2400" stop-color="#b00000"/><stop offset="0.2600" stop-color="#c00000"/><stop offset="0.2800" stop-color="#cf0000"/><stop offset="0.3000" stop-color="#dd0000"/><stop offset="0.3200" stop-color="#ed0000"/><stop offset="0.3400" stop-color="#fd0000"/><stop offset="0.3430" stop-color="#ff0000"/><stop offset="0.3600" stop-color="#ff0000"/><stop offset="0.3800" stop-color="#ff0700"/><stop offset="0.4000" stop-color="#ff0d00"/><stop offset="0.4200" stop-color="#ff1400"/><stop offset="0.4400" stop-color="#ff1d00"/><stop offset="0.4600" stop-color="#ff2600"/><stop offset="0.4800" stop-color="#ff2e00"/><stop offset="0.4999" stop-color="#ff3700"/><stop offset="0.5000" stop-color="#ff3700"/><stop offset="0.5001" stop-color="#ff3700"/><stop offset="0.5200" stop-color="#ff4000"/><stop offset="0.5400" stop-color="#ff4900"/><stop offset="0.5600" stop-color="#ff5200"/><stop offset="0.5800" stop-color="#ff5c00"/><stop offset="0.6000" stop-color="#ff6500"/><stop offset="0.6200" stop-color="#ff6f00"/><stop offset="0.6400" stop-color="#ff7900"/><stop offset="0.6600" stop-color="#ff8200"/><stop offset="0.6800" stop-color="#ff8c00"/><stop offset="0.7000" stop-color="#ff9600"/><stop offset="0.7200" stop-color="#ff9f00"/><stop offset="0.7400" stop-color="#ffa900"/><stop offset="0.7600" stop-color="#ffb200"/><stop offset="0.7800" stop-color="#ffbc00"/><stop offset="0.8000" stop-color="#ffc500"/><stop offset="0.8200" stop-color="#ffcf00"/><stop offset="0.8400" stop-color="#ffd800"/><stop offset="0.8600" stop-color="#ffe200"/><stop offset="0.8800" stop-color="#ffec00"/><stop offset="0.9000" stop-color="#fff900"/><stop offset="0.9080" stop-color="#fffe00"/><stop offset="0.9200" stop-color="#ffff00"/><stop offset="0.9400" stop-color="#ffff00"/><stop offset="0.9550" stop-color="#ffff00"/><stop offset="0.9600" stop-color="#ffff26"/><stop offset="0.9750" stop-color="#ffff96"/><stop offset="0.9800" stop-color="#ffffa7"/><stop offset="1.0000" stop-color="#ffffeb"/></linearGradient>
<linearGradient id="g2_5" gradientUnits="userSpaceOnUse" x1="0" y1="1012.84" x2="0" y2="779.14"><stop offset="0.0000" stop-color="#0c0000"/><stop offset="0.0200" stop-color="#150000"/><stop offset="0.0400" stop-color="#1d0000"/><stop offset="0.0600" stop-color="#260000"/><stop offset="0.0800" stop-color="#320000"/><stop offset="0.1000" stop-color="#410000"/><stop offset="0.1200" stop-color="#4f0000"/><stop offset="0.1400" stop-color="#5e0000"/><stop offset="0.1600" stop-color="#6d0000"/><stop offset="0.1800" stop-color="#7d0000"/><stop offset="0.2000" stop-color="#8e0000"/><stop offset="0.2200" stop-color="#9f0000"/><stop offset="0.2400" stop-color="#b00000"/><stop offset="0.2600" stop-color="#c00000"/><stop offset="0.2800" stop-color="#cf0000"/><stop offset="0.3000" stop-color="#dd0000"/><stop offset="0.3200" stop-color="#ed0000"/><stop offset="0.3400" stop-color="#fd0000"/><stop offset="0.3430" stop-color="#ff0000"/><stop offset="0.3600" stop-color="#ff0000"/><stop offset="0.3800" stop-color="#ff0700"/><stop offset="0.4000" stop-color="#ff0d00"/><stop offset="0.4200" stop-color="#ff1400"/><stop offset="0.4400" stop-color="#ff1d00"/><stop offset="0.4600" stop-color="#ff2600"/><stop offset="0.4800" stop-color="#ff2e00"/><stop offset="0.4999" stop-color="#ff3700"/><stop offset="0.5000" stop-color="#ff3700"/><stop offset="0.5001" stop-color="#ff3700"/><stop offset="0.5200" stop-color="#ff4000"/><stop offset="0.5400" stop-color="#ff4900"/><stop offset="0.5600" stop-color="#ff5200"/><stop offset="0.5800" stop-color="#ff5c00"/><stop offset="0.6000" stop-color="#ff6500"/><stop offset="0.6200" stop-color="#ff6f00"/><stop offset="0.6400" stop-color="#ff7900"/><stop offset="0.6600" stop-color="#ff8200"/><stop offset="0.6800" stop-color="#ff8c00"/><stop offset="0.7000" stop-color="#ff9600"/><stop offset="0.7200" stop-color="#ff9f00"/><stop offset="0.7400" stop-color="#ffa900"/><stop offset="0.7600" stop-color="#ffb200"/><stop offset="0.7800" stop-color="#ffbc00"/><stop offset="0.8000" stop-color="#ffc500"/><stop offset="0.8200" stop-color="#ffcf00"/><stop offset="0.8400" stop-color="#ffd800"/><stop offset="0.8600" stop-color="#ffe200"/><stop offset="0.8800" stop-color="#ffec00"/><stop offset="0.9000" stop-color="#fff900"/><stop offset="0.9080" stop-color="#fffe00"/><stop offset="0.9200" stop-color="#ffff00"/><stop offset="0.9400" stop-color="#ffff00"/><stop offset="0.9550" stop-color="#ffff00"/><stop offset="0.9600" stop-color="#ffff26"/><stop offset="0.9750" stop-color="#ffff96"/><stop offset="0.9800" stop-color="#ffffa7"/><stop offset="1.0000" stop-color="#ffffeb"/></linearGradient>
<linearGradient id="g12_12" gradientUnits="userSpaceOnUse" x1="0" y1="1017.08" x2="0" y2="783.38"><stop offset="0.0000" stop-color="#0c0000"/><stop offset="0.0200" stop-color="#150000"/><stop offset="0.0400" stop-color="#1d0000"/><stop offset="0.0600" stop-color="#260000"/><stop offset="0.0800" stop-color="#320000"/><stop offset="0.1000" stop-color="#410000"/><stop offset="0.1200" stop-color="#4f0000"/><stop offset="0.1400" stop-color="#5e0000"/><stop offset="0.1600" stop-color="#6d0000"/><stop offset="0.1800" stop-color="#7d0000"/><stop offset="0.2000" stop-color="#8e0000"/><stop offset="0.2200" stop-color="#9f0000"/><stop offset="0.2400" stop-color="#b00000"/><stop offset="0.2600" stop-color="#c00000"/><stop offset="0.2800" stop-color="#cf0000"/><stop offset="0.3000" stop-color="#dd0000"/><stop offset="0.3200" stop-color="#ed0000"/><stop offset="0.3400" stop-color="#fd0000"/><stop offset="0.3430" stop-color="#ff0000"/><stop offset="0.3600" stop-color="#ff0000"/><stop offset="0.3800" stop-color="#ff0700"/><stop offset="0.4000" stop-color="#ff0d00"/><stop offset="0.4200" stop-color="#ff1400"/><stop offset="0.4400" stop-color="#ff1d00"/><stop offset="0.4600" stop-color="#ff2600"/><stop offset="0.4800" stop-color="#ff2e00"/><stop offset="0.4999" stop-color="#ff3700"/><stop offset="0.5000" stop-color="#ff3700"/><stop offset="0.5001" stop-color="#ff3700"/><stop offset="0.5200" stop-color="#ff4000"/><stop offset="0.5400" stop-color="#ff4900"/><stop offset="0.5600" stop-color="#ff5200"/><stop offset="0.5800" stop-color="#ff5c00"/><stop offset="0.6000" stop-color="#ff6500"/><stop offset="0.6200" stop-color="#ff6f00"/><stop offset="0.6400" stop-color="#ff7900"/><stop offset="0.6600" stop-color="#ff8200"/><stop offset="0.6800" stop-color="#ff8c00"/><stop offset="0.7000" stop-color="#ff9600"/><stop offset="0.7200" stop-color="#ff9f00"/><stop offset="0.7400" stop-color="#ffa900"/><stop offset="0.7600" stop-color="#ffb200"/><stop offset="0.7800" stop-color="#ffbc00"/><stop offset="0.8000" stop-color="#ffc500"/><stop offset="0.8200" stop-color="#ffcf00"/><stop offset="0.8400" stop-color="#ffd800"/><stop offset="0.8600" stop-color="#ffe200"/><stop offset="0.8800" stop-color="#ffec00"/><stop offset="0.9000" stop-color="#fff900"/><stop offset="0.9080" stop-color="#fffe00"/><stop offset="0.9200" stop-color="#ffff00"/><stop offset="0.9400" stop-color="#ffff00"/><stop offset="0.9550" stop-color="#ffff00"/><stop offset="0.9600" stop-color="#ffff26"/><stop offset="0.9750" stop-color="#ffff96"/><stop offset="0.9800" stop-color="#ffffa7"/><stop offset="1.0000" stop-color="#ffffeb"/></linearGradient>
<linearGradient id="g9_10" gradientUnits="userSpaceOnUse" x1="0" y1="1017.13" x2="0" y2="783.43"><stop offset="0.0000" stop-color="#0c0000"/><stop offset="0.0200" stop-color="#150000"/><stop offset="0.0400" stop-color="#1d0000"/><stop offset="0.0600" stop-color="#260000"/><stop offset="0.0800" stop-color="#320000"/><stop offset="0.1000" stop-color="#410000"/><stop offset="0.1200" stop-color="#4f0000"/><stop offset="0.1400" stop-color="#5e0000"/><stop offset="0.1600" stop-color="#6d0000"/><stop offset="0.1800" stop-color="#7d0000"/><stop offset="0.2000" stop-color="#8e0000"/><stop offset="0.2200" stop-color="#9f0000"/><stop offset="0.2400" stop-color="#b00000"/><stop offset="0.2600" stop-color="#c00000"/><stop offset="0.2800" stop-color="#cf0000"/><stop offset="0.3000" stop-color="#dd0000"/><stop offset="0.3200" stop-color="#ed0000"/><stop offset="0.3400" stop-color="#fd0000"/><stop offset="0.3430" stop-color="#ff0000"/><stop offset="0.3600" stop-color="#ff0000"/><stop offset="0.3800" stop-color="#ff0700"/><stop offset="0.4000" stop-color="#ff0d00"/><stop offset="0.4200" stop-color="#ff1400"/><stop offset="0.4400" stop-color="#ff1d00"/><stop offset="0.4600" stop-color="#ff2600"/><stop offset="0.4800" stop-color="#ff2e00"/><stop offset="0.4999" stop-color="#ff3700"/><stop offset="0.5000" stop-color="#ff3700"/><stop offset="0.5001" stop-color="#ff3700"/><stop offset="0.5200" stop-color="#ff4000"/><stop offset="0.5400" stop-color="#ff4900"/><stop offset="0.5600" stop-color="#ff5200"/><stop offset="0.5800" stop-color="#ff5c00"/><stop offset="0.6000" stop-color="#ff6500"/><stop offset="0.6200" stop-color="#ff6f00"/><stop offset="0.6400" stop-color="#ff7900"/><stop offset="0.6600" stop-color="#ff8200"/><stop offset="0.6800" stop-color="#ff8c00"/><stop offset="0.7000" stop-color="#ff9600"/><stop offset="0.7200" stop-color="#ff9f00"/><stop offset="0.7400" stop-color="#ffa900"/><stop offset="0.7600" stop-color="#ffb200"/><stop offset="0.7800" stop-color="#ffbc00"/><stop offset="0.8000" stop-color="#ffc500"/><stop offset="0.8200" stop-color="#ffcf00"/><stop offset="0.8400" stop-color="#ffd800"/><stop offset="0.8600" stop-color="#ffe200"/><stop offset="0.8800" stop-color="#ffec00"/><stop offset="0.9000" stop-color="#fff900"/><stop offset="0.9080" stop-color="#fffe00"/><stop offset="0.9200" stop-color="#ffff00"/><stop offset="0.9400" stop-color="#ffff00"/><stop offset="0.9550" stop-color="#ffff00"/><stop offset="0.9600" stop-color="#ffff26"/><stop offset="0.9750" stop-color="#ffff96"/><stop offset="0.9800" stop-color="#ffffa7"/><stop offset="1.0000" stop-color="#ffffeb"/></linearGradient>
<linearGradient id="g4_7" gradientUnits="userSpaceOnUse" x1="0" y1="1021.62" x2="0" y2="787.92"><stop offset="0.0000" stop-color="#0c0000"/><stop offset="0.0200" stop-color="#150000"/><stop offset="0.0400" stop-color="#1d0000"/><stop offset="0.0600" stop-color="#260000"/><stop offset="0.0800" stop-color="#320000"/><stop offset="0.1000" stop-color="#410000"/><stop offset="0.1200" stop-color="#4f0000"/><stop offset="0.1400" stop-color="#5e0000"/><stop offset="0.1600" stop-color="#6d0000"/><stop offset="0.1800" stop-color="#7d0000"/><stop offset="0.2000" stop-color="#8e0000"/><stop offset="0.2200" stop-color="#9f0000"/><stop offset="0.2400" stop-color="#b00000"/><stop offset="0.2600" stop-color="#c00000"/><stop offset="0.2800" stop-color="#cf0000"/><stop offset="0.3000" stop-color="#dd0000"/><stop offset="0.3200" stop-color="#ed0000"/><stop offset="0.3400" stop-color="#fd0000"/><stop offset="0.3430" stop-color="#ff0000"/><stop offset="0.3600" stop-color="#ff0000"/><stop offset="0.3800" stop-color="#ff0700"/><stop offset="0.4000" stop-color="#ff0d00"/><stop offset="0.4200" stop-color="#ff1400"/><stop offset="0.4400" stop-color="#ff1d00"/><stop offset="0.4600" stop-color="#ff2600"/><stop offset="0.4800" stop-color="#ff2e00"/><stop offset="0.4999" stop-color="#ff3700"/><stop offset="0.5000" stop-color="#ff3700"/><stop offset="0.5001" stop-color="#ff3700"/><stop offset="0.5200" stop-color="#ff4000"/><stop offset="0.5400" stop-color="#ff4900"/><stop offset="0.5600" stop-color="#ff5200"/><stop offset="0.5800" stop-color="#ff5c00"/><stop offset="0.6000" stop-color="#ff6500"/><stop offset="0.6200" stop-color="#ff6f00"/><stop offset="0.6400" stop-color="#ff7900"/><stop offset="0.6600" stop-color="#ff8200"/><stop offset="0.6800" stop-color="#ff8c00"/><stop offset="0.7000" stop-color="#ff9600"/><stop offset="0.7200" stop-color="#ff9f00"/><stop offset="0.7400" stop-color="#ffa900"/><stop offset="0.7600" stop-color="#ffb200"/><stop offset="0.7800" stop-color="#ffbc00"/><stop offset="0.8000" stop-color="#ffc500"/><stop offset="0.8200" stop-color="#ffcf00"/><stop offset="0.8400" stop-color="#ffd800"/><stop offset="0.8600" stop-color="#ffe200"/><stop offset="0.8800" stop-color="#ffec00"/><stop offset="0.9000" stop-color="#fff900"/><stop offset="0.9080" stop-color="#fffe00"/><stop offset="0.9200" stop-color="#ffff00"/><stop offset="0.9400" stop-color="#ffff00"/><stop offset="0.9550" stop-color="#ffff00"/><stop offset="0.9600" stop-color="#ffff26"/><stop offset="0.9750" stop-color="#ffff96"/><stop offset="0.9800" stop-color="#ffffa7"/><stop offset="1.0000" stop-color="#ffffeb"/></linearGradient>
<linearGradient id="g1_5" gradientUnits="userSpaceOnUse" x1="0" y1="1021.67" x2="0" y2="787.97"><stop offset="0.0000" stop-color="#0c0000"/><stop offset="0.0200" stop-color="#150000"/><stop offset="0.0400" stop-color="#1d0000"/><stop offset="0.0600" stop-color="#260000"/><stop offset="0.0800" stop-color="#320000"/><stop offset="0.1000" stop-color="#410000"/><stop offset="0.1200" stop-color="#4f0000"/><stop offset="0.1400" stop-color="#5e0000"/><stop offset="0.1600" stop-color="#6d0000"/><stop offset="0.1800" stop-color="#7d0000"/><stop offset="0.2000" stop-color="#8e0000"/><stop offset="0.2200" stop-color="#9f0000"/><stop offset="0.2400" stop-color="#b00000"/><stop offset="0.2600" stop-color="#c00000"/><stop offset="0.2800" stop-color="#cf0000"/><stop offset="0.3000" stop-color="#dd0000"/><stop offset="0.3200" stop-color="#ed0000"/><stop offset="0.3400" stop-color="#fd0000"/><stop offset="0.3430" stop-color="#ff0000"/><stop offset="0.3600" stop-color="#ff0000"/><stop offset="0.3800" stop-color="#ff0700"/><stop offset="0.4000" stop-color="#ff0d00"/><stop offset="0.4200" stop-color="#ff1400"/><stop offset="0.4400" stop-color="#ff1d00"/><stop offset="0.4600" stop-color="#ff2600"/><stop offset="0.4800" stop-color="#ff2e00"/><stop offset="0.4999" stop-color="#ff3700"/><stop offset="0.5000" stop-color="#ff3700"/><stop offset="0.5001" stop-color="#ff3700"/><stop offset="0.5200" stop-color="#ff4000"/><stop offset="0.5400" stop-color="#ff4900"/><stop offset="0.5600" stop-color="#ff5200"/><stop offset="0.5800" stop-color="#ff5c00"/><stop offset="0.6000" stop-color="#ff6500"/><stop offset="0.6200" stop-color="#ff6f00"/><stop offset="0.6400" stop-color="#ff7900"/><stop offset="0.6600" stop-color="#ff8200"/><stop offset="0.6800" stop-color="#ff8c00"/><stop offset="0.7000" stop-color="#ff9600"/><stop offset="0.7200" stop-color="#ff9f00"/><stop offset="0.7400" stop-color="#ffa900"/><stop offset="0.7600" stop-color="#ffb200"/><stop offset="0.7800" stop-color="#ffbc00"/><stop offset="0.8000" stop-color="#ffc500"/><stop offset="0.8200" stop-color="#ffcf00"/><stop offset="0.8400" stop-color="#ffd800"/><stop offset="0.8600" stop-color="#ffe200"/><stop offset="0.8800" stop-color="#ffec00"/><stop offset="0.9000" stop-color="#fff900"/><stop offset="0.9080" stop-color="#fffe00"/><stop offset="0.9200" stop-color="#ffff00"/><stop offset="0.9400" stop-color="#ffff00"/><stop offset="0.9550" stop-color="#ffff00"/><stop offset="0.9600" stop-color="#ffff26"/><stop offset="0.9750" stop-color="#ffff96"/><stop offset="0.9800" stop-color="#ffffa7"/><stop offset="1.0000" stop-color="#ffffeb"/></linearGradient>
<linearGradient id="g11_12" gradientUnits="userSpaceOnUse" x1="0" y1="1025.91" x2="0" y2="792.21"><stop offset="0.0000" stop-color="#0c0000"/><stop offset="0.0200" stop-color="#150000"/><stop offset="0.0400" stop-color="#1d0000"/><stop offset="0.0600" stop-color="#260000"/><stop offset="0.0800" stop-color="#320000"/><stop offset="0.1000" stop-color="#410000"/><stop offset="0.1200" stop-color="#4f0000"/><stop offset="0.1400" stop-color="#5e0000"/><stop offset="0.1600" stop-color="#6d0000"/><stop offset="0.1800" stop-color="#7d0000"/><stop offset="0.2000" stop-color="#8e0000"/><stop offset="0.2200" stop-color="#9f0000"/><stop offset="0.2400" stop-color="#b00000"/><stop offset="0.2600" stop-color="#c00000"/><stop offset="0.2800" stop-color="#cf0000"/><stop offset="0.3000" stop-color="#dd0000"/><stop offset="0.3200" stop-color="#ed0000"/><stop offset="0.3400" stop-color="#fd0000"/><stop offset="0.3430" stop-color="#ff0000"/><stop offset="0.3600" stop-color="#ff0000"/><stop offset="0.3800" stop-color="#ff0700"/><stop offset="0.4000" stop-color="#ff0d00"/><stop offset="0.4200" stop-color="#ff1400"/><stop offset="0.4400" stop-color="#ff1d00"/><stop offset="0.4600" stop-color="#ff2600"/><stop offset="0.4800" stop-color="#ff2e00"/><stop offset="0.4999" stop-color="#ff3700"/><stop offset="0.5000" stop-color="#ff3700"/><stop offset="0.5001" stop-color="#ff3700"/><stop offset="0.5200" stop-color="#ff4000"/><stop offset="0.5400" stop-color="#ff4900"/><stop offset="0.5600" stop-color="#ff5200"/><stop offset="0.5800" stop-color="#ff5c00"/><stop offset="0.6000" stop-color="#ff6500"/><stop offset="0.6200" stop-color="#ff6f00"/><stop offset="0.6400" stop-color="#ff7900"/><stop offset="0.6600" stop-color="#ff8200"/><stop offset="0.6800" stop-color="#ff8c00"/><stop offset="0.7000" stop-color="#ff9600"/><stop offset="0.7200" stop-color="#ff9f00"/><stop offset="0.7400" stop-color="#ffa900"/><stop offset="0.7600" stop-color="#ffb200"/><stop offset="0.7800" stop-color="#ffbc00"/><stop offset="0.8000" stop-color="#ffc500"/><stop offset="0.8200" stop-color="#ffcf00"/><stop offset="0.8400" stop-color="#ffd800"/><stop offset="0.8600" stop-color="#ffe200"/><stop offset="0.8800" stop-color="#ffec00"/><stop offset="0.9000" stop-color="#fff900"/><stop offset="0.9080" stop-color="#fffe00"/><stop offset="0.9200" stop-color="#ffff00"/><stop offset="0.9400" stop-color="#ffff00"/><stop offset="0.9550" stop-color="#ffff00"/><stop offset="0.9600" stop-color="#ffff26"/><stop offset="0.9750" stop-color="#ffff96"/><stop offset="0.9800" stop-color="#ffffa7"/><stop offset="1.0000" stop-color="#ffffeb"/></linearGradient>
<linearGradient id="g2_6" gradientUnits="userSpaceOnUse" x1="0" y1="1026.06" x2="0" y2="792.36"><stop offset="0.0000" stop-color="#0c0000"/><stop offset="0.0200" stop-color="#150000"/><stop offset="0.0400" stop-color="#1d0000"/><stop offset="0.0600" stop-color="#260000"/><stop offset="0.0800" stop-color="#320000"/><stop offset="0.1000" stop-color="#410000"/><stop offset="0.1200" stop-color="#4f0000"/><stop offset="0.1400" stop-color="#5e0000"/><stop offset="0.1600" stop-color="#6d0000"/><stop offset="0.1800" stop-color="#7d0000"/><stop offset="0.2000" stop-color="#8e0000"/><stop offset="0.2200" stop-color="#9f0000"/><stop offset="0.2400" stop-color="#b00000"/><stop offset="0.2600" stop-color="#c00000"/><stop offset="0.2800" stop-color="#cf0000"/><stop offset="0.3000" stop-color="#dd0000"/><stop offset="0.3200" stop-color="#ed0000"/><stop offset="0.3400" stop-color="#fd0000"/><stop offset="0.3430" stop-color="#ff0000"/><stop offset="0.3600" stop-color="#ff0000"/><stop offset="0.3800" stop-color="#ff0700"/><stop offset="0.4000" stop-color="#ff0d00"/><stop offset="0.4200" stop-color="#ff1400"/><stop offset="0.4400" stop-color="#ff1d00"/><stop offset="0.4600" stop-color="#ff2600"/><stop offset="0.4800" stop-color="#ff2e00"/><stop offset="0.4999" stop-color="#ff3700"/><stop offset="0.5000" stop-color="#ff3700"/><stop offset="0.5001" stop-color="#ff3700"/><stop offset="0.5200" stop-color="#ff4000"/><stop offset="0.5400" stop-color="#ff4900"/><stop offset="0.5600" stop-color="#ff5200"/><stop offset="0.5800" stop-color="#ff5c00"/><stop offset="0.6000" stop-color="#ff6500"/><stop offset="0.6200" stop-color="#ff6f00"/><stop offset="0.6400" stop-color="#ff7900"/><stop offset="0.6600" stop-color="#ff8200"/><stop offset="0.6800" stop-color="#ff8c00"/><stop offset="0.7000" stop-color="#ff9600"/><stop offset="0.7200" stop-color="#ff9f00"/><stop offset="0.7400" stop-color="#ffa900"/><stop offset="0.7600" stop-color="#ffb200"/><stop offset="0.7800" stop-color="#ffbc00"/><stop offset="0.8000" stop-color="#ffc500"/><stop offset="0.8200" stop-color="#ffcf00"/><stop offset="0.8400" stop-color="#ffd800"/><stop offset="0.8600" stop-color="#ffe200"/><stop offset="0.8800" stop-color="#ffec00"/><stop offset="0.9000" stop-color="#fff900"/><stop offset="0.9080" stop-color="#fffe00"/><stop offset="0.9200" stop-color="#ffff00"/><stop offset="0.9400" stop-color="#ffff00"/><stop offset="0.9550" stop-color="#ffff00"/><stop offset="0.9600" stop-color="#ffff26"/><stop offset="0.9750" stop-color="#ffff96"/><stop offset="0.9800" stop-color="#ffffa7"/><stop offset="1.0000" stop-color="#ffffeb"/></linearGradient>
<linearGradient id="g6_9" gradientUnits="userSpaceOnUse" x1="0" y1="1030.40" x2="0" y2="796.70"><stop offset="0.0000" stop-color="#0c0000"/><stop offset="0.0200" stop-color="#150000"/><stop offset="0.0400" stop-color="#1d0000"/><stop offset="0.0600" stop-color="#260000"/><stop offset="0.0800" stop-color="#320000"/><stop offset="0.1000" stop-color="#410000"/><stop offset="0.1200" stop-color="#4f0000"/><stop offset="0.1400" stop-color="#5e0000"/><stop offset="0.1600" stop-color="#6d0000"/><stop offset="0.1800" stop-color="#7d0000"/><stop offset="0.2000" stop-color="#8e0000"/><stop offset="0.2200" stop-color="#9f0000"/><stop offset="0.2400" stop-color="#b00000"/><stop offset="0.2600" stop-color="#c00000"/><stop offset="0.2800" stop-color="#cf0000"/><stop offset="0.3000" stop-color="#dd0000"/><stop offset="0.3200" stop-color="#ed0000"/><stop offset="0.3400" stop-color="#fd0000"/><stop offset="0.3430" stop-color="#ff0000"/><stop offset="0.3600" stop-color="#ff0000"/><stop offset="0.3800" stop-color="#ff0700"/><stop offset="0.4000" stop-color="#ff0d00"/><stop offset="0.4200" stop-color="#ff1400"/><stop offset="0.4400" stop-color="#ff1d00"/><stop offset="0.4600" stop-color="#ff2600"/><stop offset="0.4800" stop-color="#ff2e00"/><stop offset="0.4999" stop-color="#ff3700"/><stop offset="0.5000" stop-color="#ff3700"/><stop offset="0.5001" stop-color="#ff3700"/><stop offset="0.5200" stop-color="#ff4000"/><stop offset="0.5400" stop-color="#ff4900"/><stop offset="0.5600" stop-color="#ff5200"/><stop offset="0.5800" stop-color="#ff5c00"/><stop offset="0.6000" stop-color="#ff6500"/><stop offset="0.6200" stop-color="#ff6f00"/><stop offset="0.6400" stop-color="#ff7900"/><stop offset="0.6600" stop-color="#ff8200"/><stop offset="0.6800" stop-color="#ff8c00"/><stop offset="0.7000" stop-color="#ff9600"/><stop offset="0.7200" stop-color="#ff9f00"/><stop offset="0.7400" stop-color="#ffa900"/><stop offset="0.7600" stop-color="#ffb200"/><stop offset="0.7800" stop-color="#ffbc00"/><stop offset="0.8000" stop-color="#ffc500"/><stop offset="0.8200" stop-color="#ffcf00"/><stop offset="0.8400" stop-color="#ffd800"/><stop offset="0.8600" stop-color="#ffe200"/><stop offset="0.8800" stop-color="#ffec00"/><stop offset="0.9000" stop-color="#fff900"/><stop offset="0.9080" stop-color="#fffe00"/><stop offset="0.9200" stop-color="#ffff00"/><stop offset="0.9400" stop-color="#ffff00"/><stop offset="0.9550" stop-color="#ffff00"/><stop offset="0.9600" stop-color="#ffff26"/><stop offset="0.9750" stop-color="#ffff96"/><stop offset="0.9800" stop-color="#ffffa7"/><stop offset="1.0000" stop-color="#ffffeb"/></linearGradient>
<linearGradient id="g3_7" gradientUnits="userSpaceOnUse" x1="0" y1="1030.45" x2="0" y2="796.75"><stop offset="0.0000" stop-color="#0c0000"/><stop offset="0.0200" stop-color="#150000"/><stop offset="0.0400" stop-color="#1d0000"/><stop offset="0.0600" stop-color="#260000"/><stop offset="0.0800" stop-color="#320000"/><stop offset="0.1000" stop-color="#410000"/><stop offset="0.1200" stop-color="#4f0000"/><stop offset="0.1400" stop-color="#5e0000"/><stop offset="0.1600" stop-color="#6d0000"/><stop offset="0.1800" stop-color="#7d0000"/><stop offset="0.2000" stop-color="#8e0000"/><stop offset="0.2200" stop-color="#9f0000"/><stop offset="0.2400" stop-color="#b00000"/><stop offset="0.2600" stop-color="#c00000"/><stop offset="0.2800" stop-color="#cf0000"/><stop offset="0.3000" stop-color="#dd0000"/><stop offset="0.3200" stop-color="#ed0000"/><stop offset="0.3400" stop-color="#fd0000"/><stop offset="0.3430" stop-color="#ff0000"/><stop offset="0.3600" stop-color="#ff0000"/><stop offset="0.3800" stop-color="#ff0700"/><stop offset="0.4000" stop-color="#ff0d00"/><stop offset="0.4200" stop-color="#ff1400"/><stop offset="0.4400" stop-color="#ff1d00"/><stop offset="0.4600" stop-color="#ff2600"/><stop offset="0.4800" stop-color="#ff2e00"/><stop offset="0.4999" stop-color="#ff3700"/><stop offset="0.5000" stop-color="#ff3700"/><stop offset="0.5001" stop-color="#ff3700"/><stop offset="0.5200" stop-color="#ff4000"/><stop offset="0.5400" stop-color="#ff4900"/><stop offset="0.5600" stop-color="#ff5200"/><stop offset="0.5800" stop-color="#ff5c00"/><stop offset="0.6000" stop-color="#ff6500"/><stop offset="0.6200" stop-color="#ff6f00"/><stop offset="0.6400" stop-color="#ff7900"/><stop offset="0.6600" stop-color="#ff8200"/><stop offset="0.6800" stop-color="#ff8c00"/><stop offset="0.7000" stop-color="#ff9600"/><stop offset="0.7200" stop-color="#ff9f00"/><stop offset="0.7400" stop-color="#ffa900"/><stop offset="0.7600" stop-color="#ffb200"/><stop offset="0.7800" stop-color="#ffbc00"/><stop offset="0.8000" stop-color="#ffc500"/><stop offset="0.8200" stop-color="#ffcf00"/><stop offset="0.8400" stop-color="#ffd800"/><stop offset="0.8600" stop-color="#ffe200"/><stop offset="0.8800" stop-color="#ffec00"/><stop offset="0.9000" stop-color="#fff900"/><stop offset="0.9080" stop-color="#fffe00"/><stop offset="0.9200" stop-color="#ffff00"/><stop offset="0.9400" stop-color="#ffff00"/><stop offset="0.9550" stop-color="#ffff00"/><stop offset="0.9600" stop-color="#ffff26"/><stop offset="0.9750" stop-color="#ffff96"/><stop offset="0.9800" stop-color="#ffffa7"/><stop offset="1.0000" stop-color="#ffffeb"/></linearGradient>
<linearGradient id="g4_8" gradientUnits="userSpaceOnUse" x1="0" y1="1034.84" x2="0" y2="801.14"><stop offset="0.0000" stop-color="#0c0000"/><stop offset="0.0200" stop-color="#150000"/><stop offset="0.0400" stop-color="#1d0000"/><stop offset="0.0600" stop-color="#260000"/><stop offset="0.0800" stop-color="#320000"/><stop offset="0.1000" stop-color="#410000"/><stop offset="0.1200" stop-color="#4f0000"/><stop offset="0.1400" stop-color="#5e0000"/><stop offset="0.1600" stop-color="#6d0000"/><stop offset="0.1800" stop-color="#7d0000"/><stop offset="0.2000" stop-color="#8e0000"/><stop offset="0.2200" stop-color="#9f0000"/><stop offset="0.2400" stop-color="#b00000"/><stop offset="0.2600" stop-color="#c00000"/><stop offset="0.2800" stop-color="#cf0000"/><stop offset="0.3000" stop-color="#dd0000"/><stop offset="0.3200" stop-color="#ed0000"/><stop offset="0.3400" stop-color="#fd0000"/><stop offset="0.3430" stop-color="#ff0000"/><stop offset="0.3600" stop-color="#ff0000"/><stop offset="0.3800" stop-color="#ff0700"/><stop offset="0.4000" stop-color="#ff0d00"/><stop offset="0.4200" stop-color="#ff1400"/><stop offset="0.4400" stop-color="#ff1d00"/><stop offset="0.4600" stop-color="#ff2600"/><stop offset="0.4800" stop-color="#ff2e00"/><stop offset="0.4999" stop-color="#ff3700"/><stop offset="0.5000" stop-color="#ff3700"/><stop offset="0.5001" stop-color="#ff3700"/><stop offset="0.5200" stop-color="#ff4000"/><stop offset="0.5400" stop-color="#ff4900"/><stop offset="0.5600" stop-color="#ff5200"/><stop offset="0.5800" stop-color="#ff5c00"/><stop offset="0.6000" stop-color="#ff6500"/><stop offset="0.6200" stop-color="#ff6f00"/><stop offset="0.6400" stop-color="#ff7900"/><stop offset="0.6600" stop-color="#ff8200"/><stop offset="0.6800" stop-color="#ff8c00"/><stop offset="0.7000" stop-color="#ff9600"/><stop offset="0.7200" stop-color="#ff9f00"/><stop offset="0.7400" stop-color="#ffa900"/><stop offset="0.7600" stop-color="#ffb200"/><stop offset="0.7800" stop-color="#ffbc00"/><stop offset="0.8000" stop-color="#ffc500"/><stop offset="0.8200" stop-color="#ffcf00"/><stop offset="0.8400" stop-color="#ffd800"/><stop offset="0.8600" stop-color="#ffe200"/><stop offset="0.8800" stop-color="#ffec00"/><stop offset="0.9000" stop-color="#fff900"/><stop offset="0.9080" stop-color="#fffe00"/><stop offset="0.9200" stop-color="#ffff00"/><stop offset="0.9400" stop-color="#ffff00"/><stop offset="0.9550" stop-color="#ffff00"/><stop offset="0.9600" stop-color="#ffff26"/><stop offset="0.9750" stop-color="#ffff96"/><stop offset="0.9800" stop-color="#ffffa7"/><stop offset="1.0000" stop-color="#ffffeb"/></linearGradient>
<linearGradient id="g1_6" gradientUnits="userSpaceOnUse" x1="0" y1="1034.89" x2="0" y2="801.19"><stop offset="0.0000" stop-color="#0c0000"/><stop offset="0.0200" stop-color="#150000"/><stop offset="0.0400" stop-color="#1d0000"/><stop offset="0.0600" stop-color="#260000"/><stop offset="0.0800" stop-color="#320000"/><stop offset="0.1000" stop-color="#410000"/><stop offset="0.1200" stop-color="#4f0000"/><stop offset="0.1400" stop-color="#5e0000"/><stop offset="0.1600" stop-color="#6d0000"/><stop offset="0.1800" stop-color="#7d0000"/><stop offset="0.2000" stop-color="#8e0000"/><stop offset="0.2200" stop-color="#9f0000"/><stop offset="0.2400" stop-color="#b00000"/><stop offset="0.2600" stop-color="#c00000"/><stop offset="0.2800" stop-color="#cf0000"/><stop offset="0.3000" stop-color="#dd0000"/><stop offset="0.3200" stop-color="#ed0000"/><stop offset="0.3400" stop-color="#fd0000"/><stop offset="0.3430" stop-color="#ff0000"/><stop offset="0.3600" stop-color="#ff0000"/><stop offset="0.3800" stop-color="#ff0700"/><stop offset="0.4000" stop-color="#ff0d00"/><stop offset="0.4200" stop-color="#ff1400"/><stop offset="0.4400" stop-color="#ff1d00"/><stop offset="0.4600" stop-color="#ff2600"/><stop offset="0.4800" stop-color="#ff2e00"/><stop offset="0.4999" stop-color="#ff3700"/><stop offset="0.5000" stop-color="#ff3700"/><stop offset="0.5001" stop-color="#ff3700"/><stop offset="0.5200" stop-color="#ff4000"/><stop offset="0.5400" stop-color="#ff4900"/><stop offset="0.5600" stop-color="#ff5200"/><stop offset="0.5800" stop-color="#ff5c00"/><stop offset="0.6000" stop-color="#ff6500"/><stop offset="0.6200" stop-color="#ff6f00"/><stop offset="0.6400" stop-color="#ff7900"/><stop offset="0.6600" stop-color="#ff8200"/><stop offset="0.6800" stop-color="#ff8c00"/><stop offset="0.7000" stop-color="#ff9600"/><stop offset="0.7200" stop-color="#ff9f00"/><stop offset="0.7400" stop-color="#ffa900"/><stop offset="0.7600" stop-color="#ffb200"/><stop offset="0.7800" stop-color="#ffbc00"/><stop offset="0.8000" stop-color="#ffc500"/><stop offset="0.8200" stop-color="#ffcf00"/><stop offset="0.8400" stop-color="#ffd800"/><stop offset="0.8600" stop-color="#ffe200"/><stop offset="0.8800" stop-color="#ffec00"/><stop offset="0.9000" stop-color="#fff900"/><stop offset="0.9080" stop-color="#fffe00"/><stop offset="0.9200" stop-color="#ffff00"/><stop offset="0.9400" stop-color="#ffff00"/><stop offset="0.9550" stop-color="#ffff00"/><stop offset="0.9600" stop-color="#ffff26"/><stop offset="0.9750" stop-color="#ffff96"/><stop offset="0.9800" stop-color="#ffffa7"/><stop offset="1.0000" stop-color="#ffffeb"/></linearGradient>
<linearGradient id="g8_11" gradientUnits="userSpaceOnUse" x1="0" y1="1039.18" x2="0" y2="805.48"><stop offset="0.0000" stop-color="#0c0000"/><stop offset="0.0200" stop-color="#150000"/><stop offset="0.0400" stop-color="#1d0000"/><stop offset="0.0600" stop-color="#260000"/><stop offset="0.0800" stop-color="#320000"/><stop offset="0.1000" stop-color="#410000"/><stop offset="0.1200" stop-color="#4f0000"/><stop offset="0.1400" stop-color="#5e0000"/><stop offset="0.1600" stop-color="#6d0000"/><stop offset="0.1800" stop-color="#7d0000"/><stop offset="0.2000" stop-color="#8e0000"/><stop offset="0.2200" stop-color="#9f0000"/><stop offset="0.2400" stop-color="#b00000"/><stop offset="0.2600" stop-color="#c00000"/><stop offset="0.2800" stop-color="#cf0000"/><stop offset="0.3000" stop-color="#dd0000"/><stop offset="0.3200" stop-color="#ed0000"/><stop offset="0.3400" stop-color="#fd0000"/><stop offset="0.3430" stop-color="#ff0000"/><stop offset="0.3600" stop-color="#ff0000"/><stop offset="0.3800" stop-color="#ff0700"/><stop offset="0.4000" stop-color="#ff0d00"/><stop offset="0.4200" stop-color="#ff1400"/><stop offset="0.4400" stop-color="#ff1d00"/><stop offset="0.4600" stop-color="#ff2600"/><stop offset="0.4800" stop-color="#ff2e00"/><stop offset="0.4999" stop-color="#ff3700"/><stop offset="0.5000" stop-color="#ff3700"/><stop offset="0.5001" stop-color="#ff3700"/><stop offset="0.5200" stop-color="#ff4000"/><stop offset="0.5400" stop-color="#ff4900"/><stop offset="0.5600" stop-color="#ff5200"/><stop offset="0.5800" stop-color="#ff5c00"/><stop offset="0.6000" stop-color="#ff6500"/><stop offset="0.6200" stop-color="#ff6f00"/><stop offset="0.6400" stop-color="#ff7900"/><stop offset="0.6600" stop-color="#ff8200"/><stop offset="0.6800" stop-color="#ff8c00"/><stop offset="0.7000" stop-color="#ff9600"/><stop offset="0.7200" stop-color="#ff9f00"/><stop offset="0.7400" stop-color="#ffa900"/><stop offset="0.7600" stop-color="#ffb200"/><stop offset="0.7800" stop-color="#ffbc00"/><stop offset="0.8000" stop-color="#ffc500"/><stop offset="0.8200" stop-color="#ffcf00"/><stop offset="0.8400" stop-color="#ffd800"/><stop offset="0.8600" stop-color="#ffe200"/><stop offset="0.8800" stop-color="#ffec00"/><stop offset="0.9000" stop-color="#fff900"/><stop offset="0.9080" stop-color="#fffe00"/><stop offset="0.9200" stop-color="#ffff00"/><stop offset="0.9400" stop-color="#ffff00"/><stop offset="0.9550" stop-color="#ffff00"/><stop offset="0.9600" stop-color="#ffff26"/><stop offset="0.9750" stop-color="#ffff96"/><stop offset="0.9800" stop-color="#ffffa7"/><stop offset="1.0000" stop-color="#ffffeb"/></linearGradient>
<linearGradient id="g5_9" gradientUnits="userSpaceOnUse" x1="0" y1="1039.23" x2="0" y2="805.53"><stop offset="0.0000" stop-color="#0c0000"/><stop offset="0.0200" stop-color="#150000"/><stop offset="0.0400" stop-color="#1d0000"/><stop offset="0.0600" stop-color="#260000"/><stop offset="0.0800" stop-color="#320000"/><stop offset="0.1000" stop-color="#410000"/><stop offset="0.1200" stop-color="#4f0000"/><stop offset="0.1400" stop-color="#5e0000"/><stop offset="0.1600" stop-color="#6d0000"/><stop offset="0.1800" stop-color="#7d0000"/><stop offset="0.2000" stop-color="#8e0000"/><stop offset="0.2200" stop-color="#9f0000"/><stop offset="0.2400" stop-color="#b00000"/><stop offset="0.2600" stop-color="#c00000"/><stop offset="0.2800" stop-color="#cf0000"/><stop offset="0.3000" stop-color="#dd0000"/><stop offset="0.3200" stop-color="#ed0000"/><stop offset="0.3400" stop-color="#fd0000"/><stop offset="0.3430" stop-color="#ff0000"/><stop offset="0.3600" stop-color="#ff0000"/><stop offset="0.3800" stop-color="#ff0700"/><stop offset="0.4000" stop-color="#ff0d00"/><stop offset="0.4200" stop-color="#ff1400"/><stop offset="0.4400" stop-color="#ff1d00"/><stop offset="0.4600" stop-color="#ff2600"/><stop offset="0.4800" stop-color="#ff2e00"/><stop offset="0.4999" stop-color="#ff3700"/><stop offset="0.5000" stop-color="#ff3700"/><stop offset="0.5001" stop-color="#ff3700"/><stop offset="0.5200" stop-color="#ff4000"/><stop offset="0.5400" stop-color="#ff4900"/><stop offset="0.5600" stop-color="#ff5200"/><stop offset="0.5800" stop-color="#ff5c00"/><stop offset="0.6000" stop-color="#ff6500"/><stop offset="0.6200" stop-color="#ff6f00"/><stop offset="0.6400" stop-color="#ff7900"/><stop offset="0.6600" stop-color="#ff8200"/><stop offset="0.6800" stop-color="#ff8c00"/><stop offset="0.7000" stop-color="#ff9600"/><stop offset="0.7200" stop-color="#ff9f00"/><stop offset="0.7400" stop-color="#ffa900"/><stop offset="0.7600" stop-color="#ffb200"/><stop offset="0.7800" stop-color="#ffbc00"/><stop offset="0.8000" stop-color="#ffc500"/><stop offset="0.8200" stop-color="#ffcf00"/><stop offset="0.8400" stop-color="#ffd800"/><stop offset="0.8600" stop-color="#ffe200"/><stop offset="0.8800" stop-color="#ffec00"/><stop offset="0.9000" stop-color="#fff900"/><stop offset="0.9080" stop-color="#fffe00"/><stop offset="0.9200" stop-color="#ffff00"/><stop offset="0.9400" stop-color="#ffff00"/><stop offset="0.9550" stop-color="#ffff00"/><stop offset="0.9600" stop-color="#ffff26"/><stop offset="0.9750" stop-color="#ffff96"/><stop offset="0.9800" stop-color="#ffffa7"/><stop offset="1.0000" stop-color="#ffffeb"/></linearGradient>
<linearGradient id="g6_10" gradientUnits="userSpaceOnUse" x1="0" y1="1043.62" x2="0" y2="809.92"><stop offset="0.0000" stop-color="#0c0000"/><stop offset="0.0200" stop-color="#150000"/><stop offset="0.0400" stop-color="#1d0000"/><stop offset="0.0600" stop-color="#260000"/><stop offset="0.0800" stop-color="#320000"/><stop offset="0.1000" stop-color="#410000"/><stop offset="0.1200" stop-color="#4f0000"/><stop offset="0.1400" stop-color="#5e0000"/><stop offset="0.1600" stop-color="#6d0000"/><stop offset="0.1800" stop-color="#7d0000"/><stop offset="0.2000" stop-color="#8e0000"/><stop offset="0.2200" stop-color="#9f0000"/><stop offset="0.2400" stop-color="#b00000"/><stop offset="0.2600" stop-color="#c00000"/><stop offset="0.2800" stop-color="#cf0000"/><stop offset="0.3000" stop-color="#dd0000"/><stop offset="0.3200" stop-color="#ed0000"/><stop offset="0.3400" stop-color="#fd0000"/><stop offset="0.3430" stop-color="#ff0000"/><stop offset="0.3600" stop-color="#ff0000"/><stop offset="0.3800" stop-color="#ff0700"/><stop offset="0.4000" stop-color="#ff0d00"/><stop offset="0.4200" stop-color="#ff1400"/><stop offset="0.4400" stop-color="#ff1d00"/><stop offset="0.4600" stop-color="#ff2600"/><stop offset="0.4800" stop-color="#ff2e00"/><stop offset="0.4999" stop-color="#ff3700"/><stop offset="0.5000" stop-color="#ff3700"/><stop offset="0.5001" stop-color="#ff3700"/><stop offset="0.5200" stop-color="#ff4000"/><stop offset="0.5400" stop-color="#ff4900"/><stop offset="0.5600" stop-color="#ff5200"/><stop offset="0.5800" stop-color="#ff5c00"/><stop offset="0.6000" stop-color="#ff6500"/><stop offset="0.6200" stop-color="#ff6f00"/><stop offset="0.6400" stop-color="#ff7900"/><stop offset="0.6600" stop-color="#ff8200"/><stop offset="0.6800" stop-color="#ff8c00"/><stop offset="0.7000" stop-color="#ff9600"/><stop offset="0.7200" stop-color="#ff9f00"/><stop offset="0.7400" stop-color="#ffa900"/><stop offset="0.7600" stop-color="#ffb200"/><stop offset="0.7800" stop-color="#ffbc00"/><stop offset="0.8000" stop-color="#ffc500"/><stop offset="0.8200" stop-color="#ffcf00"/><stop offset="0.8400" stop-color="#ffd800"/><stop offset="0.8600" stop-color="#ffe200"/><stop offset="0.8800" stop-color="#ffec00"/><stop offset="0.9000" stop-color="#fff900"/><stop offset="0.9080" stop-color="#fffe00"/><stop offset="0.9200" stop-color="#ffff00"/><stop offset="0.9400" stop-color="#ffff00"/><stop offset="0.9550" stop-color="#ffff00"/><stop offset="0.9600" stop-color="#ffff26"/><stop offset="0.9750" stop-color="#ffff96"/><stop offset="0.9800" stop-color="#ffffa7"/><stop offset="1.0000" stop-color="#ffffeb"/></linearGradient>
<linearGradient id="g3_8" gradientUnits="userSpaceOnUse" x1="0" y1="1043.67" x2="0" y2="809.97"><stop offset="0.0000" stop-color="#0c0000"/><stop offset="0.0200" stop-color="#150000"/><stop offset="0.0400" stop-color="#1d0000"/><stop offset="0.0600" stop-color="#260000"/><stop offset="0.0800" stop-color="#320000"/><stop offset="0.1000" stop-color="#410000"/><stop offset="0.1200" stop-color="#4f0000"/><stop offset="0.1400" stop-color="#5e0000"/><stop offset="0.1600" stop-color="#6d0000"/><stop offset="0.1800" stop-color="#7d0000"/><stop offset="0.2000" stop-color="#8e0000"/><stop offset="0.2200" stop-color="#9f0000"/><stop offset="0.2400" stop-color="#b00000"/><stop offset="0.2600" stop-color="#c00000"/><stop offset="0.2800" stop-color="#cf0000"/><stop offset="0.3000" stop-color="#dd0000"/><stop offset="0.3200" stop-color="#ed0000"/><stop offset="0.3400" stop-color="#fd0000"/><stop offset="0.3430" stop-color="#ff0000"/><stop offset="0.3600" stop-color="#ff0000"/><stop offset="0.3800" stop-color="#ff0700"/><stop offset="0.4000" stop-color="#ff0d00"/><stop offset="0.4200" stop-color="#ff1400"/><stop offset="0.4400" stop-color="#ff1d00"/><stop offset="0.4600" stop-color="#ff2600"/><stop offset="0.4800" stop-color="#ff2e00"/><stop offset="0.4999" stop-color="#ff3700"/><stop offset="0.5000" stop-color="#ff3700"/><stop offset="0.5001" stop-color="#ff3700"/><stop offset="0.5200" stop-color="#ff4000"/><stop offset="0.5400" stop-color="#ff4900"/><stop offset="0.5600" stop-color="#ff5200"/><stop offset="0.5800" stop-color="#ff5c00"/><stop offset="0.6000" stop-color="#ff6500"/><stop offset="0.6200" stop-color="#ff6f00"/><stop offset="0.6400" stop-color="#ff7900"/><stop offset="0.6600" stop-color="#ff8200"/><stop offset="0.6800" stop-color="#ff8c00"/><stop offset="0.7000" stop-color="#ff9600"/><stop offset="0.7200" stop-color="#ff9f00"/><stop offset="0.7400" stop-color="#ffa900"/><stop offset="0.7600" stop-color="#ffb200"/><stop offset="0.7800" stop-color="#ffbc00"/><stop offset="0.8000" stop-color="#ffc500"/><stop offset="0.8200" stop-color="#ffcf00"/><stop offset="0.8400" stop-color="#ffd800"/><stop offset="0.8600" stop-color="#ffe200"/><stop offset="0.8800" stop-color="#ffec00"/><stop offset="0.9000" stop-color="#fff900"/><stop offset="0.9080" stop-color="#fffe00"/><stop offset="0.9200" stop-color="#ffff00"/><stop offset="0.9400" stop-color="#ffff00"/><stop offset="0.9550" stop-color="#ffff00"/><stop offset="0.9600" stop-color="#ffff26"/><stop offset="0.9750" stop-color="#ffff96"/><stop offset="0.9800" stop-color="#ffffa7"/><stop offset="1.0000" stop-color="#ffffeb"/></linearGradient>
<linearGradient id="g7_11" gradientUnits="userSpaceOnUse" x1="0" y1="1048.01" x2="0" y2="814.31"><stop offset="0.0000" stop-color="#0c0000"/><stop offset="0.0200" stop-color="#150000"/><stop offset="0.0400" stop-color="#1d0000"/><stop offset="0.0600" stop-color="#260000"/><stop offset="0.0800" stop-color="#320000"/><stop offset="0.1000" stop-color="#410000"/><stop offset="0.1200" stop-color="#4f0000"/><stop offset="0.1400" stop-color="#5e0000"/><stop offset="0.1600" stop-color="#6d0000"/><stop offset="0.1800" stop-color="#7d0000"/><stop offset="0.2000" stop-color="#8e0000"/><stop offset="0.2200" stop-color="#9f0000"/><stop offset="0.2400" stop-color="#b00000"/><stop offset="0.2600" stop-color="#c00000"/><stop offset="0.2800" stop-color="#cf0000"/><stop offset="0.3000" stop-color="#dd0000"/><stop offset="0.3200" stop-color="#ed0000"/><stop offset="0.3400" stop-color="#fd0000"/><stop offset="0.3430" stop-color="#ff0000"/><stop offset="0.3600" stop-color="#ff0000"/><stop offset="0.3800" stop-color="#ff0700"/><stop offset="0.4000" stop-color="#ff0d00"/><stop offset="0.4200" stop-color="#ff1400"/><stop offset="0.4400" stop-color="#ff1d00"/><stop offset="0.4600" stop-color="#ff2600"/><stop offset="0.4800" stop-color="#ff2e00"/><stop offset="0.4999" stop-color="#ff3700"/><stop offset="0.5000" stop-color="#ff3700"/><stop offset="0.5001" stop-color="#ff3700"/><stop offset="0.5200" stop-color="#ff4000"/><stop offset="0.5400" stop-color="#ff4900"/><stop offset="0.5600" stop-color="#ff5200"/><stop offset="0.5800" stop-color="#ff5c00"/><stop offset="0.6000" stop-color="#ff6500"/><stop offset="0.6200" stop-color="#ff6f00"/><stop offset="0.6400" stop-color="#ff7900"/><stop offset="0.6600" stop-color="#ff8200"/><stop offset="0.6800" stop-color="#ff8c00"/><stop offset="0.7000" stop-color="#ff9600"/><stop offset="0.7200" stop-color="#ff9f00"/><stop offset="0.7400" stop-color="#ffa900"/><stop offset="0.7600" stop-color="#ffb200"/><stop offset="0.7800" stop-color="#ffbc00"/><stop offset="0.8000" stop-color="#ffc500"/><stop offset="0.8200" stop-color="#ffcf00"/><stop offset="0.8400" stop-color="#ffd800"/><stop offset="0.8600" stop-color="#ffe200"/><stop offset="0.8800" stop-color="#ffec00"/><stop offset="0.9000" stop-color="#fff900"/><stop offset="0.9080" stop-color="#fffe00"/><stop offset="0.9200" stop-color="#ffff00"/><stop offset="0.9400" stop-color="#ffff00"/><stop offset="0.9550" stop-color="#ffff00"/><stop offset="0.9600" stop-color="#ffff26"/><stop offset="0.9750" stop-color="#ffff96"/><stop offset="0.9800" stop-color="#ffffa7"/><stop offset="1.0000" stop-color="#ffffeb"/></linearGradient>
<linearGradient id="g8_12" gradientUnits="userSpaceOnUse" x1="0" y1="1052.40" x2="0" y2="818.70"><stop offset="0.0000" stop-color="#0c0000"/><stop offset="0.0200" stop-color="#150000"/><stop offset="0.0400" stop-color="#1d0000"/><stop offset="0.0600" stop-color="#260000"/><stop offset="0.0800" stop-color="#320000"/><stop offset="0.1000" stop-color="#410000"/><stop offset="0.1200" stop-color="#4f0000"/><stop offset="0.1400" stop-color="#5e0000"/><stop offset="0.1600" stop-color="#6d0000"/><stop offset="0.1800" stop-color="#7d0000"/><stop offset="0.2000" stop-color="#8e0000"/><stop offset="0.2200" stop-color="#9f0000"/><stop offset="0.2400" stop-color="#b00000"/><stop offset="0.2600" stop-color="#c00000"/><stop offset="0.2800" stop-color="#cf0000"/><stop offset="0.3000" stop-color="#dd0000"/><stop offset="0.3200" stop-color="#ed0000"/><stop offset="0.3400" stop-color="#fd0000"/><stop offset="0.3430" stop-color="#ff0000"/><stop offset="0.3600" stop-color="#ff0000"/><stop offset="0.3800" stop-color="#ff0700"/><stop offset="0.4000" stop-color="#ff0d00"/><stop offset="0.4200" stop-color="#ff1400"/><stop offset="0.4400" stop-color="#ff1d00"/><stop offset="0.4600" stop-color="#ff2600"/><stop offset="0.4800" stop-color="#ff2e00"/><stop offset="0.4999" stop-color="#ff3700"/><stop offset="0.5000" stop-color="#ff3700"/><stop offset="0.5001" stop-color="#ff3700"/><stop offset="0.5200" stop-color="#ff4000"/><stop offset="0.5400" stop-color="#ff4900"/><stop offset="0.5600" stop-color="#ff5200"/><stop offset="0.5800" stop-color="#ff5c00"/><stop offset="0.6000" stop-color="#ff6500"/><stop offset="0.6200" stop-color="#ff6f00"/><stop offset="0.6400" stop-color="#ff7900"/><stop offset="0.6600" stop-color="#ff8200"/><stop offset="0.6800" stop-color="#ff8c00"/><stop offset="0.7000" stop-color="#ff9600"/><stop offset="0.7200" stop-color="#ff9f00"/><stop offset="0.7400" stop-color="#ffa900"/><stop offset="0.7600" stop-color="#ffb200"/><stop offset="0.7800" stop-color="#ffbc00"/><stop offset="0.8000" stop-color="#ffc500"/><stop offset="0.8200" stop-color="#ffcf00"/><stop offset="0.8400" stop-color="#ffd800"/><stop offset="0.8600" stop-color="#ffe200"/><stop offset="0.8800" stop-color="#ffec00"/><stop offset="0.9000" stop-color="#fff900"/><stop offset="0.9080" stop-color="#fffe00"/><stop offset="0.9200" stop-color="#ffff00"/><stop offset="0.9400" stop-color="#ffff00"/><stop offset="0.9550" stop-color="#ffff00"/><stop offset="0.9600" stop-color="#ffff26"/><stop offset="0.9750" stop-color="#ffff96"/><stop offset="0.9800" stop-color="#ffffa7"/><stop offset="1.0000" stop-color="#ffffeb"/></linearGradient>
<linearGradient id="g5_10" gradientUnits="userSpaceOnUse" x1="0" y1="1052.45" x2="0" y2="818.75"><stop offset="0.0000" stop-color="#0c0000"/><stop offset="0.0200" stop-color="#150000"/><stop offset="0.0400" stop-color="#1d0000"/><stop offset="0.0600" stop-color="#260000"/><stop offset="0.0800" stop-color="#320000"/><stop offset="0.1000" stop-color="#410000"/><stop offset="0.1200" stop-color="#4f0000"/><stop offset="0.1400" stop-color="#5e0000"/><stop offset="0.1600" stop-color="#6d0000"/><stop offset="0.1800" stop-color="#7d0000"/><stop offset="0.2000" stop-color="#8e0000"/><stop offset="0.2200" stop-color="#9f0000"/><stop offset="0.2400" stop-color="#b00000"/><stop offset="0.2600" stop-color="#c00000"/><stop offset="0.2800" stop-color="#cf0000"/><stop offset="0.3000" stop-color="#dd0000"/><stop offset="0.3200" stop-color="#ed0000"/><stop offset="0.3400" stop-color="#fd0000"/><stop offset="0.3430" stop-color="#ff0000"/><stop offset="0.3600" stop-color="#ff0000"/><stop offset="0.3800" stop-color="#ff0700"/><stop offset="0.4000" stop-color="#ff0d00"/><stop offset="0.4200" stop-color="#ff1400"/><stop offset="0.4400" stop-color="#ff1d00"/><stop offset="0.4600" stop-color="#ff2600"/><stop offset="0.4800" stop-color="#ff2e00"/><stop offset="0.4999" stop-color="#ff3700"/><stop offset="0.5000" stop-color="#ff3700"/><stop offset="0.5001" stop-color="#ff3700"/><stop offset="0.5200" stop-color="#ff4000"/><stop offset="0.5400" stop-color="#ff4900"/><stop offset="0.5600" stop-color="#ff5200"/><stop offset="0.5800" stop-color="#ff5c00"/><stop offset="0.6000" stop-color="#ff6500"/><stop offset="0.6200" stop-color="#ff6f00"/><stop offset="0.6400" stop-color="#ff7900"/><stop offset="0.6600" stop-color="#ff8200"/><stop offset="0.6800" stop-color="#ff8c00"/><stop offset="0.7000" stop-color="#ff9600"/><stop offset="0.7200" stop-color="#ff9f00"/><stop offset="0.7400" stop-color="#ffa900"/><stop offset="0.7600" stop-color="#ffb200"/><stop offset="0.7800" stop-color="#ffbc00"/><stop offset="0.8000" stop-color="#ffc500"/><stop offset="0.8200" stop-color="#ffcf00"/><stop offset="0.8400" stop-color="#ffd800"/><stop offset="0.8600" stop-color="#ffe200"/><stop offset="0.8800" stop-color="#ffec00"/><stop offset="0.9000" stop-color="#fff900"/><stop offset="0.9080" stop-color="#fffe00"/><stop offset="0.9200" stop-color="#ffff00"/><stop offset="0.9400" stop-color="#ffff00"/><stop offset="0.9550" stop-color="#ffff00"/><stop offset="0.9600" stop-color="#ffff26"/><stop offset="0.9750" stop-color="#ffff96"/><stop offset="0.9800" stop-color="#ffffa7"/><stop offset="1.0000" stop-color="#ffffeb"/></linearGradient>
<linearGradient id="g7_12" gradientUnits="userSpaceOnUse" x1="0" y1="1061.23" x2="0" y2="827.53"><stop offset="0.0000" stop-color="#0c0000"/><stop offset="0.0200" stop-color="#150000"/><stop offset="0.0400" stop-color="#1d0000"/><stop offset="0.0600" stop-color="#260000"/><stop offset="0.0800" stop-color="#320000"/><stop offset="0.1000" stop-color="#410000"/><stop offset="0.1200" stop-color="#4f0000"/><stop offset="0.1400" stop-color="#5e0000"/><stop offset="0.1600" stop-color="#6d0000"/><stop offset="0.1800" stop-color="#7d0000"/><stop offset="0.2000" stop-color="#8e0000"/><stop offset="0.2200" stop-color="#9f0000"/><stop offset="0.2400" stop-color="#b00000"/><stop offset="0.2600" stop-color="#c00000"/><stop offset="0.2800" stop-color="#cf0000"/><stop offset="0.3000" stop-color="#dd0000"/><stop offset="0.3200" stop-color="#ed0000"/><stop offset="0.3400" stop-color="#fd0000"/><stop offset="0.3430" stop-color="#ff0000"/><stop offset="0.3600" stop-color="#ff0000"/><stop offset="0.3800" stop-color="#ff0700"/><stop offset="0.4000" stop-color="#ff0d00"/><stop offset="0.4200" stop-color="#ff1400"/><stop offset="0.4400" stop-color="#ff1d00"/><stop offset="0.4600" stop-color="#ff2600"/><stop offset="0.4800" stop-color="#ff2e00"/><stop offset="0.4999" stop-color="#ff3700"/><stop offset="0.5000" stop-color="#ff3700"/><stop offset="0.5001" stop-color="#ff3700"/><stop offset="0.5200" stop-color="#ff4000"/><stop offset="0.5400" stop-color="#ff4900"/><stop offset="0.5600" stop-color="#ff5200"/><stop offset="0.5800" stop-color="#ff5c00"/><stop offset="0.6000" stop-color="#ff6500"/><stop offset="0.6200" stop-color="#ff6f00"/><stop offset="0.6400" stop-color="#ff7900"/><stop offset="0.6600" stop-color="#ff8200"/><stop offset="0.6800" stop-color="#ff8c00"/><stop offset="0.7000" stop-color="#ff9600"/><stop offset="0.7200" stop-color="#ff9f00"/><stop offset="0.7400" stop-color="#ffa900"/><stop offset="0.7600" stop-color="#ffb200"/><stop offset="0.7800" stop-color="#ffbc00"/><stop offset="0.8000" stop-color="#ffc500"/><stop offset="0.8200" stop-color="#ffcf00"/><stop offset="0.8400" stop-color="#ffd800"/><stop offset="0.8600" stop-color="#ffe200"/><stop offset="0.8800" stop-color="#ffec00"/><stop offset="0.9000" stop-color="#fff900"/><stop offset="0.9080" stop-color="#fffe00"/><stop offset="0.9200" stop-color="#ffff00"/><stop offset="0.9400" stop-color="#ffff00"/><stop offset="0.9550" stop-color="#ffff00"/><stop offset="0.9600" stop-color="#ffff26"/><stop offset="0.9750" stop-color="#ffff96"/><stop offset="0.9800" stop-color="#ffffa7"/><stop offset="1.0000" stop-color="#ffffeb"/></linearGradient>
<linearGradient id="g2_9" gradientUnits="userSpaceOnUse" x1="0" y1="1065.72" x2="0" y2="832.02"><stop offset="0.0000" stop-color="#0c0000"/><stop offset="0.0200" stop-color="#150000"/><stop offset="0.0400" stop-color="#1d0000"/><stop offset="0.0600" stop-color="#260000"/><stop offset="0.0800" stop-color="#320000"/><stop offset="0.1000" stop-color="#410000"/><stop offset="0.1200" stop-color="#4f0000"/><stop offset="0.1400" stop-color="#5e0000"/><stop offset="0.1600" stop-color="#6d0000"/><stop offset="0.1800" stop-color="#7d0000"/><stop offset="0.2000" stop-color="#8e0000"/><stop offset="0.2200" stop-color="#9f0000"/><stop offset="0.2400" stop-color="#b00000"/><stop offset="0.2600" stop-color="#c00000"/><stop offset="0.2800" stop-color="#cf0000"/><stop offset="0.3000" stop-color="#dd0000"/><stop offset="0.3200" stop-color="#ed0000"/><stop offset="0.3400" stop-color="#fd0000"/><stop offset="0.3430" stop-color="#ff0000"/><stop offset="0.3600" stop-color="#ff0000"/><stop offset="0.3800" stop-color="#ff0700"/><stop offset="0.4000" stop-color="#ff0d00"/><stop offset="0.4200" stop-color="#ff1400"/><stop offset="0.4400" stop-color="#ff1d00"/><stop offset="0.4600" stop-color="#ff2600"/><stop offset="0.4800" stop-color="#ff2e00"/><stop offset="0.4999" stop-color="#ff3700"/><stop offset="0.5000" stop-color="#ff3700"/><stop offset="0.5001" stop-color="#ff3700"/><stop offset="0.5200" stop-color="#ff4000"/><stop offset="0.5400" stop-color="#ff4900"/><stop offset="0.5600" stop-color="#ff5200"/><stop offset="0.5800" stop-color="#ff5c00"/><stop offset="0.6000" stop-color="#ff6500"/><stop offset="0.6200" stop-color="#ff6f00"/><stop offset="0.6400" stop-color="#ff7900"/><stop offset="0.6600" stop-color="#ff8200"/><stop offset="0.6800" stop-color="#ff8c00"/><stop offset="0.7000" stop-color="#ff9600"/><stop offset="0.7200" stop-color="#ff9f00"/><stop offset="0.7400" stop-color="#ffa900"/><stop offset="0.7600" stop-color="#ffb200"/><stop offset="0.7800" stop-color="#ffbc00"/><stop offset="0.8000" stop-color="#ffc500"/><stop offset="0.8200" stop-color="#ffcf00"/><stop offset="0.8400" stop-color="#ffd800"/><stop offset="0.8600" stop-color="#ffe200"/><stop offset="0.8800" stop-color="#ffec00"/><stop offset="0.9000" stop-color="#fff900"/><stop offset="0.9080" stop-color="#fffe00"/><stop offset="0.9200" stop-color="#ffff00"/><stop offset="0.9400" stop-color="#ffff00"/><stop offset="0.9550" stop-color="#ffff00"/><stop offset="0.9600" stop-color="#ffff26"/><stop offset="0.9750" stop-color="#ffff96"/><stop offset="0.9800" stop-color="#ffffa7"/><stop offset="1.0000" stop-color="#ffffeb"/></linearGradient>
<linearGradient id="g4_11" gradientUnits="userSpaceOnUse" x1="0" y1="1074.50" x2="0" y2="840.80"><stop offset="0.0000" stop-color="#0c0000"/><stop offset="0.0200" stop-color="#150000"/><stop offset="0.0400" stop-color="#1d0000"/><stop offset="0.0600" stop-color="#260000"/><stop offset="0.0800" stop-color="#320000"/><stop offset="0.1000" stop-color="#410000"/><stop offset="0.1200" stop-color="#4f0000"/><stop offset="0.1400" stop-color="#5e0000"/><stop offset="0.1600" stop-color="#6d0000"/><stop offset="0.1800" stop-color="#7d0000"/><stop offset="0.2000" stop-color="#8e0000"/><stop offset="0.2200" stop-color="#9f0000"/><stop offset="0.2400" stop-color="#b00000"/><stop offset="0.2600" stop-color="#c00000"/><stop offset="0.2800" stop-color="#cf0000"/><stop offset="0.3000" stop-color="#dd0000"/><stop offset="0.3200" stop-color="#ed0000"/><stop offset="0.3400" stop-color="#fd0000"/><stop offset="0.3430" stop-color="#ff0000"/><stop offset="0.3600" stop-color="#ff0000"/><stop offset="0.3800" stop-color="#ff0700"/><stop offset="0.4000" stop-color="#ff0d00"/><stop offset="0.4200" stop-color="#ff1400"/><stop offset="0.4400" stop-color="#ff1d00"/><stop offset="0.4600" stop-color="#ff2600"/><stop offset="0.4800" stop-color="#ff2e00"/><stop offset="0.4999" stop-color="#ff3700"/><stop offset="0.5000" stop-color="#ff3700"/><stop offset="0.5001" stop-color="#ff3700"/><stop offset="0.5200" stop-color="#ff4000"/><stop offset="0.5400" stop-color="#ff4900"/><stop offset="0.5600" stop-color="#ff5200"/><stop offset="0.5800" stop-color="#ff5c00"/><stop offset="0.6000" stop-color="#ff6500"/><stop offset="0.6200" stop-color="#ff6f00"/><stop offset="0.6400" stop-color="#ff7900"/><stop offset="0.6600" stop-color="#ff8200"/><stop offset="0.6800" stop-color="#ff8c00"/><stop offset="0.7000" stop-color="#ff9600"/><stop offset="0.7200" stop-color="#ff9f00"/><stop offset="0.7400" stop-color="#ffa900"/><stop offset="0.7600" stop-color="#ffb200"/><stop offset="0.7800" stop-color="#ffbc00"/><stop offset="0.8000" stop-color="#ffc500"/><stop offset="0.8200" stop-color="#ffcf00"/><stop offset="0.8400" stop-color="#ffd800"/><stop offset="0.8600" stop-color="#ffe200"/><stop offset="0.8800" stop-color="#ffec00"/><stop offset="0.9000" stop-color="#fff900"/><stop offset="0.9080" stop-color="#fffe00"/><stop offset="0.9200" stop-color="#ffff00"/><stop offset="0.9400" stop-color="#ffff00"/><stop offset="0.9550" stop-color="#ffff00"/><stop offset="0.9600" stop-color="#ffff26"/><stop offset="0.9750" stop-color="#ffff96"/><stop offset="0.9800" stop-color="#ffffa7"/><stop offset="1.0000" stop-color="#ffffeb"/></linearGradient>
<linearGradient id="g1_9" gradientUnits="userSpaceOnUse" x1="0" y1="1074.55" x2="0" y2="840.85"><stop offset="0.0000" stop-color="#0c0000"/><stop offset="0.0200" stop-color="#150000"/><stop offset="0.0400" stop-color="#1d0000"/><stop offset="0.0600" stop-color="#260000"/><stop offset="0.0800" stop-color="#320000"/><stop offset="0.1000" stop-color="#410000"/><stop offset="0.1200" stop-color="#4f0000"/><stop offset="0.1400" stop-color="#5e0000"/><stop offset="0.1600" stop-color="#6d0000"/><stop offset="0.1800" stop-color="#7d0000"/><stop offset="0.2000" stop-color="#8e0000"/><stop offset="0.2200" stop-color="#9f0000"/><stop offset="0.2400" stop-color="#b00000"/><stop offset="0.2600" stop-color="#c00000"/><stop offset="0.2800" stop-color="#cf0000"/><stop offset="0.3000" stop-color="#dd0000"/><stop offset="0.3200" stop-color="#ed0000"/><stop offset="0.3400" stop-color="#fd0000"/><stop offset="0.3430" stop-color="#ff0000"/><stop offset="0.3600" stop-color="#ff0000"/><stop offset="0.3800" stop-color="#ff0700"/><stop offset="0.4000" stop-color="#ff0d00"/><stop offset="0.4200" stop-color="#ff1400"/><stop offset="0.4400" stop-color="#ff1d00"/><stop offset="0.4600" stop-color="#ff2600"/><stop offset="0.4800" stop-color="#ff2e00"/><stop offset="0.4999" stop-color="#ff3700"/><stop offset="0.5000" stop-color="#ff3700"/><stop offset="0.5001" stop-color="#ff3700"/><stop offset="0.5200" stop-color="#ff4000"/><stop offset="0.5400" stop-color="#ff4900"/><stop offset="0.5600" stop-color="#ff5200"/><stop offset="0.5800" stop-color="#ff5c00"/><stop offset="0.6000" stop-color="#ff6500"/><stop offset="0.6200" stop-color="#ff6f00"/><stop offset="0.6400" stop-color="#ff7900"/><stop offset="0.6600" stop-color="#ff8200"/><stop offset="0.6800" stop-color="#ff8c00"/><stop offset="0.7000" stop-color="#ff9600"/><stop offset="0.7200" stop-color="#ff9f00"/><stop offset="0.7400" stop-color="#ffa900"/><stop offset="0.7600" stop-color="#ffb200"/><stop offset="0.7800" stop-color="#ffbc00"/><stop offset="0.8000" stop-color="#ffc500"/><stop offset="0.8200" stop-color="#ffcf00"/><stop offset="0.8400" stop-color="#ffd800"/><stop offset="0.8600" stop-color="#ffe200"/><stop offset="0.8800" stop-color="#ffec00"/><stop offset="0.9000" stop-color="#fff900"/><stop offset="0.9080" stop-color="#fffe00"/><stop offset="0.9200" stop-color="#ffff00"/><stop offset="0.9400" stop-color="#ffff00"/><stop offset="0.9550" stop-color="#ffff00"/><stop offset="0.9600" stop-color="#ffff26"/><stop offset="0.9750" stop-color="#ffff96"/><stop offset="0.9800" stop-color="#ffffa7"/><stop offset="1.0000" stop-color="#ffffeb"/></linearGradient>
<linearGradient id="g2_10" gradientUnits="userSpaceOnUse" x1="0" y1="1078.94" x2="0" y2="845.24"><stop offset="0.0000" stop-color="#0c0000"/><stop offset="0.0200" stop-color="#150000"/><stop offset="0.0400" stop-color="#1d0000"/><stop offset="0.0600" stop-color="#260000"/><stop offset="0.0800" stop-color="#320000"/><stop offset="0.1000" stop-color="#410000"/><stop offset="0.1200" stop-color="#4f0000"/><stop offset="0.1400" stop-color="#5e0000"/><stop offset="0.1600" stop-color="#6d0000"/><stop offset="0.1800" stop-color="#7d0000"/><stop offset="0.2000" stop-color="#8e0000"/><stop offset="0.2200" stop-color="#9f0000"/><stop offset="0.2400" stop-color="#b00000"/><stop offset="0.2600" stop-color="#c00000"/><stop offset="0.2800" stop-color="#cf0000"/><stop offset="0.3000" stop-color="#dd0000"/><stop offset="0.3200" stop-color="#ed0000"/><stop offset="0.3400" stop-color="#fd0000"/><stop offset="0.3430" stop-color="#ff0000"/><stop offset="0.3600" stop-color="#ff0000"/><stop offset="0.3800" stop-color="#ff0700"/><stop offset="0.4000" stop-color="#ff0d00"/><stop offset="0.4200" stop-color="#ff1400"/><stop offset="0.4400" stop-color="#ff1d00"/><stop offset="0.4600" stop-color="#ff2600"/><stop offset="0.4800" stop-color="#ff2e00"/><stop offset="0.4999" stop-color="#ff3700"/><stop offset="0.5000" stop-color="#ff3700"/><stop offset="0.5001" stop-color="#ff3700"/><stop offset="0.5200" stop-color="#ff4000"/><stop offset="0.5400" stop-color="#ff4900"/><stop offset="0.5600" stop-color="#ff5200"/><stop offset="0.5800" stop-color="#ff5c00"/><stop offset="0.6000" stop-color="#ff6500"/><stop offset="0.6200" stop-color="#ff6f00"/><stop offset="0.6400" stop-color="#ff7900"/><stop offset="0.6600" stop-color="#ff8200"/><stop offset="0.6800" stop-color="#ff8c00"/><stop offset="0.7000" stop-color="#ff9600"/><stop offset="0.7200" stop-color="#ff9f00"/><stop offset="0.7400" stop-color="#ffa900"/><stop offset="0.7600" stop-color="#ffb200"/><stop offset="0.7800" stop-color="#ffbc00"/><stop offset="0.8000" stop-color="#ffc500"/><stop offset="0.8200" stop-color="#ffcf00"/><stop offset="0.8400" stop-color="#ffd800"/><stop offset="0.8600" stop-color="#ffe200"/><stop offset="0.8800" stop-color="#ffec00"/><stop offset="0.9000" stop-color="#fff900"/><stop offset="0.9080" stop-color="#fffe00"/><stop offset="0.9200" stop-color="#ffff00"/><stop offset="0.9400" stop-color="#ffff00"/><stop offset="0.9550" stop-color="#ffff00"/><stop offset="0.9600" stop-color="#ffff26"/><stop offset="0.9750" stop-color="#ffff96"/><stop offset="0.9800" stop-color="#ffffa7"/><stop offset="1.0000" stop-color="#ffffeb"/></linearGradient>
<linearGradient id="g3_11" gradientUnits="userSpaceOnUse" x1="0" y1="1083.33" x2="0" y2="849.63"><stop offset="0.0000" stop-color="#0c0000"/><stop offset="0.0200" stop-color="#150000"/><stop offset="0.0400" stop-color="#1d0000"/><stop offset="0.0600" stop-color="#260000"/><stop offset="0.0800" stop-color="#320000"/><stop offset="0.1000" stop-color="#410000"/><stop offset="0.1200" stop-color="#4f0000"/><stop offset="0.1400" stop-color="#5e0000"/><stop offset="0.1600" stop-color="#6d0000"/><stop offset="0.1800" stop-color="#7d0000"/><stop offset="0.2000" stop-color="#8e0000"/><stop offset="0.2200" stop-color="#9f0000"/><stop offset="0.2400" stop-color="#b00000"/><stop offset="0.2600" stop-color="#c00000"/><stop offset="0.2800" stop-color="#cf0000"/><stop offset="0.3000" stop-color="#dd0000"/><stop offset="0.3200" stop-color="#ed0000"/><stop offset="0.3400" stop-color="#fd0000"/><stop offset="0.3430" stop-color="#ff0000"/><stop offset="0.3600" stop-color="#ff0000"/><stop offset="0.3800" stop-color="#ff0700"/><stop offset="0.4000" stop-color="#ff0d00"/><stop offset="0.4200" stop-color="#ff1400"/><stop offset="0.4400" stop-color="#ff1d00"/><stop offset="0.4600" stop-color="#ff2600"/><stop offset="0.4800" stop-color="#ff2e00"/><stop offset="0.4999" stop-color="#ff3700"/><stop offset="0.5000" stop-color="#ff3700"/><stop offset="0.5001" stop-color="#ff3700"/><stop offset="0.5200" stop-color="#ff4000"/><stop offset="0.5400" stop-color="#ff4900"/><stop offset="0.5600" stop-color="#ff5200"/><stop offset="0.5800" stop-color="#ff5c00"/><stop offset="0.6000" stop-color="#ff6500"/><stop offset="0.6200" stop-color="#ff6f00"/><stop offset="0.6400" stop-color="#ff7900"/><stop offset="0.6600" stop-color="#ff8200"/><stop offset="0.6800" stop-color="#ff8c00"/><stop offset="0.7000" stop-color="#ff9600"/><stop offset="0.7200" stop-color="#ff9f00"/><stop offset="0.7400" stop-color="#ffa900"/><stop offset="0.7600" stop-color="#ffb200"/><stop offset="0.7800" stop-color="#ffbc00"/><stop offset="0.8000" stop-color="#ffc500"/><stop offset="0.8200" stop-color="#ffcf00"/><stop offset="0.8400" stop-color="#ffd800"/><stop offset="0.8600" stop-color="#ffe200"/><stop offset="0.8800" stop-color="#ffec00"/><stop offset="0.9000" stop-color="#fff900"/><stop offset="0.9080" stop-color="#fffe00"/><stop offset="0.9200" stop-color="#ffff00"/><stop offset="0.9400" stop-color="#ffff00"/><stop offset="0.9550" stop-color="#ffff00"/><stop offset="0.9600" stop-color="#ffff26"/><stop offset="0.9750" stop-color="#ffff96"/><stop offset="0.9800" stop-color="#ffffa7"/><stop offset="1.0000" stop-color="#ffffeb"/></linearGradient>
<linearGradient id="g4_12" gradientUnits="userSpaceOnUse" x1="0" y1="1087.72" x2="0" y2="854.02"><stop offset="0.0000" stop-color="#0c0000"/><stop offset="0.0200" stop-color="#150000"/><stop offset="0.0400" stop-color="#1d0000"/><stop offset="0.0600" stop-color="#260000"/><stop offset="0.0800" stop-color="#320000"/><stop offset="0.1000" stop-color="#410000"/><stop offset="0.1200" stop-color="#4f0000"/><stop offset="0.1400" stop-color="#5e0000"/><stop offset="0.1600" stop-color="#6d0000"/><stop offset="0.1800" stop-color="#7d0000"/><stop offset="0.2000" stop-color="#8e0000"/><stop offset="0.2200" stop-color="#9f0000"/><stop offset="0.2400" stop-color="#b00000"/><stop offset="0.2600" stop-color="#c00000"/><stop offset="0.2800" stop-color="#cf0000"/><stop offset="0.3000" stop-color="#dd0000"/><stop offset="0.3200" stop-color="#ed0000"/><stop offset="0.3400" stop-color="#fd0000"/><stop offset="0.3430" stop-color="#ff0000"/><stop offset="0.3600" stop-color="#ff0000"/><stop offset="0.3800" stop-color="#ff0700"/><stop offset="0.4000" stop-color="#ff0d00"/><stop offset="0.4200" stop-color="#ff1400"/><stop offset="0.4400" stop-color="#ff1d00"/><stop offset="0.4600" stop-color="#ff2600"/><stop offset="0.4800" stop-color="#ff2e00"/><stop offset="0.4999" stop-color="#ff3700"/><stop offset="0.5000" stop-color="#ff3700"/><stop offset="0.5001" stop-color="#ff3700"/><stop offset="0.5200" stop-color="#ff4000"/><stop offset="0.5400" stop-color="#ff4900"/><stop offset="0.5600" stop-color="#ff5200"/><stop offset="0.5800" stop-color="#ff5c00"/><stop offset="0.6000" stop-color="#ff6500"/><stop offset="0.6200" stop-color="#ff6f00"/><stop offset="0.6400" stop-color="#ff7900"/><stop offset="0.6600" stop-color="#ff8200"/><stop offset="0.6800" stop-color="#ff8c00"/><stop offset="0.7000" stop-color="#ff9600"/><stop offset="0.7200" stop-color="#ff9f00"/><stop offset="0.7400" stop-color="#ffa900"/><stop offset="0.7600" stop-color="#ffb200"/><stop offset="0.7800" stop-color="#ffbc00"/><stop offset="0.8000" stop-color="#ffc500"/><stop offset="0.8200" stop-color="#ffcf00"/><stop offset="0.8400" stop-color="#ffd800"/><stop offset="0.8600" stop-color="#ffe200"/><stop offset="0.8800" stop-color="#ffec00"/><stop offset="0.9000" stop-color="#fff900"/><stop offset="0.9080" stop-color="#fffe00"/><stop offset="0.9200" stop-color="#ffff00"/><stop offset="0.9400" stop-color="#ffff00"/><stop offset="0.9550" stop-color="#ffff00"/><stop offset="0.9600" stop-color="#ffff26"/><stop offset="0.9750" stop-color="#ffff96"/><stop offset="0.9800" stop-color="#ffffa7"/><stop offset="1.0000" stop-color="#ffffeb"/></linearGradient>
<linearGradient id="g1_10" gradientUnits="userSpaceOnUse" x1="0" y1="1087.77" x2="0" y2="854.07"><stop offset="0.0000" stop-color="#0c0000"/><stop offset="0.0200" stop-color="#150000"/><stop offset="0.0400" stop-color="#1d0000"/><stop offset="0.0600" stop-color="#260000"/><stop offset="0.0800" stop-color="#320000"/><stop offset="0.1000" stop-color="#410000"/><stop offset="0.1200" stop-color="#4f0000"/><stop offset="0.1400" stop-color="#5e0000"/><stop offset="0.1600" stop-color="#6d0000"/><stop offset="0.1800" stop-color="#7d0000"/><stop offset="0.2000" stop-color="#8e0000"/><stop offset="0.2200" stop-color="#9f0000"/><stop offset="0.2400" stop-color="#b00000"/><stop offset="0.2600" stop-color="#c00000"/><stop offset="0.2800" stop-color="#cf0000"/><stop offset="0.3000" stop-color="#dd0000"/><stop offset="0.3200" stop-color="#ed0000"/><stop offset="0.3400" stop-color="#fd0000"/><stop offset="0.3430" stop-color="#ff0000"/><stop offset="0.3600" stop-color="#ff0000"/><stop offset="0.3800" stop-color="#ff0700"/><stop offset="0.4000" stop-color="#ff0d00"/><stop offset="0.4200" stop-color="#ff1400"/><stop offset="0.4400" stop-color="#ff1d00"/><stop offset="0.4600" stop-color="#ff2600"/><stop offset="0.4800" stop-color="#ff2e00"/><stop offset="0.4999" stop-color="#ff3700"/><stop offset="0.5000" stop-color="#ff3700"/><stop offset="0.5001" stop-color="#ff3700"/><stop offset="0.5200" stop-color="#ff4000"/><stop offset="0.5400" stop-color="#ff4900"/><stop offset="0.5600" stop-color="#ff5200"/><stop offset="0.5800" stop-color="#ff5c00"/><stop offset="0.6000" stop-color="#ff6500"/><stop offset="0.6200" stop-color="#ff6f00"/><stop offset="0.6400" stop-color="#ff7900"/><stop offset="0.6600" stop-color="#ff8200"/><stop offset="0.6800" stop-color="#ff8c00"/><stop offset="0.7000" stop-color="#ff9600"/><stop offset="0.7200" stop-color="#ff9f00"/><stop offset="0.7400" stop-color="#ffa900"/><stop offset="0.7600" stop-color="#ffb200"/><stop offset="0.7800" stop-color="#ffbc00"/><stop offset="0.8000" stop-color="#ffc500"/><stop offset="0.8200" stop-color="#ffcf00"/><stop offset="0.8400" stop-color="#ffd800"/><stop offset="0.8600" stop-color="#ffe200"/><stop offset="0.8800" stop-color="#ffec00"/><stop offset="0.9000" stop-color="#fff900"/><stop offset="0.9080" stop-color="#fffe00"/><stop offset="0.9200" stop-color="#ffff00"/><stop offset="0.9400" stop-color="#ffff00"/><stop offset="0.9550" stop-color="#ffff00"/><stop offset="0.9600" stop-color="#ffff26"/><stop offset="0.9750" stop-color="#ffff96"/><stop offset="0.9800" stop-color="#ffffa7"/><stop offset="1.0000" stop-color="#ffffeb"/></linearGradient>
<linearGradient id="g3_12" gradientUnits="userSpaceOnUse" x1="0" y1="1096.55" x2="0" y2="862.85"><stop offset="0.0000" stop-color="#0c0000"/><stop offset="0.0200" stop-color="#150000"/><stop offset="0.0400" stop-color="#1d0000"/><stop offset="0.0600" stop-color="#260000"/><stop offset="0.0800" stop-color="#320000"/><stop offset="0.1000" stop-color="#410000"/><stop offset="0.1200" stop-color="#4f0000"/><stop offset="0.1400" stop-color="#5e0000"/><stop offset="0.1600" stop-color="#6d0000"/><stop offset="0.1800" stop-color="#7d0000"/><stop offset="0.2000" stop-color="#8e0000"/><stop offset="0.2200" stop-color="#9f0000"/><stop offset="0.2400" stop-color="#b00000"/><stop offset="0.2600" stop-color="#c00000"/><stop offset="0.2800" stop-color="#cf0000"/><stop offset="0.3000" stop-color="#dd0000"/><stop offset="0.3200" stop-color="#ed0000"/><stop offset="0.3400" stop-color="#fd0000"/><stop offset="0.3430" stop-color="#ff0000"/><stop offset="0.3600" stop-color="#ff0000"/><stop offset="0.3800" stop-color="#ff0700"/><stop offset="0.4000" stop-color="#ff0d00"/><stop offset="0.4200" stop-color="#ff1400"/><stop offset="0.4400" stop-color="#ff1d00"/><stop offset="0.4600" stop-color="#ff2600"/><stop offset="0.4800" stop-color="#ff2e00"/><stop offset="0.4999" stop-color="#ff3700"/><stop offset="0.5000" stop-color="#ff3700"/><stop offset="0.5001" stop-color="#ff3700"/><stop offset="0.5200" stop-color="#ff4000"/><stop offset="0.5400" stop-color="#ff4900"/><stop offset="0.5600" stop-color="#ff5200"/><stop offset="0.5800" stop-color="#ff5c00"/><stop offset="0.6000" stop-color="#ff6500"/><stop offset="0.6200" stop-color="#ff6f00"/><stop offset="0.6400" stop-color="#ff7900"/><stop offset="0.6600" stop-color="#ff8200"/><stop offset="0.6800" stop-color="#ff8c00"/><stop offset="0.7000" stop-color="#ff9600"/><stop offset="0.7200" stop-color="#ff9f00"/><stop offset="0.7400" stop-color="#ffa900"/><stop offset="0.7600" stop-color="#ffb200"/><stop offset="0.7800" stop-color="#ffbc00"/><stop offset="0.8000" stop-color="#ffc500"/><stop offset="0.8200" stop-color="#ffcf00"/><stop offset="0.8400" stop-color="#ffd800"/><stop offset="0.8600" stop-color="#ffe200"/><stop offset="0.8800" stop-color="#ffec00"/><stop offset="0.9000" stop-color="#fff900"/><stop offset="0.9080" stop-color="#fffe00"/><stop offset="0.9200" stop-color="#ffff00"/><stop offset="0.9400" stop-color="#ffff00"/><stop offset="0.9550" stop-color="#ffff00"/><stop offset="0.9600" stop-color="#ffff26"/><stop offset="0.9750" stop-color="#ffff96"/><stop offset="0.9800" stop-color="#ffffa7"/><stop offset="1.0000" stop-color="#ffffeb"/></linearGradient>
</defs>
<polygon points="1015.88,870.76 1024.19,876.18 1033.74,872.56 1033.74,869.52 1025.42,864.10 1015.88,867.72" fill="#0c0000"/>
<polygon points="1015.88,867.72 1025.42,864.10 1033.74,869.52 1024.19,873.14" fill="#0c0000"/>
<polygon points="992.61,879.59 1000.92,885.01 1010.47,881.39 1010.47,878.35 1002.15,872.93 992.61,876.55" fill="#0c0000"/>
<polygon points="992.61,876.55 1002.15,872.93 1010.47,878.35 1000.92,881.97" fill="#0c0000"/>
<polygon points="1036.15,883.98 1044.46,889.40 1054.01,885.78 1054.01,882.74 1045.69,877.32 1036.15,880.94" fill="#0c0000"/>
<polygon points="1036.15,880.94 1045.69,877.32 1054.01,882.74 1044.46,886.36" fill="#0c0000"/>
<polygon points="969.34,888.42 977.65,893.84 987.20,890.22 987.20,766.13 978.88,760.71 969.34,764.33" fill="url(#g10_1)"/>
<polygon points="969.34,764.33 978.88,760.71 987.20,766.13 977.65,769.75" fill="#ff4500"/>
<polygon points="1012.88,892.81 1021.19,898.23 1030.74,894.61 1030.74,891.57 1022.42,886.15 1012.88,889.77" fill="#0c0000"/>
<polygon points="1012.88,889.77 1022.42,886.15 1030.74,891.57 1021.19,895.19" fill="#0c0000"/>
<polygon points="1056.42,897.20 1064.73,902.62 1074.28,899.00 1074.28,803.65 1065.96,798.23 1056.42,801.85" fill="url(#g12_3)"/>
<polygon points="1056.42,801.85 1065.96,798.23 1074.28,803.65 1064.73,807.27" fill="#ff1000"/>
<polygon points="946.07,897.25 954.38,902.67 963.93,899.05 963.93,737.56 955.61,732.14 946.07,735.76" fill="url(#g9_1)"/>
<polygon points="946.07,735.76 955.61,732.14 963.93,737.56 954.38,741.18" fill="#ff9100"/>
<polygon points="989.61,901.64 997.92,907.06 1007.47,903.44 1007.47,758.08 999.15,752.66 989.61,756.28" fill="url(#g10_2)"/>
<polygon points="989.61,756.28 999.15,752.66 1007.47,758.08 997.92,761.70" fill="#ff7000"/>
<polygon points="1033.15,906.03 1041.46,911.45 1051.01,907.83 1051.01,730.69 1042.69,725.27 1033.15,728.89" fill="url(#g11_3)"/>
<polygon points="1033.15,728.89 1042.69,725.27 1051.01,730.69 1041.46,734.31" fill="#ffb100"/>
<polygon points="922.80,906.08 931.11,911.50 940.66,907.88 940.66,904.84 932.34,899.42 922.80,903.04" fill="#0c0000"/>
<polygon points="922.80,903.04 932.34,899.42 940.66,904.84 931.11,908.46" fill="#0c0000"/>
<polygon points="1076.69,910.42 1085.00,915.84 1094.55,912.22 1094.55,736.24 1086.23,730.82 1076.69,734.44" fill="url(#g12_4)"/>
<polygon points="1076.69,734.44 1086.23,730.82 1094.55,736.24 1085.00,739.86" fill="#ffaf00"/>
<polygon points="966.34,910.47 974.65,915.89 984.20,912.27 984.20,842.16 975.88,836.74 966.34,840.36" fill="url(#g9_2)"/>
<polygon points="966.34,840.36 975.88,836.74 984.20,842.16 974.65,845.78" fill="#dd0000"/>
<polygon points="1009.88,914.86 1018.19,920.28 1027.74,916.66 1027.74,913.62 1019.42,908.20 1009.88,911.82" fill="#0c0000"/>
<polygon points="1009.88,911.82 1019.42,908.20 1027.74,913.62 1018.19,917.24" fill="#0c0000"/>
<polygon points="899.53,914.91 907.84,920.33 917.39,916.71 917.39,913.67 909.07,908.25 899.53,911.87" fill="#0c0000"/>
<polygon points="899.53,911.87 909.07,908.25 917.39,913.67 907.84,917.29" fill="#0c0000"/>
<polygon points="1053.42,919.25 1061.73,924.67 1071.28,921.05 1071.28,812.85 1062.96,807.43 1053.42,811.05" fill="url(#g11_4)"/>
<polygon points="1053.42,811.05 1062.96,807.43 1071.28,812.85 1061.73,816.47" fill="#ff2700"/>
<polygon points="943.07,919.30 951.38,924.72 960.93,921.10 960.93,918.06 952.61,912.64 943.07,916.26" fill="#0c0000"/>
<polygon points="943.07,916.26 952.61,912.64 960.93,918.06 951.38,921.68" fill="#0c0000"/>
<polygon points="1096.96,923.64 1105.27,929.06 1114.82,925.44 1114.82,922.40 1106.50,916.98 1096.96,920.60" fill="#0c0000"/>
<polygon points="1096.96,920.60 1106.50,916.98 1114.82,922.40 1105.27,926.02" fill="#0c0000"/>
<polygon points="986.61,923.69 994.92,929.11 1004.47,925.49 1004.47,922.45 996.15,917.03 986.61,920.65" fill="#0c0000"/>
<polygon points="986.61,920.65 996.15,917.03 1004.47,922.45 994.92,926.07" fill="#0c0000"/>
<polygon points="876.26,923.74 884.57,929.16 894.12,925.54 894.12,787.42 885.80,782.00 876.26,785.62" fill="url(#g6_1)"/>
<polygon points="876.26,785.62 885.80,782.00 894.12,787.42 884.57,791.04" fill="#ff6100"/>
<polygon points="1030.15,928.08 1038.46,933.50 1048.01,929.88 1048.01,926.84 1039.69,921.42 1030.15,925.04" fill="#0c0000"/>
<polygon points="1030.15,925.04 1039.69,921.42 1048.01,926.84 1038.46,930.46" fill="#0c0000"/>
<polygon points="919.80,928.13 928.11,933.55 937.66,929.93 937.66,926.89 929.34,921.47 919.80,925.09" fill="#0c0000"/>
<polygon points="919.80,925.09 929.34,921.47 937.66,926.89 928.11,930.51" fill="#0c0000"/>
<polygon points="1073.69,932.47 1082.00,937.89 1091.55,934.27 1091.55,931.23 1083.23,925.81 1073.69,929.43" fill="#0c0000"/>
<polygon points="1073.69,929.43 1083.23,925.81 1091.55,931.23 1082.00,934.85" fill="#0c0000"/>
<polygon points="963.34,932.52 971.65,937.94 981.20,934.32 981.20,838.97 972.88,833.55 963.34,837.17" fill="url(#g8_3)"/>
<polygon points="963.34,837.17 972.88,833.55 981.20,838.97 971.65,842.59" fill="#ff1000"/>
<polygon points="852.99,932.57 861.30,937.99 870.85,934.37 870.85,758.16 862.53,752.74 852.99,756.36" fill="url(#g5_1)"/>
<polygon points="852.99,756.36 862.53,752.74 870.85,758.16 861.30,761.78" fill="#ffb000"/>
<polygon points="1117.23,936.86 1125.55,942.28 1135.09,938.66 1135.09,935.62 1126.77,930.20 1117.23,933.82" fill="#0c0000"/>
<polygon points="1117.23,933.82 1126.77,930.20 1135.09,935.62 1125.55,939.24" fill="#0c0000"/>
<polygon points="1006.88,936.91 1015.20,942.33 1024.74,938.71 1024.74,935.67 1016.42,930.25 1006.88,933.87" fill="#0c0000"/>
<polygon points="1006.88,933.87 1016.42,930.25 1024.74,935.67 1015.20,939.29" fill="#0c0000"/>
<polygon points="896.53,936.96 904.84,942.38 914.39,938.76 914.39,809.29 906.07,803.87 896.53,807.49" fill="url(#g6_2)"/>
<polygon points="896.53,807.49 906.07,803.87 914.39,809.29 904.84,812.91" fill="#ff4f00"/>
<polygon points="1050.42,941.30 1058.73,946.72 1068.28,943.10 1068.28,837.00 1059.96,831.58 1050.42,835.20" fill="url(#g10_5)"/>
<polygon points="1050.42,835.20 1059.96,831.58 1068.28,837.00 1058.73,840.62" fill="#ff2300"/>
<polygon points="940.07,941.35 948.38,946.77 957.93,943.15 957.93,811.11 949.61,805.69 940.07,809.31" fill="url(#g7_3)"/>
<polygon points="940.07,809.31 949.61,805.69 957.93,811.11 948.38,814.73" fill="#ff5400"/>
<polygon points="829.72,941.40 838.03,946.82 847.58,943.20 847.58,940.16 839.26,934.74 829.72,938.36" fill="#0c0000"/>
<polygon points="829.72,938.36 839.26,934.74 847.58,940.16 838.03,943.78" fill="#0c0000"/>
<polygon points="1093.96,945.69 1102.28,951.11 1111.82,947.49 1111.82,944.45 1103.50,939.03 1093.96,942.65" fill="#0c0000"/>
<polygon points="1093.96,942.65 1103.50,939.03 1111.82,944.45 1102.28,948.07" fill="#0c0000"/>
<polygon points="983.61,945.74 991.92,951.16 1001.47,947.54 1001.47,838.17 993.15,832.75 983.61,836.37" fill="url(#g8_4)"/>
<polygon points="983.61,836.37 993.15,832.75 1001.47,838.17 991.92,841.79" fill="#ff2900"/>
<polygon points="873.26,945.79 881.57,951.21 891.12,947.59 891.12,865.79 882.80,860.37 873.26,864.00" fill="url(#g5_2)"/>
<polygon points="873.26,864.00 882.80,860.37 891.12,865.79 881.57,869.42" fill="#ff0000"/>
<polygon points="1137.50,950.08 1145.82,955.50 1155.36,951.88 1155.36,870.08 1147.05,864.66 1137.50,868.29" fill="url(#g12_7)"/>
<polygon points="1137.50,868.29 1147.05,864.66 1155.36,870.08 1145.82,873.71" fill="#ff0000"/>
<polygon points="1027.15,950.13 1035.46,955.55 1045.01,951.93 1045.01,801.43 1036.69,796.01 1027.15,799.63" fill="url(#g9_5)"/>
<polygon points="1027.15,799.63 1036.69,796.01 1045.01,801.43 1035.46,805.05" fill="#ff7b00"/>
<polygon points="916.80,950.18 925.12,955.60 934.66,951.98 934.66,948.94 926.34,943.52 916.80,947.14" fill="#0c0000"/>
<polygon points="916.80,947.14 926.34,943.52 934.66,948.94 925.12,952.56" fill="#0c0000"/>
<polygon points="806.45,950.23 814.76,955.65 824.31,952.03 824.31,948.99 815.99,943.57 806.45,947.19" fill="#0c0000"/>
<polygon points="806.45,947.19 815.99,943.57 824.31,948.99 814.76,952.61" fill="#0c0000"/>
<polygon points="1070.69,954.52 1079.01,959.94 1088.55,956.32 1088.55,800.91 1080.23,795.49 1070.69,799.11" fill="url(#g10_6)"/>
<polygon points="1070.69,799.11 1080.23,795.49 1088.55,800.91 1079.01,804.53" fill="#ff8500"/>
<polygon points="960.34,954.57 968.65,959.99 978.20,956.37 978.20,862.89 969.88,857.47 960.34,861.09" fill="url(#g7_4)"/>
<polygon points="960.34,861.09 969.88,857.47 978.20,862.89 968.65,866.51" fill="#ff0d00"/>
<polygon points="849.99,954.62 858.30,960.04 867.85,956.42 867.85,953.38 859.53,947.96 849.99,951.58" fill="#0c0000"/>
<polygon points="849.99,951.58 859.53,947.96 867.85,953.38 858.30,957.00" fill="#0c0000"/>
<polygon points="1114.23,958.91 1122.55,964.33 1132.09,960.71 1132.09,818.15 1123.78,812.73 1114.23,816.35" fill="url(#g11_7)"/>
<polygon points="1114.23,816.35 1123.78,812.73 1132.09,818.15 1122.55,821.77" fill="#ff6a00"/>
<polygon points="1003.88,958.96 1012.19,964.38 1021.74,960.76 1021.74,957.72 1013.42,952.30 1003.88,955.92" fill="#0c0000"/>
<polygon points="1003.88,955.92 1013.42,952.30 1021.74,957.72 1012.19,961.34" fill="#0c0000"/>
<polygon points="893.53,959.01 901.85,964.43 911.39,960.81 911.39,957.77 903.07,952.35 893.53,955.97" fill="#0c0000"/>
<polygon points="893.53,955.97 903.07,952.35 911.39,957.77 901.85,961.39" fill="#0c0000"/>
<polygon points="783.18,959.06 791.49,964.48 801.04,960.86 801.04,820.17 792.72,814.75 783.18,818.37" fill="url(#g2_1)"/>
<polygon points="783.18,818.37 792.72,814.75 801.04,820.17 791.49,823.79" fill="#ff6600"/>
<polygon points="1157.77,963.30 1166.09,968.72 1175.63,965.10 1175.63,801.74 1167.32,796.32 1157.77,799.94" fill="url(#g12_8)"/>
<polygon points="1157.77,799.94 1167.32,796.32 1175.63,801.74 1166.09,805.36" fill="#ff9500"/>
<polygon points="1047.42,963.35 1055.74,968.77 1065.28,965.15 1065.28,853.44 1056.96,848.02 1047.42,851.64" fill="url(#g9_6)"/>
<polygon points="1047.42,851.64 1056.96,848.02 1065.28,853.44 1055.74,857.06" fill="#ff2d00"/>
<polygon points="937.07,963.40 945.38,968.82 954.93,965.20 954.93,962.16 946.62,956.74 937.07,960.36" fill="#0c0000"/>
<polygon points="937.07,960.36 946.62,956.74 954.93,962.16 945.38,965.78" fill="#0c0000"/>
<polygon points="826.72,963.45 835.03,968.87 844.58,965.25 844.58,962.21 836.26,956.79 826.72,960.41" fill="#0c0000"/>
<polygon points="826.72,960.41 836.26,956.79 844.58,962.21 835.03,965.83" fill="#0c0000"/>
<polygon points="1090.96,967.74 1099.28,973.16 1108.82,969.54 1108.82,966.50 1100.51,961.08 1090.96,964.70" fill="#0c0000"/>
<polygon points="1090.96,964.70 1100.51,961.08 1108.82,966.50 1099.28,970.12" fill="#0c0000"/>
<polygon points="980.61,967.79 988.92,973.21 998.47,969.59 998.47,966.55 990.15,961.13 980.61,964.75" fill="#0c0000"/>
<polygon points="980.61,964.75 990.15,961.13 998.47,966.55 988.92,970.17" fill="#0c0000"/>
<polygon points="870.26,967.84 878.58,973.26 888.12,969.64 888.12,858.40 879.80,852.98 870.26,856.60" fill="url(#g4_3)"/>
<polygon points="870.26,856.60 879.80,852.98 888.12,858.40 878.58,862.02" fill="#ff2c00"/>
<polygon points="759.91,967.89 768.22,973.31 777.77,969.69 777.77,735.99 769.45,730.57 759.91,734.19" fill="url(#g1_1)"/>
<polygon points="759.91,734.19 769.45,730.57 777.77,735.99 768.22,739.61" fill="#ffffeb"/>
<polygon points="1134.50,972.13 1142.82,977.55 1152.36,973.93 1152.36,862.22 1144.05,856.80 1134.50,860.42" fill="url(#g11_8)"/>
<polygon points="1134.50,860.42 1144.05,856.80 1152.36,862.22 1142.82,865.84" fill="#ff2d00"/>
<polygon points="1024.15,972.18 1032.46,977.60 1042.01,973.98 1042.01,970.94 1033.69,965.52 1024.15,969.14" fill="#0c0000"/>
<polygon points="1024.15,969.14 1033.69,965.52 1042.01,970.94 1032.46,974.56" fill="#0c0000"/>
<polygon points="913.80,972.23 922.12,977.65 931.66,974.03 931.66,970.99 923.35,965.57 913.80,969.19" fill="#0c0000"/>
<polygon points="913.80,969.19 923.35,965.57 931.66,970.99 922.12,974.61" fill="#0c0000"/>
<polygon points="803.45,972.28 811.76,977.70 821.31,974.08 821.31,826.62 812.99,821.20 803.45,824.82" fill="url(#g2_2)"/>
<polygon points="803.45,824.82 812.99,821.20 821.31,826.62 811.76,830.24" fill="#ff7400"/>
<polygon points="1178.04,976.52 1186.36,981.94 1195.90,978.32 1195.90,975.28 1187.59,969.86 1178.04,973.48" fill="#0c0000"/>
<polygon points="1178.04,973.48 1187.59,969.86 1195.90,975.28 1186.36,978.90" fill="#0c0000"/>
<polygon points="1067.69,976.57 1076.01,981.99 1085.55,978.37 1085.55,975.33 1077.23,969.91 1067.69,973.53" fill="#0c0000"/>
<polygon points="1067.69,973.53 1077.23,969.91 1085.55,975.33 1076.01,978.95" fill="#0c0000"/>
<polygon points="957.34,976.62 965.65,982.04 975.20,978.42 975.20,858.06 966.88,852.64 957.34,856.26" fill="url(#g6_5)"/>
<polygon points="957.34,856.26 966.88,852.64 975.20,858.06 965.65,861.68" fill="#ff3e00"/>
<polygon points="846.99,976.67 855.30,982.09 864.85,978.47 864.85,811.61 856.53,806.19 846.99,809.81" fill="url(#g3_3)"/>
<polygon points="846.99,809.81 856.53,806.19 864.85,811.61 855.30,815.23" fill="#ff9c00"/>
<polygon points="1111.23,980.96 1119.55,986.38 1129.09,982.76 1129.09,979.72 1120.78,974.30 1111.23,977.92" fill="#0c0000"/>
<polygon points="1111.23,977.92 1120.78,974.30 1129.09,979.72 1119.55,983.34" fill="#0c0000"/>
<polygon points="1000.88,981.01 1009.19,986.43 1018.74,982.81 1018.74,979.77 1010.42,974.35 1000.88,977.97" fill="#0c0000"/>
<polygon points="1000.88,977.97 1010.42,974.35 1018.74,979.77 1009.19,983.39" fill="#0c0000"/>
<polygon points="890.53,981.06 898.85,986.48 908.39,982.86 908.39,840.77 900.08,835.35 890.53,838.97" fill="url(#g4_4)"/>
<polygon points="890.53,838.97 900.08,835.35 908.39,840.77 898.85,844.39" fill="#ff6900"/>
<polygon points="780.18,981.11 788.49,986.53 798.04,982.91 798.04,829.14 789.72,823.72 780.18,827.34" fill="url(#g1_2)"/>
<polygon points="780.18,827.34 789.72,823.72 798.04,829.14 788.49,832.76" fill="#ff8100"/>
<polygon points="1154.77,985.35 1163.09,990.77 1172.63,987.15 1172.63,984.11 1164.32,978.69 1154.77,982.31" fill="#0c0000"/>
<polygon points="1154.77,982.31 1164.32,978.69 1172.63,984.11 1163.09,987.73" fill="#0c0000"/>
<polygon points="1044.42,985.40 1052.73,990.82 1062.28,987.20 1062.28,907.98 1053.96,902.56 1044.42,906.18" fill="url(#g8_7)"/>
<polygon points="1044.42,906.18 1053.96,902.56 1062.28,907.98 1052.73,911.60" fill="#fc0000"/>
<polygon points="934.07,985.45 942.38,990.87 951.93,987.25 951.93,842.12 943.62,836.70 934.07,840.32" fill="url(#g5_5)"/>
<polygon points="934.07,840.32 943.62,836.70 951.93,842.12 942.38,845.74" fill="#ff6f00"/>
<polygon points="823.72,985.50 832.03,990.92 841.58,987.30 841.58,984.26 833.26,978.84 823.72,982.46" fill="#0c0000"/>
<polygon points="823.72,982.46 833.26,978.84 841.58,984.26 832.03,987.88" fill="#0c0000"/>
<polygon points="1198.31,989.74 1206.62,995.16 1216.17,991.54 1216.17,988.50 1207.86,983.08 1198.31,986.70" fill="#0c0000"/>
<polygon points="1198.31,986.70 1207.86,983.08 1216.17,988.50 1206.62,992.12" fill="#0c0000"/>
<polygon points="1087.96,989.79 1096.28,995.21 1105.82,991.59 1105.82,988.55 1097.50,983.13 1087.96,986.75" fill="#0c0000"/>
<polygon points="1087.96,986.75 1097.50,983.13 1105.82,988.55 1096.28,992.17" fill="#0c0000"/>
<polygon points="977.61,989.84 985.92,995.26 995.47,991.64 995.47,855.63 987.15,850.21 977.61,853.83" fill="url(#g6_6)"/>
<polygon points="977.61,853.83 987.15,850.21 995.47,855.63 985.92,859.25" fill="#ff5d00"/>
<polygon points="867.26,989.89 875.57,995.31 885.12,991.69 885.12,867.36 876.80,861.94 867.26,865.56" fill="url(#g3_4)"/>
<polygon points="867.26,865.56 876.80,861.94 885.12,867.36 875.57,870.98" fill="#ff4500"/>
<polygon points="1131.50,994.18 1139.82,999.60 1149.36,995.98 1149.36,886.14 1141.05,880.72 1131.50,884.34" fill="url(#g10_9)"/>
<polygon points="1131.50,884.34 1141.05,880.72 1149.36,886.14 1139.82,889.76" fill="#ff2a00"/>
<polygon points="1021.15,994.23 1029.46,999.65 1039.01,996.03 1039.01,891.10 1030.69,885.68 1021.15,889.30" fill="url(#g7_7)"/>
<polygon points="1021.15,889.30 1030.69,885.68 1039.01,891.10 1029.46,894.72" fill="#ff2100"/>
<polygon points="910.80,994.28 919.12,999.70 928.66,996.08 928.66,993.04 920.35,987.62 910.80,991.24" fill="#0c0000"/>
<polygon points="910.80,991.24 920.35,987.62 928.66,993.04 919.12,996.66" fill="#0c0000"/>
<polygon points="800.45,994.33 808.76,999.75 818.31,996.13 818.31,993.09 809.99,987.67 800.45,991.29" fill="#0c0000"/>
<polygon points="800.45,991.29 809.99,987.67 818.31,993.09 808.76,996.71" fill="#0c0000"/>
<polygon points="1175.04,998.57 1183.36,1003.99 1192.90,1000.37 1192.90,997.33 1184.59,991.91 1175.04,995.53" fill="#0c0000"/>
<polygon points="1175.04,995.53 1184.59,991.91 1192.90,997.33 1183.36,1000.95" fill="#0c0000"/>
<polygon points="1064.69,998.62 1073.00,1004.04 1082.55,1000.42 1082.55,892.68 1074.23,887.26 1064.69,890.88" fill="url(#g8_8)"/>
<polygon points="1064.69,890.88 1074.23,887.26 1082.55,892.68 1073.00,896.30" fill="#ff2600"/>
<polygon points="954.34,998.67 962.65,1004.09 972.20,1000.47 972.20,892.03 963.88,886.61 954.34,890.23" fill="url(#g5_6)"/>
<polygon points="954.34,890.23 963.88,886.61 972.20,892.03 962.65,895.65" fill="#ff2700"/>
<polygon points="843.99,998.72 852.30,1004.14 861.85,1000.52 861.85,997.48 853.53,992.06 843.99,995.68" fill="#0c0000"/>
<polygon points="843.99,995.68 853.53,992.06 861.85,997.48 852.30,1001.10" fill="#0c0000"/>
<polygon points="1218.58,1002.96 1226.89,1008.38 1236.44,1004.76 1236.44,851.22 1228.12,845.80 1218.58,849.42" fill="url(#g12_11)"/>
<polygon points="1218.58,849.42 1228.12,845.80 1236.44,851.22 1226.89,854.84" fill="#ff8100"/>
<polygon points="1108.23,1003.01 1116.55,1008.43 1126.09,1004.81 1126.09,865.06 1117.77,859.64 1108.23,863.26" fill="url(#g9_9)"/>
<polygon points="1108.23,863.26 1117.77,859.64 1126.09,865.06 1116.55,868.68" fill="#ff6400"/>
<polygon points="997.88,1003.06 1006.19,1008.48 1015.74,1004.86 1015.74,1001.82 1007.42,996.40 997.88,1000.02" fill="#0c0000"/>
<polygon points="997.88,1000.02 1007.42,996.40 1015.74,1001.82 1006.19,1005.44" fill="#0c0000"/>
<polygon points="887.53,1003.11 895.84,1008.53 905.39,1004.91 905.39,1001.87 897.07,996.45 887.53,1000.07" fill="#0c0000"/>
<polygon points="887.53,1000.07 897.07,996.45 905.39,1001.87 895.84,1005.49" fill="#0c0000"/>
<polygon points="1151.77,1007.40 1160.09,1012.82 1169.63,1009.20 1169.63,872.25 1161.32,866.83 1151.77,870.45" fill="url(#g10_10)"/>
<polygon points="1151.77,870.45 1161.32,866.83 1169.63,872.25 1160.09,875.87" fill="#ff5f00"/>
<polygon points="1041.42,1007.45 1049.73,1012.87 1059.28,1009.25 1059.28,928.86 1050.96,923.44 1041.42,927.06" fill="url(#g7_8)"/>
<polygon points="1041.42,927.06 1050.96,923.44 1059.28,928.86 1049.73,932.48" fill="#ff0000"/>
<polygon points="931.07,1007.50 939.38,1012.92 948.93,1009.30 948.93,1006.26 940.62,1000.84 931.07,1004.46" fill="#0c0000"/>
<polygon points="931.07,1004.46 940.62,1000.84 948.93,1006.26 939.38,1009.88" fill="#0c0000"/>
<polygon points="820.72,1007.55 829.03,1012.97 838.58,1009.35 838.58,1006.31 830.26,1000.89 820.72,1004.51" fill="#0c0000"/>
<polygon points="820.72,1004.51 830.26,1000.89 838.58,1006.31 829.03,1009.93" fill="#0c0000"/>
<polygon points="1195.31,1011.79 1203.62,1017.21 1213.17,1013.59 1213.17,846.03 1204.86,840.61 1195.31,844.23" fill="url(#g11_11)"/>
<polygon points="1195.31,844.23 1204.86,840.61 1213.17,846.03 1203.62,849.65" fill="#ff9e00"/>
<polygon points="1084.96,1011.84 1093.27,1017.26 1102.82,1013.64 1102.82,1010.60 1094.50,1005.18 1084.96,1008.80" fill="#0c0000"/>
<polygon points="1084.96,1008.80 1094.50,1005.18 1102.82,1010.60 1093.27,1014.22" fill="#0c0000"/>
<polygon points="974.61,1011.89 982.92,1017.31 992.47,1013.69 992.47,1010.65 984.15,1005.23 974.61,1008.85" fill="#0c0000"/>
<polygon points="974.61,1008.85 984.15,1005.23 992.47,1010.65 982.92,1014.27" fill="#0c0000"/>
<polygon points="864.26,1011.94 872.57,1017.36 882.12,1013.74 882.12,899.23 873.80,893.81 864.26,897.43" fill="url(#g2_5)"/>
<polygon points="864.26,897.43 873.80,893.81 882.12,899.23 872.57,902.85" fill="#ff3300"/>
<polygon points="1238.85,1016.18 1247.16,1021.60 1256.71,1017.98 1256.71,799.47 1248.39,794.05 1238.85,797.67" fill="url(#g12_12)"/>
<polygon points="1238.85,797.67 1248.39,794.05 1256.71,799.47 1247.16,803.09" fill="#ffff00"/>
<polygon points="1128.50,1016.23 1136.82,1021.65 1146.36,1018.03 1146.36,908.19 1138.04,902.77 1128.50,906.39" fill="url(#g9_10)"/>
<polygon points="1128.50,906.39 1138.04,902.77 1146.36,908.19 1136.82,911.81" fill="#ff2a00"/>
<polygon points="1018.15,1016.28 1026.46,1021.70 1036.01,1018.08 1036.01,1015.04 1027.69,1009.62 1018.15,1013.24" fill="#0c0000"/>
<polygon points="1018.15,1013.24 1027.69,1009.62 1036.01,1015.04 1026.46,1018.66" fill="#0c0000"/>
<polygon points="907.80,1016.33 916.11,1021.75 925.66,1018.13 925.66,1015.09 917.34,1009.67 907.80,1013.29" fill="#0c0000"/>
<polygon points="907.80,1013.29 917.34,1009.67 925.66,1015.09 916.11,1018.71" fill="#0c0000"/>
<polygon points="1172.04,1020.62 1180.36,1026.04 1189.90,1022.42 1189.90,1019.38 1181.59,1013.96 1172.04,1017.58" fill="#0c0000"/>
<polygon points="1172.04,1017.58 1181.59,1013.96 1189.90,1019.38 1180.36,1023.00" fill="#0c0000"/>
<polygon points="1061.69,1020.67 1070.00,1026.09 1079.55,1022.47 1079.55,1019.43 1071.23,1014.01 1061.69,1017.63" fill="#0c0000"/>
<polygon points="1061.69,1017.63 1071.23,1014.01 1079.55,1019.43 1070.00,1023.05" fill="#0c0000"/>
<polygon points="951.34,1020.72 959.65,1026.14 969.20,1022.52 969.20,930.44 960.88,925.02 951.34,928.64" fill="url(#g4_7)"/>
<polygon points="951.34,928.64 960.88,925.02 969.20,930.44 959.65,934.06" fill="#ff0b00"/>
<polygon points="840.99,1020.77 849.30,1026.19 858.85,1022.57 858.85,859.91 850.53,854.49 840.99,858.11" fill="url(#g1_5)"/>
<polygon points="840.99,858.11 850.53,854.49 858.85,859.91 849.30,863.54" fill="#ff9400"/>
<polygon points="1215.58,1025.01 1223.89,1030.43 1233.44,1026.81 1233.44,873.04 1225.12,867.62 1215.58,871.24" fill="url(#g11_12)"/>
<polygon points="1215.58,871.24 1225.12,867.62 1233.44,873.04 1223.89,876.66" fill="#ff8100"/>
<polygon points="1105.23,1025.06 1113.54,1030.48 1123.09,1026.86 1123.09,1023.82 1114.77,1018.40 1105.23,1022.02" fill="#0c0000"/>
<polygon points="1105.23,1022.02 1114.77,1018.40 1123.09,1023.82 1113.54,1027.44" fill="#0c0000"/>
<polygon points="994.88,1025.11 1003.19,1030.53 1012.74,1026.91 1012.74,1023.87 1004.42,1018.45 994.88,1022.07" fill="#0c0000"/>
<polygon points="994.88,1022.07 1004.42,1018.45 1012.74,1023.87 1003.19,1027.49" fill="#0c0000"/>
<polygon points="884.53,1025.16 892.84,1030.58 902.39,1026.96 902.39,856.36 894.07,850.94 884.53,854.56" fill="url(#g2_6)"/>
<polygon points="884.53,854.56 894.07,850.94 902.39,856.36 892.84,859.98" fill="#ffa400"/>
<polygon points="1148.77,1029.45 1157.09,1034.87 1166.63,1031.25 1166.63,1028.21 1158.31,1022.79 1148.77,1026.41" fill="#0c0000"/>
<polygon points="1148.77,1026.41 1158.31,1022.79 1166.63,1028.21 1157.09,1031.83" fill="#0c0000"/>
<polygon points="1038.42,1029.50 1046.73,1034.92 1056.28,1031.30 1056.28,959.32 1047.96,953.90 1038.42,957.52" fill="url(#g6_9)"/>
<polygon points="1038.42,957.52 1047.96,953.90 1056.28,959.32 1046.73,962.94" fill="#e30000"/>
<polygon points="928.07,1029.55 936.38,1034.97 945.93,1031.35 945.93,896.97 937.61,891.55 928.07,895.17" fill="url(#g3_7)"/>
<polygon points="928.07,895.17 937.61,891.55 945.93,896.97 936.38,900.59" fill="#ff5900"/>
<polygon points="1192.31,1033.84 1200.62,1039.26 1210.17,1035.64 1210.17,1032.60 1201.86,1027.18 1192.31,1030.80" fill="#0c0000"/>
<polygon points="1192.31,1030.80 1201.86,1027.18 1210.17,1032.60 1200.62,1036.22" fill="#0c0000"/>
<polygon points="1081.96,1033.89 1090.27,1039.31 1099.82,1035.69 1099.82,1032.65 1091.50,1027.23 1081.96,1030.85" fill="#0c0000"/>
<polygon points="1081.96,1030.85 1091.50,1027.23 1099.82,1032.65 1090.27,1036.27" fill="#0c0000"/>
<polygon points="971.61,1033.94 979.92,1039.36 989.47,1035.74 989.47,928.94 981.15,923.52 971.61,927.14" fill="url(#g4_8)"/>
<polygon points="971.61,927.14 981.15,923.52 989.47,928.94 979.92,932.56" fill="#ff2400"/>
<polygon points="861.26,1033.99 869.57,1039.41 879.12,1035.79 879.12,904.45 870.80,899.03 861.26,902.65" fill="url(#g1_6)"/>
<polygon points="861.26,902.65 870.80,899.03 879.12,904.45 869.57,908.07" fill="#ff5300"/>
<polygon points="1125.50,1038.28 1133.81,1043.70 1143.36,1040.08 1143.36,944.26 1135.04,938.84 1125.50,942.46" fill="url(#g8_11)"/>
<polygon points="1125.50,942.46 1135.04,938.84 1143.36,944.26 1133.81,947.88" fill="#ff1100"/>
<polygon points="1015.15,1038.33 1023.46,1043.75 1033.01,1040.13 1033.01,905.52 1024.69,900.10 1015.15,903.72" fill="url(#g5_9)"/>
<polygon points="1015.15,903.72 1024.69,900.10 1033.01,905.52 1023.46,909.14" fill="#ff5a00"/>
<polygon points="904.80,1038.38 913.11,1043.80 922.66,1040.18 922.66,1037.14 914.34,1031.72 904.80,1035.34" fill="#0c0000"/>
<polygon points="904.80,1035.34 914.34,1031.72 922.66,1037.14 913.11,1040.76" fill="#0c0000"/>
<polygon points="1169.04,1042.67 1177.36,1048.09 1186.90,1044.47 1186.90,1041.43 1178.58,1036.01 1169.04,1039.63" fill="#0c0000"/>
<polygon points="1169.04,1039.63 1178.58,1036.01 1186.90,1041.43 1177.36,1045.05" fill="#0c0000"/>
<polygon points="1058.69,1042.72 1067.00,1048.14 1076.55,1044.52 1076.55,938.19 1068.23,932.77 1058.69,936.39" fill="url(#g6_10)"/>
<polygon points="1058.69,936.39 1068.23,932.77 1076.55,938.19 1067.00,941.81" fill="#ff2300"/>
<polygon points="948.34,1042.77 956.65,1048.19 966.20,1044.57 966.20,940.57 957.88,935.15 948.34,938.77" fill="url(#g3_8)"/>
<polygon points="948.34,938.77 957.88,935.15 966.20,940.57 956.65,944.19" fill="#ff1f00"/>
<polygon points="1102.23,1047.11 1110.54,1052.53 1120.09,1048.91 1120.09,907.52 1111.77,902.10 1102.23,905.72" fill="url(#g7_11)"/>
<polygon points="1102.23,905.72 1111.77,902.10 1120.09,907.52 1110.54,911.14" fill="#ff6800"/>
<polygon points="991.88,1047.16 1000.19,1052.58 1009.74,1048.96 1009.74,1045.92 1001.42,1040.50 991.88,1044.12" fill="#0c0000"/>
<polygon points="991.88,1044.12 1001.42,1040.50 1009.74,1045.92 1000.19,1049.54" fill="#0c0000"/>
<polygon points="881.53,1047.21 889.84,1052.63 899.39,1049.01 899.39,1045.97 891.07,1040.55 881.53,1044.17" fill="#0c0000"/>
<polygon points="881.53,1044.17 891.07,1040.55 899.39,1045.97 889.84,1049.59" fill="#0c0000"/>
<polygon points="1145.77,1051.50 1154.09,1056.92 1163.63,1053.30 1163.63,882.23 1155.31,876.81 1145.77,880.43" fill="url(#g8_12)"/>
<polygon points="1145.77,880.43 1155.31,876.81 1163.63,882.23 1154.09,885.85" fill="#ffa500"/>
<polygon points="1035.42,1051.55 1043.73,1056.97 1053.28,1053.35 1053.28,978.80 1044.96,973.38 1035.42,977.00" fill="url(#g5_10)"/>
<polygon points="1035.42,977.00 1044.96,973.38 1053.28,978.80 1043.73,982.42" fill="#ec0000"/>
<polygon points="925.07,1051.60 933.38,1057.02 942.93,1053.40 942.93,1050.36 934.61,1044.94 925.07,1048.56" fill="#0c0000"/>
<polygon points="925.07,1048.56 934.61,1044.94 942.93,1050.36 933.38,1053.98" fill="#0c0000"/>
<polygon points="1078.96,1055.94 1087.27,1061.36 1096.82,1057.74 1096.82,1054.70 1088.50,1049.28 1078.96,1052.90" fill="#0c0000"/>
<polygon points="1078.96,1052.90 1088.50,1049.28 1096.82,1054.70 1087.27,1058.32" fill="#0c0000"/>
<polygon points="968.61,1055.99 976.92,1061.41 986.47,1057.79 986.47,1054.75 978.15,1049.33 968.61,1052.95" fill="#0c0000"/>
<polygon points="968.61,1052.95 978.15,1049.33 986.47,1054.75 976.92,1058.37" fill="#0c0000"/>
<polygon points="1122.50,1060.33 1130.82,1065.75 1140.36,1062.13 1140.36,881.95 1132.04,876.53 1122.50,880.15" fill="url(#g7_12)"/>
<polygon points="1122.50,880.15 1132.04,876.53 1140.36,881.95 1130.82,885.57" fill="#ffb800"/>
<polygon points="1012.15,1060.38 1020.46,1065.80 1030.01,1062.18 1030.01,1059.14 1021.69,1053.72 1012.15,1057.34" fill="#0c0000"/>
<polygon points="1012.15,1057.34 1021.69,1053.72 1030.01,1059.14 1020.46,1062.76" fill="#0c0000"/>
<polygon points="901.80,1060.43 910.11,1065.85 919.66,1062.23 919.66,1059.19 911.34,1053.77 901.80,1057.39" fill="#0c0000"/>
<polygon points="901.80,1057.39 911.34,1053.77 919.66,1059.19 910.11,1062.81" fill="#0c0000"/>
<polygon points="1055.69,1064.77 1064.00,1070.19 1073.55,1066.57 1073.55,1063.53 1065.23,1058.11 1055.69,1061.73" fill="#0c0000"/>
<polygon points="1055.69,1061.73 1065.23,1058.11 1073.55,1063.53 1064.00,1067.15" fill="#0c0000"/>
<polygon points="945.34,1064.82 953.65,1070.24 963.20,1066.62 963.20,977.58 954.88,972.16 945.34,975.78" fill="url(#g2_9)"/>
<polygon points="945.34,975.78 954.88,972.16 963.20,977.58 953.65,981.20" fill="#ff0700"/>
<polygon points="1099.23,1069.16 1107.55,1074.58 1117.09,1070.96 1117.09,1067.92 1108.77,1062.50 1099.23,1066.12" fill="#0c0000"/>
<polygon points="1099.23,1066.12 1108.77,1062.50 1117.09,1067.92 1107.55,1071.54" fill="#0c0000"/>
<polygon points="988.88,1069.21 997.19,1074.63 1006.74,1071.01 1006.74,1067.97 998.42,1062.55 988.88,1066.17" fill="#0c0000"/>
<polygon points="988.88,1066.17 998.42,1062.55 1006.74,1067.97 997.19,1071.59" fill="#0c0000"/>
<polygon points="1032.42,1073.60 1040.73,1079.02 1050.28,1075.40 1050.28,991.97 1041.96,986.55 1032.42,990.17" fill="url(#g4_11)"/>
<polygon points="1032.42,990.17 1041.96,986.55 1050.28,991.97 1040.73,995.59" fill="#ff0000"/>
<polygon points="922.07,1073.65 930.38,1079.07 939.93,1075.45 939.93,893.16 931.62,887.74 922.07,891.36" fill="url(#g1_9)"/>
<polygon points="922.07,891.36 931.62,887.74 939.93,893.16 930.38,896.78" fill="#ffbc00"/>
<polygon points="1075.96,1077.99 1084.28,1083.41 1093.82,1079.79 1093.82,1076.75 1085.50,1071.33 1075.96,1074.95" fill="#0c0000"/>
<polygon points="1075.96,1074.95 1085.50,1071.33 1093.82,1076.75 1084.28,1080.37" fill="#0c0000"/>
<polygon points="965.61,1078.04 973.92,1083.46 983.47,1079.84 983.47,949.20 975.15,943.78 965.61,947.40" fill="url(#g2_10)"/>
<polygon points="965.61,947.40 975.15,943.78 983.47,949.20 973.92,952.82" fill="#ff5200"/>
<polygon points="1009.15,1082.43 1017.46,1087.85 1027.01,1084.23 1027.01,957.10 1018.69,951.68 1009.15,955.30" fill="url(#g3_11)"/>
<polygon points="1009.15,955.30 1018.69,951.68 1027.01,957.10 1017.46,960.72" fill="#ff4b00"/>
<polygon points="1052.69,1086.82 1061.01,1092.24 1070.55,1088.62 1070.55,954.24 1062.23,948.82 1052.69,952.44" fill="url(#g4_12)"/>
<polygon points="1052.69,952.44 1062.23,948.82 1070.55,954.24 1061.01,957.86" fill="#ff5900"/>
<polygon points="942.34,1086.87 950.65,1092.29 960.20,1088.67 960.20,989.11 951.88,983.69 942.34,987.31" fill="url(#g1_10)"/>
<polygon points="942.34,987.31 951.88,983.69 960.20,989.11 950.65,992.73" fill="#ff1700"/>
<polygon points="985.88,1091.26 994.19,1096.68 1003.74,1093.06 1003.74,1090.02 995.42,1084.60 985.88,1088.22" fill="#0c0000"/>
<polygon points="985.88,1088.22 995.42,1084.60 1003.74,1090.02 994.19,1093.64" fill="#0c0000"/>
<polygon points="1029.42,1095.65 1037.73,1101.07 1047.28,1097.45 1047.28,1005.61 1038.96,1000.19 1029.42,1003.81" fill="url(#g3_12)"/>
<polygon points="1029.42,1003.81 1038.96,1000.19 1047.28,1005.61 1037.73,1009.23" fill="#ff0b00"/>
<polygon points="962.61,1100.09 970.92,1105.51 980.47,1101.89 980.47,1098.85 972.15,1093.43 962.61,1097.05" fill="#0c0000"/>
<polygon points="962.61,1097.05 972.15,1093.43 980.47,1098.85 970.92,1102.47" fill="#0c0000"/>
<polygon points="1006.15,1104.48 1014.46,1109.90 1024.01,1106.28 1024.01,1103.24 1015.69,1097.82 1006.15,1101.44" fill="#0c0000"/>
<polygon points="1006.15,1101.44 1015.69,1097.82 1024.01,1103.24 1014.46,1106.86" fill="#0c0000"/>
<polygon points="982.88,1113.31 991.19,1118.73 1000.74,1115.11 1000.74,1112.07 992.42,1106.65 982.88,1110.27" fill="#0c0000"/>
<polygon points="982.88,1110.27 992.42,1106.65 1000.74,1112.07 991.19,1115.69" fill="#0c0000"/>
<line x1="725.30" y1="964.40" x2="725.30" y2="730.70" stroke="#262626" stroke-width="1.6"/>
<line x1="725.30" y1="964.40" x2="988.81" y2="1136.26" stroke="#262626" stroke-width="1.6"/>
<line x1="988.81" y1="1136.26" x2="1291.32" y2="1021.47" stroke="#262626" stroke-width="1.6"/>
<line x1="725.30" y1="964.40" x2="733.71" y2="961.21" stroke="#262626" stroke-width="1.6"/>
<line x1="725.30" y1="847.55" x2="733.71" y2="844.36" stroke="#262626" stroke-width="1.6"/>
<line x1="725.30" y1="730.70" x2="733.71" y2="727.51" stroke="#262626" stroke-width="1.6"/>
<line x1="826.65" y1="1030.50" x2="835.06" y2="1027.31" stroke="#262626" stroke-width="1.6"/>
<line x1="928.00" y1="1096.60" x2="936.41" y2="1093.41" stroke="#262626" stroke-width="1.6"/>
<line x1="988.81" y1="1136.26" x2="981.27" y2="1131.34" stroke="#262626" stroke-width="1.6"/>
<line x1="1105.16" y1="1092.11" x2="1097.62" y2="1087.19" stroke="#262626" stroke-width="1.6"/>
<line x1="1221.51" y1="1047.96" x2="1213.97" y2="1043.04" stroke="#262626" stroke-width="1.6"/>
<text x="642.5" y="655.5" font-size="40" text-anchor="start" font-weight="bold" font-style="normal" fill="#000" >d</text>
<text x="718.0" y="739.3" font-size="34" text-anchor="end" font-weight="normal" font-style="normal" fill="#262626" >1</text>
<text x="718.0" y="855.0" font-size="34" text-anchor="end" font-weight="normal" font-style="normal" fill="#262626" >0.5</text>
<text x="718.0" y="971.0" font-size="34" text-anchor="end" font-weight="normal" font-style="normal" fill="#262626" >0</text>
<text x="717.0" y="999.0" font-size="34" text-anchor="end" font-weight="normal" font-style="normal" fill="#262626" >0</text>
<text x="819.0" y="1068.0" font-size="34" text-anchor="end" font-weight="normal" font-style="normal" fill="#262626" >5</text>
<text x="920.0" y="1131.6" font-size="34" text-anchor="end" font-weight="normal" font-style="normal" fill="#262626" >10</text>
<text x="808.0" y="1092.0" font-size="34" text-anchor="end" font-weight="normal" font-style="italic" fill="#262626" >y</text>
<text x="1005.0" y="1171.5" font-size="34" text-anchor="middle" font-weight="normal" font-style="normal" fill="#262626" >0</text>
<text x="1123.0" y="1128.4" font-size="34" text-anchor="middle" font-weight="normal" font-style="normal" fill="#262626" >5</text>
<text x="1143.0" y="1134.0" font-size="34" text-anchor="middle" font-weight="normal" font-style="italic" fill="#262626" >x</text>
<text x="1249.0" y="1084.0" font-size="34" text-anchor="middle" font-weight="normal" font-style="normal" fill="#262626" >10</text>
<text transform="translate(663.5,1018.5) rotate(-90)" x="0" y="0" font-size="32" textLength="317" lengthAdjust="spacing" fill="#262626">Intensity (arb. units)</text>
<defs><linearGradient id="cbar" x1="0" y1="1" x2="0" y2="0"><stop offset="0.0000" stop-color="#0c0000"/><stop offset="0.0200" stop-color="#150000"/><stop offset="0.0400" stop-color="#1d0000"/><stop offset="0.0600" stop-color="#260000"/><stop offset="0.0800" stop-color="#320000"/><stop offset="0.1000" stop-color="#410000"/><stop offset="0.1200" stop-color="#4f0000"/><stop offset="0.1400" stop-color="#5e0000"/><stop offset="0.1600" stop-color="#6d0000"/><stop offset="0.1800" stop-color="#7d0000"/><stop offset="0.2000" stop-color="#8e0000"/><stop offset="0.2200" stop-color="#9f0000"/><stop offset="0.2400" stop-color="#b00000"/><stop offset="0.2600" stop-color="#c00000"/><stop offset="0.2800" stop-color="#cf0000"/><stop offset="0.3000" stop-color="#dd0000"/><stop offset="0.3200" stop-color="#ed0000"/><stop offset="0.3400" stop-color="#fd0000"/><stop offset="0.3430" stop-color="#ff0000"/><stop offset="0.3600" stop-color="#ff0000"/><stop offset="0.3800" stop-color="#ff0000"/><stop offset="0.4000" stop-color="#ff0000"/><stop offset="0.4200" stop-color="#ff0000"/><stop offset="0.4400" stop-color="#ff0000"/><stop offset="0.4600" stop-color="#ff0000"/><stop offset="0.4800" stop-color="#ff0000"/><stop offset="0.4999" stop-color="#ff0000"/><stop offset="0.5000" stop-color="#ff0000"/><stop offset="0.5001" stop-color="#ff2d00"/><stop offset="0.5200" stop-color="#ff3500"/><stop offset="0.5400" stop-color="#ff3c00"/><stop offset="0.5600" stop-color="#ff4400"/><stop offset="0.5800" stop-color="#ff4c00"/><stop offset="0.6000" stop-color="#ff5400"/><stop offset="0.6200" stop-color="#ff5e00"/><stop offset="0.6400" stop-color="#ff6800"/><stop offset="0.6600" stop-color="#ff7300"/><stop offset="0.6800" stop-color="#ff7d00"/><stop offset="0.7000" stop-color="#ff8700"/><stop offset="0.7200" stop-color="#ff9100"/><stop offset="0.7400" stop-color="#ff9c00"/><stop offset="0.7600" stop-color="#ffa600"/><stop offset="0.7800" stop-color="#ffb000"/><stop offset="0.8000" stop-color="#ffbc00"/><stop offset="0.8200" stop-color="#ffc700"/><stop offset="0.8400" stop-color="#ffd300"/><stop offset="0.8600" stop-color="#ffde00"/><stop offset="0.8800" stop-color="#ffea00"/><stop offset="0.9000" stop-color="#fff900"/><stop offset="0.9080" stop-color="#ffff00"/><stop offset="0.9200" stop-color="#ffff00"/><stop offset="0.9400" stop-color="#ffff00"/><stop offset="0.9550" stop-color="#ffff00"/><stop offset="0.9600" stop-color="#ffff26"/><stop offset="0.9750" stop-color="#ffff96"/><stop offset="0.9800" stop-color="#ffffa7"/><stop offset="1.0000" stop-color="#ffffeb"/></linearGradient></defs>
<rect x="1306.5" y="798.5" width="13" height="201" fill="url(#cbar)" stroke="#555" stroke-width="0.8"/>
<text x="1329.5" y="819.0" font-size="34" text-anchor="start" font-weight="normal" font-style="normal" fill="#262626" >1</text>
<text x="1329.0" y="1002.8" font-size="34" text-anchor="start" font-weight="normal" font-style="normal" fill="#262626" >0</text></svg>
</body></html>
